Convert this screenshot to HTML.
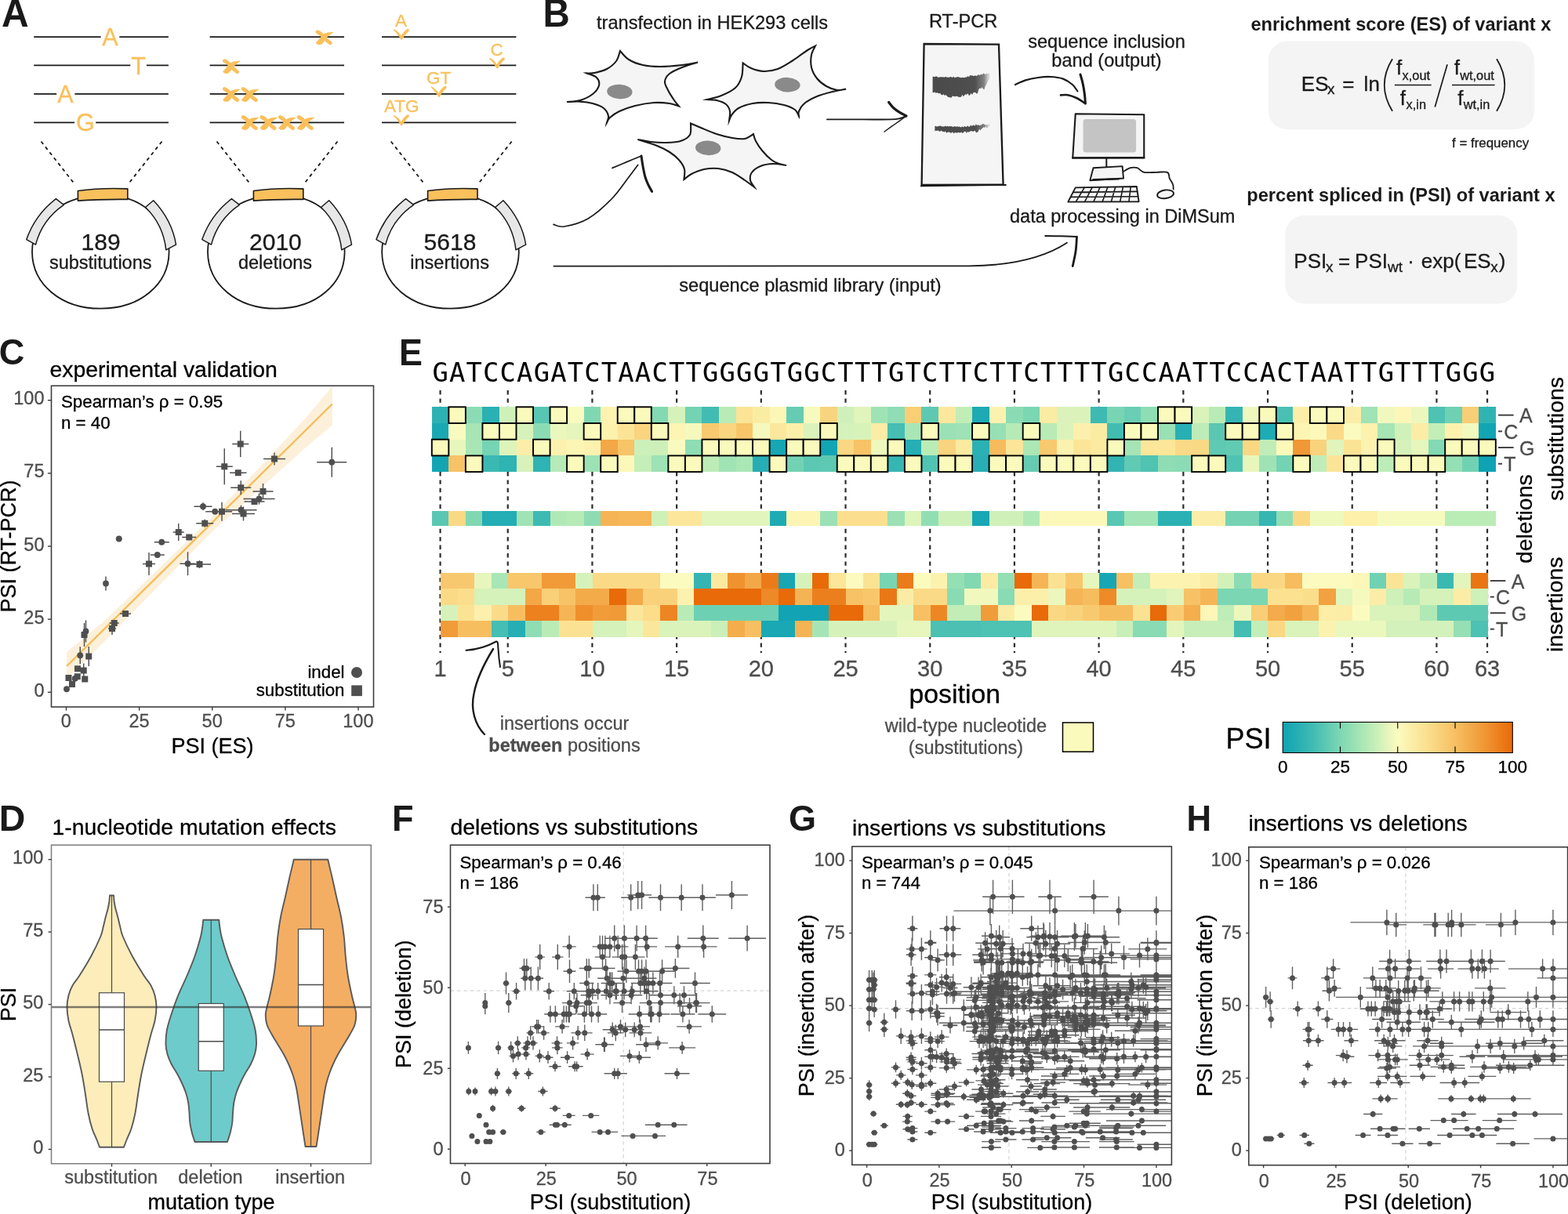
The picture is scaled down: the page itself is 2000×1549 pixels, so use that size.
<!DOCTYPE html>
<html lang="en"><head><meta charset="utf-8"><title>Figure</title>
<style>html,body{margin:0;padding:0;background:#fff}body{width:2000px;height:1549px;overflow:hidden}svg{display:block}text{font-family:"Liberation Sans", Arial, Helvetica, sans-serif}</style>
</head><body>
<svg width="2000" height="1549" viewBox="0 0 2000 1549">
<rect width="2000" height="1549" fill="#fff"/>
<g id="panelA">
<text transform="translate(2 34.1) scale(0.97 1)" x="0" y="0" font-size="49.5" font-weight="bold" fill="#1a1a1a">A</text>
<path d="M43.2,47.1H128.6M152.3,47.1H214.9M43.2,83.4H166.3M186.9,83.4H214.9M43.2,119.9H72.1M95.4,119.9H214.9M43.2,156.3H95M122.2,156.3H214.9" fill="none" stroke="#1a1a1a" stroke-width="1.75"/>
<text x="140.3" y="58.2" font-size="30.5" text-anchor="middle" fill="#f9c05c" stroke="#f9c05c" stroke-width="0.3">A</text>
<text x="176.5" y="94.6" font-size="30.5" text-anchor="middle" fill="#f9c05c" stroke="#f9c05c" stroke-width="0.3">T</text>
<text x="83.3" y="130.8" font-size="30.5" text-anchor="middle" fill="#f9c05c" stroke="#f9c05c" stroke-width="0.3">A</text>
<text x="108.8" y="167.2" font-size="30.5" text-anchor="middle" fill="#f9c05c" stroke="#f9c05c" stroke-width="0.3">G</text>
<path d="M267.6,47.1H439M267.6,83.4H439M267.6,119.9H439M267.6,156.3H439" fill="none" stroke="#1a1a1a" stroke-width="1.75"/>
<g transform="translate(413.2 47.9)"><path d="M-8.3,-7.1C-4.6,-5.6 -1.6,-2.6 0.6,0.4C2.8,3 5.2,5.4 8.1,7" fill="none" stroke="#f9c05c" stroke-width="4.7" stroke-linecap="round"/><path d="M-10.5,6.6C-7,3.4 -4.4,-0.8 -1.4,-3.6C2,-6.4 7.4,-7.4 12.4,-6.6C8.6,-4.6 5,-1.6 2.4,1.8C0.2,4.8 -1.6,8.4 -4.4,9.1C-6.8,9.6 -9.6,8.6 -10.5,6.6Z" fill="#f9c05c"/></g>
<g transform="translate(294.6 84.7)"><path d="M-8.3,-7.1C-4.6,-5.6 -1.6,-2.6 0.6,0.4C2.8,3 5.2,5.4 8.1,7" fill="none" stroke="#f9c05c" stroke-width="4.7" stroke-linecap="round"/><path d="M-10.5,6.6C-7,3.4 -4.4,-0.8 -1.4,-3.6C2,-6.4 7.4,-7.4 12.4,-6.6C8.6,-4.6 5,-1.6 2.4,1.8C0.2,4.8 -1.6,8.4 -4.4,9.1C-6.8,9.6 -9.6,8.6 -10.5,6.6Z" fill="#f9c05c"/></g>
<g transform="translate(294.6 120.6)"><path d="M-8.3,-7.1C-4.6,-5.6 -1.6,-2.6 0.6,0.4C2.8,3 5.2,5.4 8.1,7" fill="none" stroke="#f9c05c" stroke-width="4.7" stroke-linecap="round"/><path d="M-10.5,6.6C-7,3.4 -4.4,-0.8 -1.4,-3.6C2,-6.4 7.4,-7.4 12.4,-6.6C8.6,-4.6 5,-1.6 2.4,1.8C0.2,4.8 -1.6,8.4 -4.4,9.1C-6.8,9.6 -9.6,8.6 -10.5,6.6Z" fill="#f9c05c"/></g>
<g transform="translate(318.3 120.6)"><path d="M-8.3,-7.1C-4.6,-5.6 -1.6,-2.6 0.6,0.4C2.8,3 5.2,5.4 8.1,7" fill="none" stroke="#f9c05c" stroke-width="4.7" stroke-linecap="round"/><path d="M-10.5,6.6C-7,3.4 -4.4,-0.8 -1.4,-3.6C2,-6.4 7.4,-7.4 12.4,-6.6C8.6,-4.6 5,-1.6 2.4,1.8C0.2,4.8 -1.6,8.4 -4.4,9.1C-6.8,9.6 -9.6,8.6 -10.5,6.6Z" fill="#f9c05c"/></g>
<g transform="translate(318.3 156.6)"><path d="M-8.3,-7.1C-4.6,-5.6 -1.6,-2.6 0.6,0.4C2.8,3 5.2,5.4 8.1,7" fill="none" stroke="#f9c05c" stroke-width="4.7" stroke-linecap="round"/><path d="M-10.5,6.6C-7,3.4 -4.4,-0.8 -1.4,-3.6C2,-6.4 7.4,-7.4 12.4,-6.6C8.6,-4.6 5,-1.6 2.4,1.8C0.2,4.8 -1.6,8.4 -4.4,9.1C-6.8,9.6 -9.6,8.6 -10.5,6.6Z" fill="#f9c05c"/></g>
<g transform="translate(342 156.6)"><path d="M-8.3,-7.1C-4.6,-5.6 -1.6,-2.6 0.6,0.4C2.8,3 5.2,5.4 8.1,7" fill="none" stroke="#f9c05c" stroke-width="4.7" stroke-linecap="round"/><path d="M-10.5,6.6C-7,3.4 -4.4,-0.8 -1.4,-3.6C2,-6.4 7.4,-7.4 12.4,-6.6C8.6,-4.6 5,-1.6 2.4,1.8C0.2,4.8 -1.6,8.4 -4.4,9.1C-6.8,9.6 -9.6,8.6 -10.5,6.6Z" fill="#f9c05c"/></g>
<g transform="translate(365.6 156.6)"><path d="M-8.3,-7.1C-4.6,-5.6 -1.6,-2.6 0.6,0.4C2.8,3 5.2,5.4 8.1,7" fill="none" stroke="#f9c05c" stroke-width="4.7" stroke-linecap="round"/><path d="M-10.5,6.6C-7,3.4 -4.4,-0.8 -1.4,-3.6C2,-6.4 7.4,-7.4 12.4,-6.6C8.6,-4.6 5,-1.6 2.4,1.8C0.2,4.8 -1.6,8.4 -4.4,9.1C-6.8,9.6 -9.6,8.6 -10.5,6.6Z" fill="#f9c05c"/></g>
<g transform="translate(389.3 156.6)"><path d="M-8.3,-7.1C-4.6,-5.6 -1.6,-2.6 0.6,0.4C2.8,3 5.2,5.4 8.1,7" fill="none" stroke="#f9c05c" stroke-width="4.7" stroke-linecap="round"/><path d="M-10.5,6.6C-7,3.4 -4.4,-0.8 -1.4,-3.6C2,-6.4 7.4,-7.4 12.4,-6.6C8.6,-4.6 5,-1.6 2.4,1.8C0.2,4.8 -1.6,8.4 -4.4,9.1C-6.8,9.6 -9.6,8.6 -10.5,6.6Z" fill="#f9c05c"/></g>
<path d="M487,47.1H658.4M487,83.4H658.4M487,119.9H658.4M487,156.3H658.4" fill="none" stroke="#1a1a1a" stroke-width="1.75"/>
<text x="511.6" y="33.8" font-size="22.5" text-anchor="middle" fill="#f9c05c" stroke="#f9c05c" stroke-width="0.3">A</text>
<text x="633.6" y="70.9" font-size="22.5" text-anchor="middle" fill="#f9c05c" stroke="#f9c05c" stroke-width="0.3">C</text>
<text x="559.6" y="106.9" font-size="22.5" text-anchor="middle" fill="#f9c05c" stroke="#f9c05c" stroke-width="0.3">GT</text>
<text x="512.2" y="143.3" font-size="22.5" text-anchor="middle" fill="#f9c05c" stroke="#f9c05c" stroke-width="0.3">ATG</text>
<path transform="translate(512.2 50.2)" d="M-9.8,-13.2C-6.4,-11.4 -2.8,-8.4 -0.4,-4.6C1.6,-8.6 5,-12.2 8.2,-13.8C9.4,-13.2 9.8,-12 9.4,-10.8C5.8,-7.6 3,-3.4 0.6,0.4C0.2,0.8 -0.6,0.8 -1,0.2C-3,-3.8 -6.4,-8.2 -10.2,-11.8Z" fill="#f9c05c"/>
<path transform="translate(634.3 86.8)" d="M-9.8,-13.2C-6.4,-11.4 -2.8,-8.4 -0.4,-4.6C1.6,-8.6 5,-12.2 8.2,-13.8C9.4,-13.2 9.8,-12 9.4,-10.8C5.8,-7.6 3,-3.4 0.6,0.4C0.2,0.8 -0.6,0.8 -1,0.2C-3,-3.8 -6.4,-8.2 -10.2,-11.8Z" fill="#f9c05c"/>
<path transform="translate(559.9 123.4)" d="M-9.8,-13.2C-6.4,-11.4 -2.8,-8.4 -0.4,-4.6C1.6,-8.6 5,-12.2 8.2,-13.8C9.4,-13.2 9.8,-12 9.4,-10.8C5.8,-7.6 3,-3.4 0.6,0.4C0.2,0.8 -0.6,0.8 -1,0.2C-3,-3.8 -6.4,-8.2 -10.2,-11.8Z" fill="#f9c05c"/>
<path transform="translate(512.2 159.9)" d="M-9.8,-13.2C-6.4,-11.4 -2.8,-8.4 -0.4,-4.6C1.6,-8.6 5,-12.2 8.2,-13.8C9.4,-13.2 9.8,-12 9.4,-10.8C5.8,-7.6 3,-3.4 0.6,0.4C0.2,0.8 -0.6,0.8 -1,0.2C-3,-3.8 -6.4,-8.2 -10.2,-11.8Z" fill="#f9c05c"/>
<g transform="translate(0 0)">
<path d="M41,322C40.5,283 76,251 128,248.8C181,247 216,282 215.6,322C215,362 180,393.5 129,393.7C77,394 41.5,362 41,322Z" fill="none" stroke="#1a1a1a" stroke-width="1.8"/>
<path d="M71.4,253.7L81.4,261.4C63,274 51,291 45.5,312.1L33.8,305.6C41,285 54,267 71.4,253.7Z" fill="#e6e7e6" stroke="#1a1a1a" stroke-width="1.5" stroke-linejoin="round"/>
<path d="M195.7,255.8C210,271 221,291 224.5,312.1L211.8,318.8C209.5,298 200,278.5 185.5,264.5Z" fill="#e6e7e6" stroke="#1a1a1a" stroke-width="1.5" stroke-linejoin="round"/>
<path d="M99.4,243.5C120,240.6 142,240 162.8,240.9L162.8,254.4C142,254.2 120,254.6 99.4,256.1Z" fill="#f9c05c" stroke="#1a1a1a" stroke-width="1.6" stroke-linejoin="round"/>
<text x="128.6" y="318.6" font-size="30" text-anchor="middle" fill="#1a1a1a" stroke="#1a1a1a" stroke-width="0.3">189</text>
<text x="128.2" y="343.3" font-size="23.5" text-anchor="middle" fill="#1a1a1a" stroke="#1a1a1a" stroke-width="0.3">substitutions</text>
<path d="M52.5,180.5L95.4,235.1M206.5,180.5L163.6,234.8" fill="none" stroke="#1a1a1a" stroke-width="1.8" stroke-dasharray="4.4 4.4"/>
</g>
<g transform="translate(224 0)">
<path d="M41,322C40.5,283 76,251 128,248.8C181,247 216,282 215.6,322C215,362 180,393.5 129,393.7C77,394 41.5,362 41,322Z" fill="none" stroke="#1a1a1a" stroke-width="1.8"/>
<path d="M71.4,253.7L81.4,261.4C63,274 51,291 45.5,312.1L33.8,305.6C41,285 54,267 71.4,253.7Z" fill="#e6e7e6" stroke="#1a1a1a" stroke-width="1.5" stroke-linejoin="round"/>
<path d="M195.7,255.8C210,271 221,291 224.5,312.1L211.8,318.8C209.5,298 200,278.5 185.5,264.5Z" fill="#e6e7e6" stroke="#1a1a1a" stroke-width="1.5" stroke-linejoin="round"/>
<path d="M99.4,243.5C120,240.6 142,240 162.8,240.9L162.8,254.4C142,254.2 120,254.6 99.4,256.1Z" fill="#f9c05c" stroke="#1a1a1a" stroke-width="1.6" stroke-linejoin="round"/>
<text x="127.4" y="318.6" font-size="30" text-anchor="middle" fill="#1a1a1a" stroke="#1a1a1a" stroke-width="0.3">2010</text>
<text x="127" y="343.3" font-size="23.5" text-anchor="middle" fill="#1a1a1a" stroke="#1a1a1a" stroke-width="0.3">deletions</text>
<path d="M52.5,180.5L95.4,235.1M206.5,180.5L163.6,234.8" fill="none" stroke="#1a1a1a" stroke-width="1.8" stroke-dasharray="4.4 4.4"/>
</g>
<g transform="translate(446.2 0)">
<path d="M41,322C40.5,283 76,251 128,248.8C181,247 216,282 215.6,322C215,362 180,393.5 129,393.7C77,394 41.5,362 41,322Z" fill="none" stroke="#1a1a1a" stroke-width="1.8"/>
<path d="M71.4,253.7L81.4,261.4C63,274 51,291 45.5,312.1L33.8,305.6C41,285 54,267 71.4,253.7Z" fill="#e6e7e6" stroke="#1a1a1a" stroke-width="1.5" stroke-linejoin="round"/>
<path d="M195.7,255.8C210,271 221,291 224.5,312.1L211.8,318.8C209.5,298 200,278.5 185.5,264.5Z" fill="#e6e7e6" stroke="#1a1a1a" stroke-width="1.5" stroke-linejoin="round"/>
<path d="M99.4,243.5C120,240.6 142,240 162.8,240.9L162.8,254.4C142,254.2 120,254.6 99.4,256.1Z" fill="#f9c05c" stroke="#1a1a1a" stroke-width="1.6" stroke-linejoin="round"/>
<text x="127.8" y="318.6" font-size="30" text-anchor="middle" fill="#1a1a1a" stroke="#1a1a1a" stroke-width="0.3">5618</text>
<text x="127.4" y="343.3" font-size="23.5" text-anchor="middle" fill="#1a1a1a" stroke="#1a1a1a" stroke-width="0.3">insertions</text>
<path d="M52.5,180.5L95.4,235.1M206.5,180.5L163.6,234.8" fill="none" stroke="#1a1a1a" stroke-width="1.8" stroke-dasharray="4.4 4.4"/>
</g>
</g>
<g id="panelB">
<text transform="translate(692.6 34.1) scale(0.96 1)" x="0" y="0" font-size="49.5" font-weight="bold" fill="#1a1a1a">B</text>
<text x="761" y="36.6" font-size="23.6" fill="#1a1a1a" stroke="#1a1a1a" stroke-width="0.3">transfection in HEK293 cells</text>
<text x="1185" y="35" font-size="23.6" fill="#1a1a1a" stroke="#1a1a1a" stroke-width="0.3">RT-PCR</text>
<text x="1411.5" y="60.6" font-size="23.6" text-anchor="middle" fill="#1a1a1a" stroke="#1a1a1a" stroke-width="0.3">sequence inclusion</text>
<text x="1411.5" y="84.6" font-size="23.6" text-anchor="middle" fill="#1a1a1a" stroke="#1a1a1a" stroke-width="0.3">band (output)</text>
<text x="1288" y="283.6" font-size="23.5" fill="#1a1a1a" stroke="#1a1a1a" stroke-width="0.3">data processing in DiMSum</text>
<text x="1033.5" y="372.3" font-size="23.6" text-anchor="middle" fill="#1a1a1a" stroke="#1a1a1a" stroke-width="0.3">sequence plasmid library (input)</text>
<path d="M723,130C725.83,129.67 734.5,129.67 740,128C745.5,126.33 752,123.17 756,120C760,116.83 763.17,112.5 764,109C764.83,105.5 763.67,101.6 761,99C758.33,96.4 750.17,94.33 748,93.4C749.67,93.33 753.67,93.9 758,93C762.33,92.1 769.33,90.5 774,88C778.67,85.5 783.17,81.83 786,78C788.83,74.17 790.17,67.17 791,65C792.83,66.83 797.17,73 802,76C806.83,79 813.33,81.5 820,83C826.67,84.5 833.67,85 842,85C850.33,85 862,83.9 870,83C878,82.1 886.67,80.17 890,79.6C886.67,80.67 876,83.6 870,86C864,88.4 857.67,91 854,94C850.33,97 848.33,100.5 848,104C847.67,107.5 850,111 852,115C854,119 857.67,124.57 860,128C862.33,131.43 865,134.33 866,135.6C864,135 859.33,132.77 854,132C848.67,131.23 841.33,130.5 834,131C826.67,131.5 817.33,133.17 810,135C802.67,136.83 795.33,139.5 790,142C784.67,144.5 780.67,147.57 778,150C775.33,152.43 774.67,155.5 774,156.6C774.33,155.17 776.67,151.1 776,148C775.33,144.9 773.33,140.67 770,138C766.67,135.33 761,133.4 756,132C751,130.6 745.5,129.93 740,129.6C734.5,129.27 725.83,129.93 723,130Z" fill="#f5f5f5" stroke="#1a1a1a" stroke-width="2.1" stroke-linejoin="miter" stroke-miterlimit="8"/>
<ellipse cx="790.4" cy="117" rx="16.2" ry="9.3" fill="#8a8a8a" transform="rotate(3 790.4 117)"/>
<path d="M901.6,127C904.67,126.17 913.93,124.5 920,122C926.07,119.5 933.67,116 938,112C942.33,108 944.4,103.27 946,98C947.6,92.73 947.33,83.33 947.6,80.4C949.33,81.5 953.6,85.23 958,87C962.4,88.77 968.33,90.83 974,91C979.67,91.17 986,90.17 992,88C998,85.83 1003.67,82 1010,78C1016.33,74 1025,67.23 1030,64C1035,60.77 1038.33,59.5 1040,58.6C1039.17,60.5 1035.83,65.43 1035,70C1034.17,74.57 1033.83,81 1035,86C1036.17,91 1038.83,96 1042,100C1045.17,104 1049.67,107.5 1054,110C1058.33,112.5 1063.83,114.4 1068,115C1072.17,115.6 1077.17,113.83 1079,113.6C1076.17,114.17 1068.17,115.43 1062,117C1055.83,118.57 1048,120.5 1042,123C1036,125.5 1029.83,128.83 1026,132C1022.17,135.17 1020.17,139.27 1019,142C1017.83,144.73 1019,147.33 1019,148.4C1018.17,147 1017.17,142.4 1014,140C1010.83,137.6 1005.67,135.5 1000,134C994.33,132.5 986.67,131.33 980,131C973.33,130.67 966.33,130.83 960,132C953.67,133.17 946.5,135.5 942,138C937.5,140.5 935,144.33 933,147C931,149.67 930.5,152.83 930,154C930.17,152 931.67,145.5 931,142C930.33,138.5 928.83,135.33 926,133C923.17,130.67 918.07,129 914,128C909.93,127 903.67,127.17 901.6,127Z" fill="#f5f5f5" stroke="#1a1a1a" stroke-width="2.1" stroke-linejoin="miter" stroke-miterlimit="8"/>
<ellipse cx="1004.4" cy="108.2" rx="16.2" ry="9.3" fill="#8a8a8a" transform="rotate(3 1004.4 108.2)"/>
<path d="M813.4,178C816.17,178.5 823.9,180.33 830,181C836.1,181.67 843.67,182.17 850,182C856.33,181.83 863,181.67 868,180C873,178.33 877.83,175.77 880,172C882.17,168.23 880.83,159.83 881,157.4C883.17,158.33 888.5,160.73 894,163C899.5,165.27 907.33,168.83 914,171C920.67,173.17 928,175 934,176C940,177 945.5,177.83 950,177C954.5,176.17 959.17,172 961,171C961.5,172.5 962.17,176.5 964,180C965.83,183.5 968.67,188 972,192C975.33,196 980.33,201.17 984,204C987.67,206.83 990.83,207.83 994,209C997.17,210.17 1001.5,210.67 1003,211C1000.17,210.67 991.5,208.83 986,209C980.5,209.17 974.5,210.17 970,212C965.5,213.83 961.17,217 959,220C956.83,223 956.43,226.83 957,230C957.57,233.17 961.5,237.5 962.4,239C960.33,237.5 954.73,233.17 950,230C945.27,226.83 939.67,222.5 934,220C928.33,217.5 922,215.67 916,215C910,214.33 903.67,214.83 898,216C892.33,217.17 886.27,219.83 882,222C877.73,224.17 874,227.83 872.4,229C872.5,226.83 874.07,220.17 873,216C871.93,211.83 869.17,207.67 866,204C862.83,200.33 858.67,197 854,194C849.33,191 844.77,188.67 838,186C831.23,183.33 817.5,179.33 813.4,178Z" fill="#f5f5f5" stroke="#1a1a1a" stroke-width="2.1" stroke-linejoin="miter" stroke-miterlimit="8"/>
<ellipse cx="903.2" cy="188.8" rx="16.2" ry="9.3" fill="#8a8a8a" transform="rotate(3 903.2 188.8)"/>
<path d="M706,286.4C708.33,286.83 712.67,290.23 720,289C727.33,287.77 740,284.83 750,279C760,273.17 771.33,262.83 780,254C788.67,245.17 796.4,233.27 802,226C807.6,218.73 811.67,213 813.6,210.4" fill="none" stroke="#1a1a1a" stroke-width="1.7" stroke-linecap="round" stroke-linejoin="round"/>
<path d="M781,214.4C784.17,213.07 793.83,208.97 800,206.4C806.17,203.83 815,200.23 818,199" fill="none" stroke="#1a1a1a" stroke-width="1.7" stroke-linecap="round" stroke-linejoin="round"/>
<path d="M818,199C818.33,201.17 819.17,207.5 820,212C820.83,216.5 821.83,222 823,226C824.17,230 825.57,232.93 827,236C828.43,239.07 830.83,243 831.6,244.4" fill="none" stroke="#1a1a1a" stroke-width="3" stroke-linecap="round" stroke-linejoin="round"/>
<path d="M1055,152.4C1062.5,152.4 1086.5,152.4 1100,152.4C1113.5,152.4 1128,152.63 1136,152.4C1144,152.17 1144.67,151.73 1148,151C1151.33,150.27 1154.67,148.5 1156,148" fill="none" stroke="#1a1a1a" stroke-width="1.9" stroke-linecap="round" stroke-linejoin="round"/>
<path d="M1133.6,130.4C1134.67,131.67 1137.6,135.8 1140,138C1142.4,140.2 1145.33,141.93 1148,143.6C1150.67,145.27 1154.67,147.27 1156,148" fill="none" stroke="#1a1a1a" stroke-width="3.2" stroke-linecap="round" stroke-linejoin="round"/>
<path d="M1156,148C1153.67,149.67 1146.67,154.67 1142,158C1137.33,161.33 1130.33,166.33 1128,168" fill="none" stroke="#1a1a1a" stroke-width="1.5" stroke-linecap="round" stroke-linejoin="round"/>
<path d="M1178.6,56L1274,56.6L1279.6,235.6L1175.6,236Z" fill="#f5f5f5" stroke="#1a1a1a" stroke-width="2.3" stroke-linejoin="miter"/>
<path d="M1174,237.4L1283.6,236" fill="none" stroke="#1a1a1a" stroke-width="1.8"/>
<defs><linearGradient id="bandfade" x1="0" x2="1" y1="0" y2="0"><stop offset="0" stop-color="#4a4a4a"/><stop offset="0.74" stop-color="#4f4f4f"/><stop offset="0.9" stop-color="#6e6e6e" stop-opacity="0.85"/><stop offset="1" stop-color="#999" stop-opacity="0.2"/></linearGradient></defs>
<path d="M1189.6,97.66 L1191,97.83 L1192.4,98.18 L1193.81,97.33 L1195.21,97.68 L1196.61,98.77 L1198.01,98.56 L1199.41,98.29 L1200.82,98.3 L1202.22,98.15 L1203.62,98.41 L1205.02,98.59 L1206.42,97.84 L1207.82,98.84 L1209.23,98.61 L1210.63,98.64 L1212.03,98.07 L1213.43,98.18 L1214.83,99.04 L1216.24,97.62 L1217.64,99.27 L1219.04,98.62 L1220.44,98.39 L1221.84,98.07 L1223.25,98.57 L1224.65,98.79 L1226.05,99.18 L1227.45,98.75 L1228.85,99.1 L1230.26,99.08 L1231.66,98.47 L1233.06,98.56 L1234.46,97.02 L1235.86,98.16 L1237.27,96.03 L1238.67,96.58 L1240.07,96.04 L1241.47,97.31 L1242.87,96.45 L1244.28,96.57 L1245.68,96.9 L1247.08,95.83 L1248.48,95.26 L1249.88,95.95 L1251.28,94.59 L1252.69,95.46 L1254.09,93.47 L1255.49,93.88 L1256.89,95.23 L1258.29,93.61 L1259.7,93.89 L1261.1,93.45 L1262.5,94.57 L1262.5,100.03 L1261.1,101.71 L1259.7,104.39 L1258.29,107.46 L1256.89,109.83 L1255.49,113.96 L1254.09,113.73 L1252.69,111.16 L1251.28,113.04 L1249.88,112.46 L1248.48,113.79 L1247.08,118.72 L1245.68,119.72 L1244.28,118.08 L1242.87,117.7 L1241.47,118.16 L1240.07,121.03 L1238.67,118.74 L1237.27,121.29 L1235.86,122.12 L1234.46,118.95 L1233.06,121.02 L1231.66,120.01 L1230.26,121.54 L1228.85,123.17 L1227.45,120.76 L1226.05,123.8 L1224.65,123.86 L1223.25,124.03 L1221.84,123.25 L1220.44,122.84 L1219.04,122.77 L1217.64,123.31 L1216.24,122.75 L1214.83,122.44 L1213.43,124.76 L1212.03,124.21 L1210.63,124.29 L1209.23,123.86 L1207.82,122.42 L1206.42,120.89 L1205.02,121.89 L1203.62,120.14 L1202.22,121.34 L1200.82,121.17 L1199.41,119.04 L1198.01,119.37 L1196.61,118.97 L1195.21,118.12 L1193.81,119.12 L1192.4,117.3 L1191,118.26 L1189.6,118.09Z" fill="url(#bandfade)"/>
<path d="M1192.4,160.91 L1193.75,160.65 L1195.1,161.66 L1196.44,161.09 L1197.79,160.92 L1199.14,160.35 L1200.49,161.28 L1201.84,161.3 L1203.18,161.42 L1204.53,161.5 L1205.88,160.41 L1207.23,161.53 L1208.58,160.84 L1209.93,161.46 L1211.27,161.09 L1212.62,161.13 L1213.97,161.03 L1215.32,161.95 L1216.67,161.6 L1218.01,161.12 L1219.36,162.12 L1220.71,160.91 L1222.06,161.97 L1223.41,161.2 L1224.75,162.3 L1226.1,162.37 L1227.45,161.24 L1228.8,162.44 L1230.15,160.89 L1231.49,161.48 L1232.84,162 L1234.19,160.37 L1235.54,161.68 L1236.89,161.49 L1238.23,159.62 L1239.58,161.06 L1240.93,159.72 L1242.28,159.69 L1243.63,160.8 L1244.97,158.2 L1246.32,160.37 L1247.67,159.03 L1249.02,160.28 L1250.37,159.72 L1251.72,159.46 L1253.06,158.36 L1254.41,158.02 L1255.76,158.85 L1257.11,159.25 L1258.46,159.27 L1259.8,159.11 L1261.15,158.89 L1262.5,156.09 L1262.5,161.14 L1261.15,160.74 L1259.8,163.12 L1258.46,163.33 L1257.11,161.44 L1255.76,163.05 L1254.41,162.19 L1253.06,163.64 L1251.72,164.79 L1250.37,166.62 L1249.02,164.62 L1247.67,168.18 L1246.32,168.85 L1244.97,169.14 L1243.63,166.4 L1242.28,167.61 L1240.93,167.69 L1239.58,167.18 L1238.23,167.35 L1236.89,167.68 L1235.54,168.9 L1234.19,167.76 L1232.84,169.92 L1231.49,167.85 L1230.15,167.82 L1228.8,169.14 L1227.45,169.98 L1226.1,168.57 L1224.75,169.59 L1223.41,169.37 L1222.06,168.74 L1220.71,169.8 L1219.36,169.21 L1218.01,169.12 L1216.67,170.53 L1215.32,168.4 L1213.97,169.25 L1212.62,169.69 L1211.27,168.75 L1209.93,168.58 L1208.58,168.73 L1207.23,169.8 L1205.88,167.33 L1204.53,168.77 L1203.18,167.64 L1201.84,167.71 L1200.49,166.61 L1199.14,167.69 L1197.79,167.46 L1196.44,166.14 L1195.1,167.12 L1193.75,166.62 L1192.4,167.43Z" fill="url(#bandfade)"/>
<path d="M1295,108C1297.17,107.07 1303.17,103.9 1308,102.4C1312.83,100.9 1318.67,99.73 1324,99C1329.33,98.27 1334.67,97.73 1340,98C1345.33,98.27 1351.33,98.93 1356,100.6C1360.67,102.27 1364.93,105.37 1368,108C1371.07,110.63 1373.33,115 1374.4,116.4" fill="none" stroke="#1a1a1a" stroke-width="2.2" stroke-linecap="round" stroke-linejoin="round"/>
<path d="M1378,95C1378.5,96.83 1380.1,101.83 1381,106C1381.9,110.17 1382.83,115.67 1383.4,120C1383.97,124.33 1384.23,130 1384.4,132" fill="none" stroke="#1a1a1a" stroke-width="3" stroke-linecap="round" stroke-linejoin="round"/>
<path d="M1353,121.4C1354.5,121.37 1358.67,120.6 1362,121.2C1365.33,121.8 1369.27,123.2 1373,125C1376.73,126.8 1382.5,130.83 1384.4,132" fill="none" stroke="#1a1a1a" stroke-width="2.6" stroke-linecap="round" stroke-linejoin="round"/>
<path d="M1371.75,145.26 L1459.26,146.31 L1459.26,201.26 L1368.25,201.26Z" fill="#f5f5f5" stroke="#1a1a1a" stroke-width="2.1" stroke-linejoin="round" stroke-linecap="round"/>
<path d="M1367.2,201.61L1460.31,201.26" fill="none" stroke="#1a1a1a" stroke-width="2.4"/>
<rect x="1381.55" y="151.91" width="67.55" height="42.7" fill="#c4c4c4" rx="3.5" ry="3.5"/>
<path d="M1411.31,202.31 L1411.31,217.01" fill="none" stroke="#1a1a1a" stroke-width="2" stroke-linejoin="round" stroke-linecap="round"/>
<path d="M1394.5,214.21 L1431.61,212.11 L1433.01,227.51 L1390.3,230.31Z" fill="#f5f5f5" stroke="#1a1a1a" stroke-width="1.9" stroke-linejoin="round" stroke-linecap="round"/>
<path d="M1394.5,229.26 L1426.71,228.21" fill="none" stroke="#1a1a1a" stroke-width="2.4" stroke-linejoin="round" stroke-linecap="round"/>
<path d="M1371.75,239.41 L1449.81,238.01 L1452.61,257.26 L1362.3,257.61Z" fill="#f5f5f5" stroke="#1a1a1a" stroke-width="1.9" stroke-linejoin="round" stroke-linecap="round"/>
<path d="M1368.63,245.42L1450.73,244.36M1365.52,251.42L1451.66,250.72M1383.61,238.71L1372.19,257.61M1393.37,238.71L1383.48,257.61M1403.12,238.71L1394.77,257.61M1412.88,238.71L1406.06,257.61M1422.64,238.71L1417.34,257.61M1432.39,238.71L1428.63,257.61M1442.15,238.71L1439.92,257.61" fill="none" stroke="#1a1a1a" stroke-width="1.6"/>
<path d="M1433.01,218.76C1434.47,218 1438.84,214.97 1441.76,214.21C1444.67,213.45 1447.59,213.28 1450.51,214.21C1453.42,215.14 1455.17,218.88 1459.26,219.81C1463.34,220.74 1470.05,219.81 1475.01,219.81C1479.97,219.81 1486.21,218.53 1489.01,219.81C1491.81,221.09 1490.64,224.94 1491.81,227.51C1492.98,230.08 1495.19,232.88 1496.01,235.21C1496.83,237.55 1496.59,240.46 1496.71,241.51" fill="none" stroke="#1a1a1a" stroke-width="1.8" stroke-linecap="round" stroke-linejoin="round"/>
<ellipse cx="1486.56" cy="247.81" rx="10.5" ry="5.3" fill="#f5f5f5" stroke="#1a1a1a" stroke-width="1.9" transform="rotate(-8 1486.56 247.81)"/>
<path d="M706.4,339.6L1236,339.3C1290,339 1330,330 1361,309.8" fill="none" stroke="#1a1a1a" stroke-width="1.8" stroke-linecap="round"/>
<path d="M1333.25,301.02C1336.46,301.07 1345.79,301.19 1352.5,301.37C1359.21,301.54 1370,301.95 1373.5,302.07" fill="none" stroke="#1a1a1a" stroke-width="2" stroke-linecap="round" stroke-linejoin="round"/>
<path d="M1373.5,302.07C1373.27,305.1 1372.98,314.02 1372.1,320.27C1371.23,326.51 1368.9,336.31 1368.25,339.52" fill="none" stroke="#1a1a1a" stroke-width="2.8" stroke-linecap="round" stroke-linejoin="round"/>
<text x="1595.5" y="38.5" font-size="23.6" font-weight="bold" fill="#1a1a1a">enrichment score (ES) of variant x</text>
<rect x="1617.8" y="52.5" width="339.2" height="112.7" fill="#f4f4f4" rx="24" ry="24"/>
<text x="1590.3" y="257.3" font-size="23.6" font-weight="bold" fill="#1a1a1a">percent spliced in (PSI) of variant x</text>
<rect x="1639.5" y="274.8" width="295.8" height="112.7" fill="#f4f4f4" rx="24" ry="24"/>
<text x="1852" y="188.1" font-size="16.9" fill="#1a1a1a" stroke="#1a1a1a" stroke-width="0.3">f = frequency</text>
<text x="1659.82" y="115.51" font-size="26" fill="#1a1a1a" stroke="#1a1a1a" stroke-width="0.3">ES</text>
<text x="1693.07" y="119.71" font-size="19" fill="#1a1a1a" stroke="#1a1a1a" stroke-width="0.3">x</text>
<text x="1712.32" y="115.51" font-size="26" fill="#1a1a1a" stroke="#1a1a1a" stroke-width="0.3">=</text>
<text x="1739.62" y="115.51" font-size="26" fill="#1a1a1a" stroke="#1a1a1a" stroke-width="0.3">ln</text>
<text x="1780.92" y="95.2" font-size="26" fill="#1a1a1a" stroke="#1a1a1a" stroke-width="0.3">f</text>
<text x="1788.62" y="101.51" font-size="16.4" fill="#1a1a1a" stroke="#1a1a1a" stroke-width="0.3">x,out</text>
<text x="1785.82" y="134.06" font-size="26" fill="#1a1a1a" stroke="#1a1a1a" stroke-width="0.3">f</text>
<text x="1793.52" y="139.31" font-size="16.4" fill="#1a1a1a" stroke="#1a1a1a" stroke-width="0.3">x,in</text>
<text x="1854.78" y="95.2" font-size="26" fill="#1a1a1a" stroke="#1a1a1a" stroke-width="0.3">f</text>
<text x="1862.13" y="101.51" font-size="16.4" fill="#1a1a1a" stroke="#1a1a1a" stroke-width="0.3">wt,out</text>
<text x="1859.33" y="134.06" font-size="26" fill="#1a1a1a" stroke="#1a1a1a" stroke-width="0.3">f</text>
<text x="1866.68" y="139.31" font-size="16.4" fill="#1a1a1a" stroke="#1a1a1a" stroke-width="0.3">wt,in</text>
<path d="M1778.82,108.51H1825.73M1851.98,108.51H1906.58" fill="none" stroke="#1a1a1a" stroke-width="1.6"/>
<path d="M1830.28,136.51L1846.03,82.25" fill="none" stroke="#1a1a1a" stroke-width="1.7"/>
<path d="M1776.02,75.25Q1755.52,108.51 1776.02,141.76" fill="none" stroke="#1a1a1a" stroke-width="1.8"/>
<path d="M1909.03,75.25Q1929.53,108.51 1909.03,141.76" fill="none" stroke="#1a1a1a" stroke-width="1.8"/>
<text x="1650.37" y="342.32" font-size="26" fill="#1a1a1a" stroke="#1a1a1a" stroke-width="0.3">PSI</text>
<text x="1690.97" y="346.52" font-size="19" fill="#1a1a1a" stroke="#1a1a1a" stroke-width="0.3">x</text>
<text x="1707.07" y="342.32" font-size="26" fill="#1a1a1a" stroke="#1a1a1a" stroke-width="0.3">=</text>
<text x="1728.07" y="342.32" font-size="26" fill="#1a1a1a" stroke="#1a1a1a" stroke-width="0.3">PSI</text>
<text x="1770.07" y="346.52" font-size="19" fill="#1a1a1a" stroke="#1a1a1a" stroke-width="0.3">wt</text>
<text x="1799.47" y="342.32" font-size="26" text-anchor="middle" fill="#1a1a1a" stroke="#1a1a1a" stroke-width="0.3">·</text>
<text x="1812.78" y="342.32" font-size="26" fill="#1a1a1a" stroke="#1a1a1a" stroke-width="0.3">exp(</text>
<text x="1867.03" y="342.32" font-size="26" fill="#1a1a1a" stroke="#1a1a1a" stroke-width="0.3">ES</text>
<text x="1901.33" y="346.52" font-size="19" fill="#1a1a1a" stroke="#1a1a1a" stroke-width="0.3">x</text>
<text x="1911.83" y="342.32" font-size="26" fill="#1a1a1a" stroke="#1a1a1a" stroke-width="0.3">)</text>
</g>
<g id="panelC">
<text transform="translate(-1.2 465) scale(0.97 1)" x="0" y="0" font-size="46.5" font-weight="bold" fill="#1a1a1a">C</text>
<path d="M85,832 L130,795 L200,728 L270,660 L340,587 L390,533 L423.75,493 L423.75,542.5 L390,571 L340,616 L270,679 L200,750 L130,822 L85,866Z" fill="#fdf0da"/>
<line x1="85" y1="850" x2="423.75" y2="515.5" stroke="#f5bc58" stroke-width="2.3"/>
<path d="M296.25,566.5H317.25M306.75,549.75V583.25M275.75,595.25H296.75M286.25,572.25V618.25M293.05,603.25H314.45M303.75,600.25V606.25M336,585.5H364M350,577.5V593.5M404.25,589.75H442.25M423.25,570.75V608.75M294.25,622.25H320.25M307.25,613.25V631.25M322.5,627H348.5M335.5,617V637M310.5,636.5H350.5M330.5,629.5V643.5M311.5,640H337.5M324.5,637V643M247.5,646.25H270.5M259,641.25V651.25M262.25,652.75H286.25M274.25,649.75V655.75M270,652.75H296M283,640.75V664.75M287.5,650.75H327.5M307.5,644.75V656.75M296,655.5H325M310.5,646.5V664.5M250.25,667.75H272.25M261.25,662.75V672.75M220.75,679H234.75M227.75,668V690M232.25,685.5H250.25M241.25,682.5V688.5M196.75,691.75H215.75M206.25,688.75V694.75M147.75,687.5H155.75M151.75,685.5V689.5M191.75,708H209.75M200.75,705V711M182,719.5H198M190,705V734M229.5,719.25H249.5M239.5,704.25V734.25M240,720H269M254.5,715V725M132,744.5H138M135,735.5V753.5M153,783H167M160,780V786M139.75,795H151.75M145.75,791V799M138,802H148M143,794V810M106.5,805.5H112.5M109.5,791.5V819.5M104.5,810H110.5M107.5,795V825M99.25,836.25H105.25M102.25,825.25V847.25M110.25,837.5H116.25M113.25,825V850M96,853.25H102M99,850.25V856.25M103.75,855.5H109.75M106.75,846.5V864.5M84.5,865H90.5M87.5,861V869M95.75,863.25H101.75M98.75,860.25V866.25M92.75,865.75H98.75M95.75,862.75V868.75M105.25,866.5H111.25M108.25,863.5V869.5M89,873H95M92,870V876M83,879.25H87M85,876.25V882.25" fill="none" stroke="#4f4f4f" stroke-width="1.45"/>
<rect x="302.75" y="562.5" width="8" height="8" fill="#4f4f4f"/>
<rect x="282.25" y="591.25" width="8" height="8" fill="#4f4f4f"/>
<rect x="299.75" y="599.25" width="8" height="8" fill="#4f4f4f"/>
<rect x="346" y="581.5" width="8" height="8" fill="#4f4f4f"/>
<circle cx="423.25" cy="589.75" r="3.9" fill="#4f4f4f"/>
<rect x="303.25" y="618.25" width="8" height="8" fill="#4f4f4f"/>
<rect x="331.5" y="623" width="8" height="8" fill="#4f4f4f"/>
<circle cx="330.5" cy="636.5" r="3.9" fill="#4f4f4f"/>
<rect x="320.5" y="636" width="8" height="8" fill="#4f4f4f"/>
<circle cx="259" cy="646.25" r="3.9" fill="#4f4f4f"/>
<circle cx="274.25" cy="652.75" r="3.9" fill="#4f4f4f"/>
<rect x="279" y="648.75" width="8" height="8" fill="#4f4f4f"/>
<circle cx="307.5" cy="650.75" r="3.9" fill="#4f4f4f"/>
<rect x="306.5" y="651.5" width="8" height="8" fill="#4f4f4f"/>
<rect x="257.25" y="663.75" width="8" height="8" fill="#4f4f4f"/>
<rect x="223.75" y="675" width="8" height="8" fill="#4f4f4f"/>
<rect x="237.25" y="681.5" width="8" height="8" fill="#4f4f4f"/>
<circle cx="206.25" cy="691.75" r="3.9" fill="#4f4f4f"/>
<circle cx="151.75" cy="687.5" r="3.9" fill="#4f4f4f"/>
<circle cx="200.75" cy="708" r="3.9" fill="#4f4f4f"/>
<rect x="186" y="715.5" width="8" height="8" fill="#4f4f4f"/>
<circle cx="239.5" cy="719.25" r="3.9" fill="#4f4f4f"/>
<rect x="250.5" y="716" width="8" height="8" fill="#4f4f4f"/>
<circle cx="135" cy="744.5" r="3.9" fill="#4f4f4f"/>
<rect x="156" y="779" width="8" height="8" fill="#4f4f4f"/>
<rect x="141.75" y="791" width="8" height="8" fill="#4f4f4f"/>
<rect x="139" y="798" width="8" height="8" fill="#4f4f4f"/>
<circle cx="109.5" cy="805.5" r="3.9" fill="#4f4f4f"/>
<rect x="103.5" y="806" width="8" height="8" fill="#4f4f4f"/>
<circle cx="102.25" cy="836.25" r="3.9" fill="#4f4f4f"/>
<rect x="109.25" y="833.5" width="8" height="8" fill="#4f4f4f"/>
<rect x="95" y="849.25" width="8" height="8" fill="#4f4f4f"/>
<rect x="102.75" y="851.5" width="8" height="8" fill="#4f4f4f"/>
<rect x="83.5" y="861" width="8" height="8" fill="#4f4f4f"/>
<rect x="94.75" y="859.25" width="8" height="8" fill="#4f4f4f"/>
<circle cx="95.75" cy="865.75" r="3.9" fill="#4f4f4f"/>
<rect x="104.25" y="862.5" width="8" height="8" fill="#4f4f4f"/>
<rect x="88" y="869" width="8" height="8" fill="#4f4f4f"/>
<circle cx="85" cy="879.25" r="3.9" fill="#4f4f4f"/>
<rect x="65.5" y="492.25" width="411" height="409.75" fill="none" stroke="#3c3c3c" stroke-width="1.6"/>
<line x1="84.5" y1="902" x2="84.5" y2="906.6" stroke="#3c3c3c" stroke-width="1.4"/>
<text x="84.4" y="928.3" font-size="23.5" text-anchor="middle" fill="#4d4d4d" stroke="#4d4d4d" stroke-width="0.3">0</text>
<line x1="177.62" y1="902" x2="177.62" y2="906.6" stroke="#3c3c3c" stroke-width="1.4"/>
<text x="177.53" y="928.3" font-size="23.5" text-anchor="middle" fill="#4d4d4d" stroke="#4d4d4d" stroke-width="0.3">25</text>
<line x1="270.75" y1="902" x2="270.75" y2="906.6" stroke="#3c3c3c" stroke-width="1.4"/>
<text x="270.65" y="928.3" font-size="23.5" text-anchor="middle" fill="#4d4d4d" stroke="#4d4d4d" stroke-width="0.3">50</text>
<line x1="363.88" y1="902" x2="363.88" y2="906.6" stroke="#3c3c3c" stroke-width="1.4"/>
<text x="363.77" y="928.3" font-size="23.5" text-anchor="middle" fill="#4d4d4d" stroke="#4d4d4d" stroke-width="0.3">75</text>
<line x1="457" y1="902" x2="457" y2="906.6" stroke="#3c3c3c" stroke-width="1.4"/>
<text x="456.9" y="928.3" font-size="23.5" text-anchor="middle" fill="#4d4d4d" stroke="#4d4d4d" stroke-width="0.3">100</text>
<line x1="60.9" y1="883.25" x2="65.5" y2="883.25" stroke="#3c3c3c" stroke-width="1.4"/>
<text x="56.5" y="888.75" font-size="23.5" text-anchor="end" fill="#4d4d4d" stroke="#4d4d4d" stroke-width="0.3">0</text>
<line x1="60.9" y1="790.12" x2="65.5" y2="790.12" stroke="#3c3c3c" stroke-width="1.4"/>
<text x="56.5" y="795.62" font-size="23.5" text-anchor="end" fill="#4d4d4d" stroke="#4d4d4d" stroke-width="0.3">25</text>
<line x1="60.9" y1="697" x2="65.5" y2="697" stroke="#3c3c3c" stroke-width="1.4"/>
<text x="56.5" y="702.5" font-size="23.5" text-anchor="end" fill="#4d4d4d" stroke="#4d4d4d" stroke-width="0.3">50</text>
<line x1="60.9" y1="603.88" x2="65.5" y2="603.88" stroke="#3c3c3c" stroke-width="1.4"/>
<text x="56.5" y="609.38" font-size="23.5" text-anchor="end" fill="#4d4d4d" stroke="#4d4d4d" stroke-width="0.3">75</text>
<line x1="60.9" y1="510.75" x2="65.5" y2="510.75" stroke="#3c3c3c" stroke-width="1.4"/>
<text x="56.5" y="516.25" font-size="23.5" text-anchor="end" fill="#4d4d4d" stroke="#4d4d4d" stroke-width="0.3">100</text>
<text x="63.5" y="481.1" font-size="28.4" stroke="#000" stroke-width="0.3">experimental validation</text>
<text x="271" y="960.5" font-size="27" text-anchor="middle" stroke="#000" stroke-width="0.3">PSI (ES)</text>
<text x="19.5" y="697" font-size="27" text-anchor="middle" transform="rotate(-90 19.5 697)" stroke="#000" stroke-width="0.3">PSI (RT-PCR)</text>
<text x="78" y="520" font-size="22.3" stroke="#000" stroke-width="0.3">Spearman’s ρ = 0.95</text>
<text x="78" y="546.5" font-size="22.3" stroke="#000" stroke-width="0.3">n = 40</text>
<text x="439.5" y="864.5" font-size="22.3" text-anchor="end" stroke="#000" stroke-width="0.3">indel</text>
<text x="439.5" y="887.7" font-size="22.3" text-anchor="end" stroke="#000" stroke-width="0.3">substitution</text>
<circle cx="455" cy="858" r="7" fill="#4f4f4f"/>
<rect x="448.2" y="874.4" width="13.7" height="13.7" fill="#4f4f4f"/>
</g>
<g id="panelD">
<text transform="translate(-1.2 1060) scale(1 1)" x="0" y="0" font-size="46.5" font-weight="bold" fill="#1a1a1a">D</text>
<path d="M145,1142.5C145.12,1143.96 145.33,1148.33 145.75,1151.25C146.17,1154.17 146.75,1156.88 147.5,1160C148.25,1163.12 149.29,1166.25 150.25,1170C151.21,1173.75 152.17,1178.33 153.25,1182.5C154.33,1186.67 154.17,1188.75 156.75,1195C159.33,1201.25 164.25,1211.67 168.75,1220C173.25,1228.33 179.79,1238.75 183.75,1245C187.71,1251.25 190.21,1253.33 192.5,1257.5C194.79,1261.67 196.33,1265.42 197.5,1270C198.67,1274.58 199.5,1279.58 199.5,1285C199.5,1290.42 198.67,1296.67 197.5,1302.5C196.33,1308.33 194.38,1312.92 192.5,1320C190.62,1327.08 188.25,1336.67 186.25,1345C184.25,1353.33 182.17,1361.67 180.5,1370C178.83,1378.33 177.58,1386.67 176.25,1395C174.92,1403.33 173.96,1412.5 172.5,1420C171.04,1427.5 169.38,1434.17 167.5,1440C165.62,1445.83 162.83,1451.04 161.25,1455C159.67,1458.96 158.54,1462.29 158,1463.75L127,1463.75C126.46,1462.29 125.33,1458.96 123.75,1455C122.17,1451.04 119.38,1445.83 117.5,1440C115.62,1434.17 113.96,1427.5 112.5,1420C111.04,1412.5 110.08,1403.33 108.75,1395C107.42,1386.67 106.17,1378.33 104.5,1370C102.83,1361.67 100.75,1353.33 98.75,1345C96.75,1336.67 94.38,1327.08 92.5,1320C90.62,1312.92 88.67,1308.33 87.5,1302.5C86.33,1296.67 85.5,1290.42 85.5,1285C85.5,1279.58 86.33,1274.58 87.5,1270C88.67,1265.42 90.21,1261.67 92.5,1257.5C94.79,1253.33 97.29,1251.25 101.25,1245C105.21,1238.75 111.75,1228.33 116.25,1220C120.75,1211.67 125.67,1201.25 128.25,1195C130.83,1188.75 130.67,1186.67 131.75,1182.5C132.83,1178.33 133.79,1173.75 134.75,1170C135.71,1166.25 136.75,1163.12 137.5,1160C138.25,1156.88 138.83,1154.17 139.25,1151.25C139.67,1148.33 139.88,1143.96 140,1142.5Z" fill="#fdedba" stroke="#5a5a5a" stroke-width="1.9" stroke-linejoin="round"/>
<path d="M279.25,1173.75C279.42,1175.21 279.71,1178.96 280.25,1182.5C280.79,1186.04 280.88,1188.75 282.5,1195C284.12,1201.25 287.08,1211.67 290,1220C292.92,1228.33 296.46,1236.67 300,1245C303.54,1253.33 307.88,1261.67 311.25,1270C314.62,1278.33 317.83,1287.5 320.25,1295C322.67,1302.5 324.62,1308.75 325.75,1315C326.88,1321.25 327.12,1327.5 327,1332.5C326.88,1337.5 326.17,1340.83 325,1345C323.83,1349.17 322.08,1353.33 320,1357.5C317.92,1361.67 314.79,1365.83 312.5,1370C310.21,1374.17 308.12,1378.33 306.25,1382.5C304.38,1386.67 302.58,1390.83 301.25,1395C299.92,1399.17 298.96,1403.33 298.25,1407.5C297.54,1411.67 297.33,1415.83 297,1420C296.67,1424.17 296.79,1428.33 296.25,1432.5C295.71,1436.67 294.79,1440.92 293.75,1445C292.71,1449.08 290.62,1455 290,1457L248.5,1457C247.88,1455 245.79,1449.08 244.75,1445C243.71,1440.92 242.79,1436.67 242.25,1432.5C241.71,1428.33 241.83,1424.17 241.5,1420C241.17,1415.83 240.96,1411.67 240.25,1407.5C239.54,1403.33 238.58,1399.17 237.25,1395C235.92,1390.83 234.12,1386.67 232.25,1382.5C230.38,1378.33 228.29,1374.17 226,1370C223.71,1365.83 220.58,1361.67 218.5,1357.5C216.42,1353.33 214.67,1349.17 213.5,1345C212.33,1340.83 211.62,1337.5 211.5,1332.5C211.38,1327.5 211.62,1321.25 212.75,1315C213.88,1308.75 215.83,1302.5 218.25,1295C220.67,1287.5 223.88,1278.33 227.25,1270C230.62,1261.67 234.96,1253.33 238.5,1245C242.04,1236.67 245.58,1228.33 248.5,1220C251.42,1211.67 254.38,1201.25 256,1195C257.62,1188.75 257.71,1186.04 258.25,1182.5C258.79,1178.96 259.08,1175.21 259.25,1173.75Z" fill="#6dcbcb" stroke="#5a5a5a" stroke-width="1.9" stroke-linejoin="round"/>
<path d="M418.25,1096.75C418.67,1098.54 419.83,1103.62 420.75,1107.5C421.67,1111.38 422.33,1113.75 423.75,1120C425.17,1126.25 427.38,1136.67 429.25,1145C431.12,1153.33 433.42,1161.67 435,1170C436.58,1178.33 437.79,1186.67 438.75,1195C439.71,1203.33 439.92,1211.67 440.75,1220C441.58,1228.33 442.42,1236.67 443.75,1245C445.08,1253.33 447.29,1263.33 448.75,1270C450.21,1276.67 451.58,1280.83 452.5,1285C453.42,1289.17 454.25,1291.25 454.25,1295C454.25,1298.75 453.83,1303.33 452.5,1307.5C451.17,1311.67 448.54,1315.83 446.25,1320C443.96,1324.17 441.25,1328.33 438.75,1332.5C436.25,1336.67 433.54,1340.83 431.25,1345C428.96,1349.17 426.88,1353.33 425,1357.5C423.12,1361.67 421.46,1365.83 420,1370C418.54,1374.17 417.29,1378.33 416.25,1382.5C415.21,1386.67 414.79,1388.75 413.75,1395C412.71,1401.25 411.25,1411.67 410,1420C408.75,1428.33 407.33,1437.83 406.25,1445C405.17,1452.17 403.96,1460 403.5,1463L389.5,1463C389.04,1460 387.83,1452.17 386.75,1445C385.67,1437.83 384.25,1428.33 383,1420C381.75,1411.67 380.29,1401.25 379.25,1395C378.21,1388.75 377.79,1386.67 376.75,1382.5C375.71,1378.33 374.46,1374.17 373,1370C371.54,1365.83 369.88,1361.67 368,1357.5C366.12,1353.33 364.04,1349.17 361.75,1345C359.46,1340.83 356.75,1336.67 354.25,1332.5C351.75,1328.33 349.04,1324.17 346.75,1320C344.46,1315.83 341.83,1311.67 340.5,1307.5C339.17,1303.33 338.75,1298.75 338.75,1295C338.75,1291.25 339.58,1289.17 340.5,1285C341.42,1280.83 342.79,1276.67 344.25,1270C345.71,1263.33 347.92,1253.33 349.25,1245C350.58,1236.67 351.42,1228.33 352.25,1220C353.08,1211.67 353.29,1203.33 354.25,1195C355.21,1186.67 356.42,1178.33 358,1170C359.58,1161.67 361.88,1153.33 363.75,1145C365.62,1136.67 367.83,1126.25 369.25,1120C370.67,1113.75 371.33,1111.38 372.25,1107.5C373.17,1103.62 374.33,1098.54 374.75,1096.75Z" fill="#f4ae63" stroke="#5a5a5a" stroke-width="1.9" stroke-linejoin="round"/>
<line x1="142.5" y1="1142.5" x2="142.5" y2="1463.75" stroke="#4a4a4a" stroke-width="1.2"/>
<rect x="126.5" y="1266.75" width="32" height="113.5" fill="#fff" stroke="#4a4a4a" stroke-width="1.2"/>
<line x1="126.5" y1="1314" x2="158.5" y2="1314" stroke="#4a4a4a" stroke-width="1.5"/>
<line x1="269.25" y1="1173.75" x2="269.25" y2="1457" stroke="#4a4a4a" stroke-width="1.2"/>
<rect x="253.25" y="1280.5" width="32" height="85.75" fill="#fff" stroke="#4a4a4a" stroke-width="1.2"/>
<line x1="253.25" y1="1328.75" x2="285.25" y2="1328.75" stroke="#4a4a4a" stroke-width="1.5"/>
<line x1="396.5" y1="1096.75" x2="396.5" y2="1463" stroke="#4a4a4a" stroke-width="1.2"/>
<rect x="380.5" y="1185.5" width="32" height="123.5" fill="#fff" stroke="#4a4a4a" stroke-width="1.2"/>
<line x1="380.5" y1="1256.5" x2="412.5" y2="1256.5" stroke="#4a4a4a" stroke-width="1.5"/>
<line x1="65.5" y1="1285" x2="473.25" y2="1285" stroke="#2e2e2e" stroke-width="2.4" stroke-opacity="0.62"/>
<rect x="65.5" y="1078.25" width="407.75" height="406.5" fill="none" stroke="#7c7c7c" stroke-width="1.5"/>
<line x1="142.5" y1="1484.75" x2="142.5" y2="1488.65" stroke="#3c3c3c" stroke-width="1.4"/>
<text x="141.7" y="1510.05" font-size="23.5" text-anchor="middle" fill="#4d4d4d" stroke="#4d4d4d" stroke-width="0.3">substitution</text>
<line x1="269.25" y1="1484.75" x2="269.25" y2="1488.65" stroke="#3c3c3c" stroke-width="1.4"/>
<text x="268.45" y="1510.05" font-size="23.5" text-anchor="middle" fill="#4d4d4d" stroke="#4d4d4d" stroke-width="0.3">deletion</text>
<line x1="396.5" y1="1484.75" x2="396.5" y2="1488.65" stroke="#3c3c3c" stroke-width="1.4"/>
<text x="395.7" y="1510.05" font-size="23.5" text-anchor="middle" fill="#4d4d4d" stroke="#4d4d4d" stroke-width="0.3">insertion</text>
<line x1="61.6" y1="1466.5" x2="65.5" y2="1466.5" stroke="#3c3c3c" stroke-width="1.4"/>
<text x="55.3" y="1472.2" font-size="23.5" text-anchor="end" fill="#4d4d4d" stroke="#4d4d4d" stroke-width="0.3">0</text>
<line x1="61.6" y1="1374.05" x2="65.5" y2="1374.05" stroke="#3c3c3c" stroke-width="1.4"/>
<text x="55.3" y="1379.75" font-size="23.5" text-anchor="end" fill="#4d4d4d" stroke="#4d4d4d" stroke-width="0.3">25</text>
<line x1="61.6" y1="1281.6" x2="65.5" y2="1281.6" stroke="#3c3c3c" stroke-width="1.4"/>
<text x="55.3" y="1287.3" font-size="23.5" text-anchor="end" fill="#4d4d4d" stroke="#4d4d4d" stroke-width="0.3">50</text>
<line x1="61.6" y1="1189.15" x2="65.5" y2="1189.15" stroke="#3c3c3c" stroke-width="1.4"/>
<text x="55.3" y="1194.85" font-size="23.5" text-anchor="end" fill="#4d4d4d" stroke="#4d4d4d" stroke-width="0.3">75</text>
<line x1="61.6" y1="1096.7" x2="65.5" y2="1096.7" stroke="#3c3c3c" stroke-width="1.4"/>
<text x="55.3" y="1102.4" font-size="23.5" text-anchor="end" fill="#4d4d4d" stroke="#4d4d4d" stroke-width="0.3">100</text>
<text x="66.4" y="1064.8" font-size="28.4" stroke="#000" stroke-width="0.3">1-nucleotide mutation effects</text>
<text x="269.5" y="1543" font-size="27" text-anchor="middle" stroke="#000" stroke-width="0.3">mutation type</text>
<text x="19.5" y="1281.5" font-size="27" text-anchor="middle" transform="rotate(-90 19.5 1281.5)" stroke="#000" stroke-width="0.3">PSI</text>
</g>
<g id="panelE">
<text transform="translate(508.9 465.9) scale(0.92 1)" x="0" y="0" font-size="48.8" font-weight="bold" fill="#1a1a1a">E</text>
<text transform="scale(1 1)" x="561.57 583.11 604.65 626.19 647.73 669.27 690.81 712.35 733.89 755.43 776.97 798.51 820.05 841.59 863.13 884.67 906.21 927.75 949.29 970.83 992.37 1013.91 1035.45 1056.99 1078.53 1100.07 1121.61 1143.15 1164.69 1186.23 1207.77 1229.31 1250.85 1272.39 1293.93 1315.47 1337.01 1358.55 1380.09 1401.63 1423.17 1444.71 1466.25 1487.79 1509.33 1530.87 1552.41 1573.95 1595.49 1617.03 1638.57 1660.11 1681.65 1703.19 1724.73 1746.27 1767.81 1789.35 1810.89 1832.43 1853.97 1875.51 1897.05" y="486.6" font-size="33.8" text-anchor="middle" style='font-family:"DejaVu Sans Mono","Liberation Mono",monospace'>GATCCAGATCTAACTTGGGGTGGCTTTGTCTTCTTCTTTTGCCAATTCCACTAATTGTTTGGG</text>
<path d="M561.57,498V833M647.73,498V833M755.43,498V833M863.13,498V833M970.83,498V833M1078.53,498V833M1186.23,498V833M1293.93,498V833M1401.63,498V833M1509.33,498V833M1617.03,498V833M1724.73,498V833M1832.43,498V833M1897.05,498V833" fill="none" stroke="#2b2b2b" stroke-width="2.2" stroke-dasharray="5.4 5.0"/>
<g shape-rendering="crispEdges">
<rect x="550.8" y="519.3" width="21.84" height="21" fill="#2db2b3"/>
<rect x="572.34" y="519.3" width="21.84" height="21" fill="#fafabc"/>
<rect x="593.88" y="519.3" width="21.84" height="21" fill="#8bdcb4"/>
<rect x="615.42" y="519.3" width="21.84" height="21" fill="#2ab1b3"/>
<rect x="636.96" y="519.3" width="21.84" height="21" fill="#cff1b9"/>
<rect x="658.5" y="519.3" width="21.84" height="21" fill="#fafabc"/>
<rect x="680.04" y="519.3" width="21.84" height="21" fill="#57c6b3"/>
<rect x="701.58" y="519.3" width="21.84" height="21" fill="#fafabc"/>
<rect x="723.12" y="519.3" width="21.84" height="21" fill="#fafbbf"/>
<rect x="744.66" y="519.3" width="21.84" height="21" fill="#80d8b3"/>
<rect x="766.2" y="519.3" width="21.84" height="21" fill="#fcf3b1"/>
<rect x="787.74" y="519.3" width="21.84" height="21" fill="#fafabc"/>
<rect x="809.28" y="519.3" width="21.84" height="21" fill="#fafabc"/>
<rect x="830.82" y="519.3" width="21.84" height="21" fill="#82d9b3"/>
<rect x="852.36" y="519.3" width="21.84" height="21" fill="#d4f2ba"/>
<rect x="873.9" y="519.3" width="21.84" height="21" fill="#74d3b3"/>
<rect x="895.44" y="519.3" width="21.84" height="21" fill="#42bcb3"/>
<rect x="916.98" y="519.3" width="21.84" height="21" fill="#b9ebb6"/>
<rect x="938.52" y="519.3" width="21.84" height="21" fill="#fbe496"/>
<rect x="960.06" y="519.3" width="21.84" height="21" fill="#fbeca4"/>
<rect x="981.6" y="519.3" width="21.84" height="21" fill="#fcf7b7"/>
<rect x="1003.14" y="519.3" width="21.84" height="21" fill="#65ccb3"/>
<rect x="1024.68" y="519.3" width="21.84" height="21" fill="#f7fabe"/>
<rect x="1046.22" y="519.3" width="21.84" height="21" fill="#f9d47e"/>
<rect x="1067.76" y="519.3" width="21.84" height="21" fill="#cff1b9"/>
<rect x="1089.3" y="519.3" width="21.84" height="21" fill="#e0f4bb"/>
<rect x="1110.84" y="519.3" width="21.84" height="21" fill="#9fe3b5"/>
<rect x="1132.38" y="519.3" width="21.84" height="21" fill="#8eddb4"/>
<rect x="1153.92" y="519.3" width="21.84" height="21" fill="#f9ce75"/>
<rect x="1175.46" y="519.3" width="21.84" height="21" fill="#5ec9b3"/>
<rect x="1197" y="519.3" width="21.84" height="21" fill="#fbe89c"/>
<rect x="1218.54" y="519.3" width="21.84" height="21" fill="#c1edb7"/>
<rect x="1240.08" y="519.3" width="21.84" height="21" fill="#1daab4"/>
<rect x="1261.62" y="519.3" width="21.84" height="21" fill="#fcf2b0"/>
<rect x="1283.16" y="519.3" width="21.84" height="21" fill="#8bdcb4"/>
<rect x="1304.7" y="519.3" width="21.84" height="21" fill="#7ad6b3"/>
<rect x="1326.24" y="519.3" width="21.84" height="21" fill="#fbeca4"/>
<rect x="1347.78" y="519.3" width="21.84" height="21" fill="#dbf3bb"/>
<rect x="1369.32" y="519.3" width="21.84" height="21" fill="#dbf3bb"/>
<rect x="1390.86" y="519.3" width="21.84" height="21" fill="#3ebab3"/>
<rect x="1412.4" y="519.3" width="21.84" height="21" fill="#78d5b3"/>
<rect x="1433.94" y="519.3" width="21.84" height="21" fill="#69ceb3"/>
<rect x="1455.48" y="519.3" width="21.84" height="21" fill="#8eddb4"/>
<rect x="1477.02" y="519.3" width="21.84" height="21" fill="#fafabc"/>
<rect x="1498.56" y="519.3" width="21.84" height="21" fill="#fafabc"/>
<rect x="1520.1" y="519.3" width="21.84" height="21" fill="#d9f3ba"/>
<rect x="1541.64" y="519.3" width="21.84" height="21" fill="#b9ebb6"/>
<rect x="1563.18" y="519.3" width="21.84" height="21" fill="#34b5b3"/>
<rect x="1584.72" y="519.3" width="21.84" height="21" fill="#eef8bd"/>
<rect x="1606.26" y="519.3" width="21.84" height="21" fill="#fafabc"/>
<rect x="1627.8" y="519.3" width="21.84" height="21" fill="#49c0b3"/>
<rect x="1649.34" y="519.3" width="21.84" height="21" fill="#fceea8"/>
<rect x="1670.88" y="519.3" width="21.84" height="21" fill="#fafabc"/>
<rect x="1692.42" y="519.3" width="21.84" height="21" fill="#fafabc"/>
<rect x="1713.96" y="519.3" width="21.84" height="21" fill="#fceea8"/>
<rect x="1735.5" y="519.3" width="21.84" height="21" fill="#a0e3b5"/>
<rect x="1757.04" y="519.3" width="21.84" height="21" fill="#f1f8be"/>
<rect x="1778.58" y="519.3" width="21.84" height="21" fill="#fcf7b8"/>
<rect x="1800.12" y="519.3" width="21.84" height="21" fill="#ecf7bd"/>
<rect x="1821.66" y="519.3" width="21.84" height="21" fill="#4ec2b3"/>
<rect x="1843.2" y="519.3" width="21.84" height="21" fill="#6fd1b3"/>
<rect x="1864.74" y="519.3" width="21.84" height="21" fill="#f9ce76"/>
<rect x="1886.28" y="519.3" width="21.84" height="21" fill="#30b4b3"/>
<rect x="550.8" y="540" width="21.84" height="21" fill="#1aa9b4"/>
<rect x="572.34" y="540" width="21.84" height="21" fill="#f9fabf"/>
<rect x="593.88" y="540" width="21.84" height="21" fill="#a7e5b5"/>
<rect x="615.42" y="540" width="21.84" height="21" fill="#fafabc"/>
<rect x="636.96" y="540" width="21.84" height="21" fill="#fafabc"/>
<rect x="658.5" y="540" width="21.84" height="21" fill="#d6f2ba"/>
<rect x="680.04" y="540" width="21.84" height="21" fill="#8bdcb4"/>
<rect x="701.58" y="540" width="21.84" height="21" fill="#eaf7bd"/>
<rect x="723.12" y="540" width="21.84" height="21" fill="#e5f5bc"/>
<rect x="744.66" y="540" width="21.84" height="21" fill="#fafabc"/>
<rect x="766.2" y="540" width="21.84" height="21" fill="#fcf1ad"/>
<rect x="787.74" y="540" width="21.84" height="21" fill="#fbe496"/>
<rect x="809.28" y="540" width="21.84" height="21" fill="#fad47e"/>
<rect x="830.82" y="540" width="21.84" height="21" fill="#fafabc"/>
<rect x="852.36" y="540" width="21.84" height="21" fill="#fcf5b4"/>
<rect x="873.9" y="540" width="21.84" height="21" fill="#f5f9be"/>
<rect x="895.44" y="540" width="21.84" height="21" fill="#f8c96e"/>
<rect x="916.98" y="540" width="21.84" height="21" fill="#fad680"/>
<rect x="938.52" y="540" width="21.84" height="21" fill="#f8c569"/>
<rect x="960.06" y="540" width="21.84" height="21" fill="#f5f9be"/>
<rect x="981.6" y="540" width="21.84" height="21" fill="#fbe89d"/>
<rect x="1003.14" y="540" width="21.84" height="21" fill="#fcefa9"/>
<rect x="1024.68" y="540" width="21.84" height="21" fill="#dbf3bb"/>
<rect x="1046.22" y="540" width="21.84" height="21" fill="#fafabc"/>
<rect x="1067.76" y="540" width="21.84" height="21" fill="#d4f2ba"/>
<rect x="1089.3" y="540" width="21.84" height="21" fill="#d8f3ba"/>
<rect x="1110.84" y="540" width="21.84" height="21" fill="#fbeda6"/>
<rect x="1132.38" y="540" width="21.84" height="21" fill="#46beb3"/>
<rect x="1153.92" y="540" width="21.84" height="21" fill="#a9e6b5"/>
<rect x="1175.46" y="540" width="21.84" height="21" fill="#fafabc"/>
<rect x="1197" y="540" width="21.84" height="21" fill="#9be1b5"/>
<rect x="1218.54" y="540" width="21.84" height="21" fill="#9fe2b5"/>
<rect x="1240.08" y="540" width="21.84" height="21" fill="#fafabc"/>
<rect x="1261.62" y="540" width="21.84" height="21" fill="#97e0b4"/>
<rect x="1283.16" y="540" width="21.84" height="21" fill="#b6eab6"/>
<rect x="1304.7" y="540" width="21.84" height="21" fill="#fafabc"/>
<rect x="1326.24" y="540" width="21.84" height="21" fill="#b9ebb6"/>
<rect x="1347.78" y="540" width="21.84" height="21" fill="#dbf3bb"/>
<rect x="1369.32" y="540" width="21.84" height="21" fill="#fcf0ac"/>
<rect x="1390.86" y="540" width="21.84" height="21" fill="#fbeca4"/>
<rect x="1412.4" y="540" width="21.84" height="21" fill="#42bcb3"/>
<rect x="1433.94" y="540" width="21.84" height="21" fill="#fafabc"/>
<rect x="1455.48" y="540" width="21.84" height="21" fill="#fafabc"/>
<rect x="1477.02" y="540" width="21.84" height="21" fill="#99e0b4"/>
<rect x="1498.56" y="540" width="21.84" height="21" fill="#27afb3"/>
<rect x="1520.1" y="540" width="21.84" height="21" fill="#bdecb7"/>
<rect x="1541.64" y="540" width="21.84" height="21" fill="#5bc7b3"/>
<rect x="1563.18" y="540" width="21.84" height="21" fill="#fafabc"/>
<rect x="1584.72" y="540" width="21.84" height="21" fill="#fafabc"/>
<rect x="1606.26" y="540" width="21.84" height="21" fill="#1fabb4"/>
<rect x="1627.8" y="540" width="21.84" height="21" fill="#fafabc"/>
<rect x="1649.34" y="540" width="21.84" height="21" fill="#fcf4b3"/>
<rect x="1670.88" y="540" width="21.84" height="21" fill="#fcf8b9"/>
<rect x="1692.42" y="540" width="21.84" height="21" fill="#fada87"/>
<rect x="1713.96" y="540" width="21.84" height="21" fill="#fcfbbf"/>
<rect x="1735.5" y="540" width="21.84" height="21" fill="#fcf1ad"/>
<rect x="1757.04" y="540" width="21.84" height="21" fill="#a7e5b5"/>
<rect x="1778.58" y="540" width="21.84" height="21" fill="#d0f1b9"/>
<rect x="1800.12" y="540" width="21.84" height="21" fill="#fbeda7"/>
<rect x="1821.66" y="540" width="21.84" height="21" fill="#c3eeb7"/>
<rect x="1843.2" y="540" width="21.84" height="21" fill="#fcf2ae"/>
<rect x="1864.74" y="540" width="21.84" height="21" fill="#f2f9be"/>
<rect x="1886.28" y="540" width="21.84" height="21" fill="#13a5b4"/>
<rect x="550.8" y="560.7" width="21.84" height="21" fill="#fafabc"/>
<rect x="572.34" y="560.7" width="21.84" height="21" fill="#e8f6bc"/>
<rect x="593.88" y="560.7" width="21.84" height="21" fill="#aae6b5"/>
<rect x="615.42" y="560.7" width="21.84" height="21" fill="#75d4b3"/>
<rect x="636.96" y="560.7" width="21.84" height="21" fill="#ddf4bb"/>
<rect x="658.5" y="560.7" width="21.84" height="21" fill="#fceea8"/>
<rect x="680.04" y="560.7" width="21.84" height="21" fill="#fafabc"/>
<rect x="701.58" y="560.7" width="21.84" height="21" fill="#fcf1ae"/>
<rect x="723.12" y="560.7" width="21.84" height="21" fill="#fcf6b5"/>
<rect x="744.66" y="560.7" width="21.84" height="21" fill="#fcf2b0"/>
<rect x="766.2" y="560.7" width="21.84" height="21" fill="#f3a746"/>
<rect x="787.74" y="560.7" width="21.84" height="21" fill="#f7c467"/>
<rect x="809.28" y="560.7" width="21.84" height="21" fill="#ccf0b9"/>
<rect x="830.82" y="560.7" width="21.84" height="21" fill="#cdf0b9"/>
<rect x="852.36" y="560.7" width="21.84" height="21" fill="#f9fabf"/>
<rect x="873.9" y="560.7" width="21.84" height="21" fill="#8eddb4"/>
<rect x="895.44" y="560.7" width="21.84" height="21" fill="#fafabc"/>
<rect x="916.98" y="560.7" width="21.84" height="21" fill="#fafabc"/>
<rect x="938.52" y="560.7" width="21.84" height="21" fill="#fafabc"/>
<rect x="960.06" y="560.7" width="21.84" height="21" fill="#fafabc"/>
<rect x="981.6" y="560.7" width="21.84" height="21" fill="#17a7b4"/>
<rect x="1003.14" y="560.7" width="21.84" height="21" fill="#fafabc"/>
<rect x="1024.68" y="560.7" width="21.84" height="21" fill="#fafabc"/>
<rect x="1046.22" y="560.7" width="21.84" height="21" fill="#13a5b4"/>
<rect x="1067.76" y="560.7" width="21.84" height="21" fill="#fad782"/>
<rect x="1089.3" y="560.7" width="21.84" height="21" fill="#f7c366"/>
<rect x="1110.84" y="560.7" width="21.84" height="21" fill="#eef8bd"/>
<rect x="1132.38" y="560.7" width="21.84" height="21" fill="#fafabc"/>
<rect x="1153.92" y="560.7" width="21.84" height="21" fill="#26aeb4"/>
<rect x="1175.46" y="560.7" width="21.84" height="21" fill="#baecb6"/>
<rect x="1197" y="560.7" width="21.84" height="21" fill="#f9d37d"/>
<rect x="1218.54" y="560.7" width="21.84" height="21" fill="#fbeaa0"/>
<rect x="1240.08" y="560.7" width="21.84" height="21" fill="#2bb1b3"/>
<rect x="1261.62" y="560.7" width="21.84" height="21" fill="#f6bb5c"/>
<rect x="1283.16" y="560.7" width="21.84" height="21" fill="#fbe599"/>
<rect x="1304.7" y="560.7" width="21.84" height="21" fill="#ace7b5"/>
<rect x="1326.24" y="560.7" width="21.84" height="21" fill="#f8c96f"/>
<rect x="1347.78" y="560.7" width="21.84" height="21" fill="#fcf2b0"/>
<rect x="1369.32" y="560.7" width="21.84" height="21" fill="#fbe597"/>
<rect x="1390.86" y="560.7" width="21.84" height="21" fill="#fbeaa0"/>
<rect x="1412.4" y="560.7" width="21.84" height="21" fill="#fafabc"/>
<rect x="1433.94" y="560.7" width="21.84" height="21" fill="#a5e4b5"/>
<rect x="1455.48" y="560.7" width="21.84" height="21" fill="#fbe699"/>
<rect x="1477.02" y="560.7" width="21.84" height="21" fill="#fbe699"/>
<rect x="1498.56" y="560.7" width="21.84" height="21" fill="#fada87"/>
<rect x="1520.1" y="560.7" width="21.84" height="21" fill="#fad985"/>
<rect x="1541.64" y="560.7" width="21.84" height="21" fill="#5fc9b3"/>
<rect x="1563.18" y="560.7" width="21.84" height="21" fill="#62cbb3"/>
<rect x="1584.72" y="560.7" width="21.84" height="21" fill="#fad883"/>
<rect x="1606.26" y="560.7" width="21.84" height="21" fill="#c0edb7"/>
<rect x="1627.8" y="560.7" width="21.84" height="21" fill="#fcf9bb"/>
<rect x="1649.34" y="560.7" width="21.84" height="21" fill="#f09835"/>
<rect x="1670.88" y="560.7" width="21.84" height="21" fill="#f9d27c"/>
<rect x="1692.42" y="560.7" width="21.84" height="21" fill="#e0f4bb"/>
<rect x="1713.96" y="560.7" width="21.84" height="21" fill="#fbe394"/>
<rect x="1735.5" y="560.7" width="21.84" height="21" fill="#fcf3b0"/>
<rect x="1757.04" y="560.7" width="21.84" height="21" fill="#fafabc"/>
<rect x="1778.58" y="560.7" width="21.84" height="21" fill="#d6f2ba"/>
<rect x="1800.12" y="560.7" width="21.84" height="21" fill="#e6f6bc"/>
<rect x="1821.66" y="560.7" width="21.84" height="21" fill="#82d9b3"/>
<rect x="1843.2" y="560.7" width="21.84" height="21" fill="#fafabc"/>
<rect x="1864.74" y="560.7" width="21.84" height="21" fill="#fafabc"/>
<rect x="1886.28" y="560.7" width="21.84" height="21" fill="#fafabc"/>
<rect x="550.8" y="581.4" width="21.84" height="21" fill="#13a5b4"/>
<rect x="572.34" y="581.4" width="21.84" height="21" fill="#f7c366"/>
<rect x="593.88" y="581.4" width="21.84" height="21" fill="#fafabc"/>
<rect x="615.42" y="581.4" width="21.84" height="21" fill="#3ab9b3"/>
<rect x="636.96" y="581.4" width="21.84" height="21" fill="#2fb3b3"/>
<rect x="658.5" y="581.4" width="21.84" height="21" fill="#d8f2ba"/>
<rect x="680.04" y="581.4" width="21.84" height="21" fill="#2fb3b3"/>
<rect x="701.58" y="581.4" width="21.84" height="21" fill="#b6eab6"/>
<rect x="723.12" y="581.4" width="21.84" height="21" fill="#fafabc"/>
<rect x="744.66" y="581.4" width="21.84" height="21" fill="#9de2b5"/>
<rect x="766.2" y="581.4" width="21.84" height="21" fill="#fafabc"/>
<rect x="787.74" y="581.4" width="21.84" height="21" fill="#fcf8ba"/>
<rect x="809.28" y="581.4" width="21.84" height="21" fill="#c5eeb8"/>
<rect x="830.82" y="581.4" width="21.84" height="21" fill="#9ee2b5"/>
<rect x="852.36" y="581.4" width="21.84" height="21" fill="#fafabc"/>
<rect x="873.9" y="581.4" width="21.84" height="21" fill="#fafabc"/>
<rect x="895.44" y="581.4" width="21.84" height="21" fill="#bdecb7"/>
<rect x="916.98" y="581.4" width="21.84" height="21" fill="#a0e3b5"/>
<rect x="938.52" y="581.4" width="21.84" height="21" fill="#abe7b5"/>
<rect x="960.06" y="581.4" width="21.84" height="21" fill="#26aeb4"/>
<rect x="981.6" y="581.4" width="21.84" height="21" fill="#fafabc"/>
<rect x="1003.14" y="581.4" width="21.84" height="21" fill="#73d2b3"/>
<rect x="1024.68" y="581.4" width="21.84" height="21" fill="#5cc8b3"/>
<rect x="1046.22" y="581.4" width="21.84" height="21" fill="#5dc9b3"/>
<rect x="1067.76" y="581.4" width="21.84" height="21" fill="#fafabc"/>
<rect x="1089.3" y="581.4" width="21.84" height="21" fill="#fafabc"/>
<rect x="1110.84" y="581.4" width="21.84" height="21" fill="#fafabc"/>
<rect x="1132.38" y="581.4" width="21.84" height="21" fill="#35b6b3"/>
<rect x="1153.92" y="581.4" width="21.84" height="21" fill="#fafabc"/>
<rect x="1175.46" y="581.4" width="21.84" height="21" fill="#51c3b3"/>
<rect x="1197" y="581.4" width="21.84" height="21" fill="#fafabc"/>
<rect x="1218.54" y="581.4" width="21.84" height="21" fill="#fafabc"/>
<rect x="1240.08" y="581.4" width="21.84" height="21" fill="#27afb3"/>
<rect x="1261.62" y="581.4" width="21.84" height="21" fill="#fafabc"/>
<rect x="1283.16" y="581.4" width="21.84" height="21" fill="#fafabc"/>
<rect x="1304.7" y="581.4" width="21.84" height="21" fill="#65ccb3"/>
<rect x="1326.24" y="581.4" width="21.84" height="21" fill="#fafabc"/>
<rect x="1347.78" y="581.4" width="21.84" height="21" fill="#fafabc"/>
<rect x="1369.32" y="581.4" width="21.84" height="21" fill="#fafabc"/>
<rect x="1390.86" y="581.4" width="21.84" height="21" fill="#fafabc"/>
<rect x="1412.4" y="581.4" width="21.84" height="21" fill="#32b4b3"/>
<rect x="1433.94" y="581.4" width="21.84" height="21" fill="#60cab3"/>
<rect x="1455.48" y="581.4" width="21.84" height="21" fill="#50c3b3"/>
<rect x="1477.02" y="581.4" width="21.84" height="21" fill="#8eddb4"/>
<rect x="1498.56" y="581.4" width="21.84" height="21" fill="#8bdcb4"/>
<rect x="1520.1" y="581.4" width="21.84" height="21" fill="#fafabc"/>
<rect x="1541.64" y="581.4" width="21.84" height="21" fill="#fafabc"/>
<rect x="1563.18" y="581.4" width="21.84" height="21" fill="#4ec2b3"/>
<rect x="1584.72" y="581.4" width="21.84" height="21" fill="#e8f6bc"/>
<rect x="1606.26" y="581.4" width="21.84" height="21" fill="#9fe3b5"/>
<rect x="1627.8" y="581.4" width="21.84" height="21" fill="#73d3b3"/>
<rect x="1649.34" y="581.4" width="21.84" height="21" fill="#fafabc"/>
<rect x="1670.88" y="581.4" width="21.84" height="21" fill="#c0edb7"/>
<rect x="1692.42" y="581.4" width="21.84" height="21" fill="#fbe496"/>
<rect x="1713.96" y="581.4" width="21.84" height="21" fill="#fafabc"/>
<rect x="1735.5" y="581.4" width="21.84" height="21" fill="#fafabc"/>
<rect x="1757.04" y="581.4" width="21.84" height="21" fill="#bcecb7"/>
<rect x="1778.58" y="581.4" width="21.84" height="21" fill="#fafabc"/>
<rect x="1800.12" y="581.4" width="21.84" height="21" fill="#fafabc"/>
<rect x="1821.66" y="581.4" width="21.84" height="21" fill="#fafabc"/>
<rect x="1843.2" y="581.4" width="21.84" height="21" fill="#95dfb4"/>
<rect x="1864.74" y="581.4" width="21.84" height="21" fill="#71d2b3"/>
<rect x="1886.28" y="581.4" width="21.84" height="21" fill="#0fa3b4"/>
<rect x="550.8" y="651.6" width="21.84" height="19.4" fill="#59c7b3"/>
<rect x="572.34" y="651.6" width="21.84" height="19.4" fill="#fad985"/>
<rect x="593.88" y="651.6" width="21.84" height="19.4" fill="#80d8b3"/>
<rect x="615.42" y="651.6" width="21.84" height="19.4" fill="#23adb4"/>
<rect x="636.96" y="651.6" width="21.84" height="19.4" fill="#23adb4"/>
<rect x="658.5" y="651.6" width="21.84" height="19.4" fill="#a0e3b5"/>
<rect x="680.04" y="651.6" width="21.84" height="19.4" fill="#3ebab3"/>
<rect x="701.58" y="651.6" width="21.84" height="19.4" fill="#b1e9b6"/>
<rect x="723.12" y="651.6" width="21.84" height="19.4" fill="#b6eab6"/>
<rect x="744.66" y="651.6" width="21.84" height="19.4" fill="#8ddcb4"/>
<rect x="766.2" y="651.6" width="21.84" height="19.4" fill="#f5b455"/>
<rect x="787.74" y="651.6" width="21.84" height="19.4" fill="#f5b758"/>
<rect x="809.28" y="651.6" width="21.84" height="19.4" fill="#f5b758"/>
<rect x="830.82" y="651.6" width="21.84" height="19.4" fill="#cff1b9"/>
<rect x="852.36" y="651.6" width="21.84" height="19.4" fill="#fbe69b"/>
<rect x="873.9" y="651.6" width="21.84" height="19.4" fill="#fbe69b"/>
<rect x="895.44" y="651.6" width="21.84" height="19.4" fill="#e2f5bc"/>
<rect x="916.98" y="651.6" width="21.84" height="19.4" fill="#e2f5bc"/>
<rect x="938.52" y="651.6" width="21.84" height="19.4" fill="#e2f5bc"/>
<rect x="960.06" y="651.6" width="21.84" height="19.4" fill="#e2f5bc"/>
<rect x="981.6" y="651.6" width="21.84" height="19.4" fill="#1eabb4"/>
<rect x="1003.14" y="651.6" width="21.84" height="19.4" fill="#fcf5b4"/>
<rect x="1024.68" y="651.6" width="21.84" height="19.4" fill="#fcf5b4"/>
<rect x="1046.22" y="651.6" width="21.84" height="19.4" fill="#9be1b5"/>
<rect x="1067.76" y="651.6" width="21.84" height="19.4" fill="#fbdf8e"/>
<rect x="1089.3" y="651.6" width="21.84" height="19.4" fill="#fbdf8e"/>
<rect x="1110.84" y="651.6" width="21.84" height="19.4" fill="#fbdf8e"/>
<rect x="1132.38" y="651.6" width="21.84" height="19.4" fill="#9be1b5"/>
<rect x="1153.92" y="651.6" width="21.84" height="19.4" fill="#ddf4bb"/>
<rect x="1175.46" y="651.6" width="21.84" height="19.4" fill="#92deb4"/>
<rect x="1197" y="651.6" width="21.84" height="19.4" fill="#cff1b9"/>
<rect x="1218.54" y="651.6" width="21.84" height="19.4" fill="#cff1b9"/>
<rect x="1240.08" y="651.6" width="21.84" height="19.4" fill="#18a7b4"/>
<rect x="1261.62" y="651.6" width="21.84" height="19.4" fill="#cff1b9"/>
<rect x="1283.16" y="651.6" width="21.84" height="19.4" fill="#cff1b9"/>
<rect x="1304.7" y="651.6" width="21.84" height="19.4" fill="#b1e9b6"/>
<rect x="1326.24" y="651.6" width="21.84" height="19.4" fill="#fcf8ba"/>
<rect x="1347.78" y="651.6" width="21.84" height="19.4" fill="#fcf8ba"/>
<rect x="1369.32" y="651.6" width="21.84" height="19.4" fill="#fcf8ba"/>
<rect x="1390.86" y="651.6" width="21.84" height="19.4" fill="#fcf8ba"/>
<rect x="1412.4" y="651.6" width="21.84" height="19.4" fill="#59c7b3"/>
<rect x="1433.94" y="651.6" width="21.84" height="19.4" fill="#a2e4b5"/>
<rect x="1455.48" y="651.6" width="21.84" height="19.4" fill="#a2e4b5"/>
<rect x="1477.02" y="651.6" width="21.84" height="19.4" fill="#2bb1b3"/>
<rect x="1498.56" y="651.6" width="21.84" height="19.4" fill="#2bb1b3"/>
<rect x="1520.1" y="651.6" width="21.84" height="19.4" fill="#fceea8"/>
<rect x="1541.64" y="651.6" width="21.84" height="19.4" fill="#fceea8"/>
<rect x="1563.18" y="651.6" width="21.84" height="19.4" fill="#75d3b3"/>
<rect x="1584.72" y="651.6" width="21.84" height="19.4" fill="#75d3b3"/>
<rect x="1606.26" y="651.6" width="21.84" height="19.4" fill="#35b6b3"/>
<rect x="1627.8" y="651.6" width="21.84" height="19.4" fill="#8fddb4"/>
<rect x="1649.34" y="651.6" width="21.84" height="19.4" fill="#fad985"/>
<rect x="1670.88" y="651.6" width="21.84" height="19.4" fill="#eff8bd"/>
<rect x="1692.42" y="651.6" width="21.84" height="19.4" fill="#eff8bd"/>
<rect x="1713.96" y="651.6" width="21.84" height="19.4" fill="#fcf0ab"/>
<rect x="1735.5" y="651.6" width="21.84" height="19.4" fill="#fcf0ab"/>
<rect x="1757.04" y="651.6" width="21.84" height="19.4" fill="#f6fabe"/>
<rect x="1778.58" y="651.6" width="21.84" height="19.4" fill="#f6fabe"/>
<rect x="1800.12" y="651.6" width="21.84" height="19.4" fill="#f6fabe"/>
<rect x="1821.66" y="651.6" width="21.84" height="19.4" fill="#f6fabe"/>
<rect x="1843.2" y="651.6" width="21.84" height="19.4" fill="#baecb6"/>
<rect x="1864.74" y="651.6" width="21.84" height="19.4" fill="#baecb6"/>
<rect x="1886.28" y="651.6" width="21.84" height="19.4" fill="#bbecb6"/>
<rect x="562" y="730.8" width="21.84" height="20.85" fill="#f8c86e"/>
<rect x="583.54" y="730.8" width="21.84" height="20.85" fill="#f8c86e"/>
<rect x="605.08" y="730.8" width="21.84" height="20.85" fill="#e7f6bc"/>
<rect x="626.62" y="730.8" width="21.84" height="20.85" fill="#a9e6b5"/>
<rect x="648.16" y="730.8" width="21.84" height="20.85" fill="#f8c76c"/>
<rect x="669.7" y="730.8" width="21.84" height="20.85" fill="#f8c76c"/>
<rect x="691.24" y="730.8" width="21.84" height="20.85" fill="#f09b38"/>
<rect x="712.78" y="730.8" width="21.84" height="20.85" fill="#f09b38"/>
<rect x="734.32" y="730.8" width="21.84" height="20.85" fill="#d6f2ba"/>
<rect x="755.86" y="730.8" width="21.84" height="20.85" fill="#fada86"/>
<rect x="777.4" y="730.8" width="21.84" height="20.85" fill="#fada86"/>
<rect x="798.94" y="730.8" width="21.84" height="20.85" fill="#fada86"/>
<rect x="820.48" y="730.8" width="21.84" height="20.85" fill="#fada86"/>
<rect x="842.02" y="730.8" width="21.84" height="20.85" fill="#fcfbbf"/>
<rect x="863.56" y="730.8" width="21.84" height="20.85" fill="#fafbbf"/>
<rect x="885.1" y="730.8" width="21.84" height="20.85" fill="#34b5b3"/>
<rect x="906.64" y="730.8" width="21.84" height="20.85" fill="#fbe99f"/>
<rect x="928.18" y="730.8" width="21.84" height="20.85" fill="#ef9330"/>
<rect x="949.72" y="730.8" width="21.84" height="20.85" fill="#f3a847"/>
<rect x="971.26" y="730.8" width="21.84" height="20.85" fill="#eb7b18"/>
<rect x="992.8" y="730.8" width="21.84" height="20.85" fill="#16a6b4"/>
<rect x="1014.34" y="730.8" width="21.84" height="20.85" fill="#d5f2ba"/>
<rect x="1035.88" y="730.8" width="21.84" height="20.85" fill="#e86a08"/>
<rect x="1057.42" y="730.8" width="21.84" height="20.85" fill="#fbe699"/>
<rect x="1078.96" y="730.8" width="21.84" height="20.85" fill="#fcfabe"/>
<rect x="1100.5" y="730.8" width="21.84" height="20.85" fill="#fbe394"/>
<rect x="1122.04" y="730.8" width="21.84" height="20.85" fill="#78d5b3"/>
<rect x="1143.58" y="730.8" width="21.84" height="20.85" fill="#eb7c1a"/>
<rect x="1165.12" y="730.8" width="21.84" height="20.85" fill="#fcfbbe"/>
<rect x="1186.66" y="730.8" width="21.84" height="20.85" fill="#fcf2b0"/>
<rect x="1208.2" y="730.8" width="21.84" height="20.85" fill="#94dfb4"/>
<rect x="1229.74" y="730.8" width="21.84" height="20.85" fill="#81d8b3"/>
<rect x="1251.28" y="730.8" width="21.84" height="20.85" fill="#fbeba3"/>
<rect x="1272.82" y="730.8" width="21.84" height="20.85" fill="#94dfb4"/>
<rect x="1294.36" y="730.8" width="21.84" height="20.85" fill="#e86a08"/>
<rect x="1315.9" y="730.8" width="21.84" height="20.85" fill="#f5b556"/>
<rect x="1337.44" y="730.8" width="21.84" height="20.85" fill="#fbe292"/>
<rect x="1358.98" y="730.8" width="21.84" height="20.85" fill="#f8c76c"/>
<rect x="1380.52" y="730.8" width="21.84" height="20.85" fill="#e6f6bc"/>
<rect x="1402.06" y="730.8" width="21.84" height="20.85" fill="#17a7b4"/>
<rect x="1423.6" y="730.8" width="21.84" height="20.85" fill="#f7c062"/>
<rect x="1445.14" y="730.8" width="21.84" height="20.85" fill="#c3eeb7"/>
<rect x="1466.68" y="730.8" width="21.84" height="20.85" fill="#fcf3b0"/>
<rect x="1488.22" y="730.8" width="21.84" height="20.85" fill="#fcf3b0"/>
<rect x="1509.76" y="730.8" width="21.84" height="20.85" fill="#fcf3b0"/>
<rect x="1531.3" y="730.8" width="21.84" height="20.85" fill="#fbeca5"/>
<rect x="1552.84" y="730.8" width="21.84" height="20.85" fill="#d2f1b9"/>
<rect x="1574.38" y="730.8" width="21.84" height="20.85" fill="#8bdcb4"/>
<rect x="1595.92" y="730.8" width="21.84" height="20.85" fill="#fad883"/>
<rect x="1617.46" y="730.8" width="21.84" height="20.85" fill="#fad883"/>
<rect x="1639" y="730.8" width="21.84" height="20.85" fill="#f6bc5e"/>
<rect x="1660.54" y="730.8" width="21.84" height="20.85" fill="#fcfabe"/>
<rect x="1682.08" y="730.8" width="21.84" height="20.85" fill="#fcfabe"/>
<rect x="1703.62" y="730.8" width="21.84" height="20.85" fill="#fcfabe"/>
<rect x="1725.16" y="730.8" width="21.84" height="20.85" fill="#fcf7b8"/>
<rect x="1746.7" y="730.8" width="21.84" height="20.85" fill="#71d2b3"/>
<rect x="1768.24" y="730.8" width="21.84" height="20.85" fill="#fbe496"/>
<rect x="1789.78" y="730.8" width="21.84" height="20.85" fill="#d9f3ba"/>
<rect x="1811.32" y="730.8" width="21.84" height="20.85" fill="#beecb7"/>
<rect x="1832.86" y="730.8" width="21.84" height="20.85" fill="#3ab9b3"/>
<rect x="1854.4" y="730.8" width="21.84" height="20.85" fill="#e2f5bc"/>
<rect x="1875.94" y="730.8" width="21.84" height="20.85" fill="#ea7513"/>
<rect x="562" y="751.35" width="21.84" height="20.85" fill="#fada87"/>
<rect x="583.54" y="751.35" width="21.84" height="20.85" fill="#fbde8c"/>
<rect x="605.08" y="751.35" width="21.84" height="20.85" fill="#d5f2ba"/>
<rect x="626.62" y="751.35" width="21.84" height="20.85" fill="#d5f2ba"/>
<rect x="648.16" y="751.35" width="21.84" height="20.85" fill="#d5f2ba"/>
<rect x="669.7" y="751.35" width="21.84" height="20.85" fill="#f3a746"/>
<rect x="691.24" y="751.35" width="21.84" height="20.85" fill="#f9cf77"/>
<rect x="712.78" y="751.35" width="21.84" height="20.85" fill="#f7c366"/>
<rect x="734.32" y="751.35" width="21.84" height="20.85" fill="#f3ab4a"/>
<rect x="755.86" y="751.35" width="21.84" height="20.85" fill="#f3ab4a"/>
<rect x="777.4" y="751.35" width="21.84" height="20.85" fill="#e86a08"/>
<rect x="798.94" y="751.35" width="21.84" height="20.85" fill="#f3aa49"/>
<rect x="820.48" y="751.35" width="21.84" height="20.85" fill="#f9d17a"/>
<rect x="842.02" y="751.35" width="21.84" height="20.85" fill="#f9d17a"/>
<rect x="863.56" y="751.35" width="21.84" height="20.85" fill="#fcf1ae"/>
<rect x="885.1" y="751.35" width="21.84" height="20.85" fill="#e86a08"/>
<rect x="906.64" y="751.35" width="21.84" height="20.85" fill="#e86a08"/>
<rect x="928.18" y="751.35" width="21.84" height="20.85" fill="#e86a08"/>
<rect x="949.72" y="751.35" width="21.84" height="20.85" fill="#e86a08"/>
<rect x="971.26" y="751.35" width="21.84" height="20.85" fill="#ed8926"/>
<rect x="992.8" y="751.35" width="21.84" height="20.85" fill="#e86a08"/>
<rect x="1014.34" y="751.35" width="21.84" height="20.85" fill="#f5b454"/>
<rect x="1035.88" y="751.35" width="21.84" height="20.85" fill="#ec7f1d"/>
<rect x="1057.42" y="751.35" width="21.84" height="20.85" fill="#ec7f1d"/>
<rect x="1078.96" y="751.35" width="21.84" height="20.85" fill="#f7c265"/>
<rect x="1100.5" y="751.35" width="21.84" height="20.85" fill="#f8c76c"/>
<rect x="1122.04" y="751.35" width="21.84" height="20.85" fill="#ea7715"/>
<rect x="1143.58" y="751.35" width="21.84" height="20.85" fill="#fbeca5"/>
<rect x="1165.12" y="751.35" width="21.84" height="20.85" fill="#fada86"/>
<rect x="1186.66" y="751.35" width="21.84" height="20.85" fill="#fada86"/>
<rect x="1208.2" y="751.35" width="21.84" height="20.85" fill="#89dbb4"/>
<rect x="1229.74" y="751.35" width="21.84" height="20.85" fill="#f1f8be"/>
<rect x="1251.28" y="751.35" width="21.84" height="20.85" fill="#f1f8be"/>
<rect x="1272.82" y="751.35" width="21.84" height="20.85" fill="#89dbb4"/>
<rect x="1294.36" y="751.35" width="21.84" height="20.85" fill="#fcefaa"/>
<rect x="1315.9" y="751.35" width="21.84" height="20.85" fill="#fcefaa"/>
<rect x="1337.44" y="751.35" width="21.84" height="20.85" fill="#ecf7bd"/>
<rect x="1358.98" y="751.35" width="21.84" height="20.85" fill="#f5b556"/>
<rect x="1380.52" y="751.35" width="21.84" height="20.85" fill="#f6bd5e"/>
<rect x="1402.06" y="751.35" width="21.84" height="20.85" fill="#ee8a27"/>
<rect x="1423.6" y="751.35" width="21.84" height="20.85" fill="#d5f2ba"/>
<rect x="1445.14" y="751.35" width="21.84" height="20.85" fill="#d5f2ba"/>
<rect x="1466.68" y="751.35" width="21.84" height="20.85" fill="#d5f2ba"/>
<rect x="1488.22" y="751.35" width="21.84" height="20.85" fill="#e0f4bb"/>
<rect x="1509.76" y="751.35" width="21.84" height="20.85" fill="#f7c265"/>
<rect x="1531.3" y="751.35" width="21.84" height="20.85" fill="#f5b556"/>
<rect x="1552.84" y="751.35" width="21.84" height="20.85" fill="#7ad6b3"/>
<rect x="1574.38" y="751.35" width="21.84" height="20.85" fill="#7ad6b3"/>
<rect x="1595.92" y="751.35" width="21.84" height="20.85" fill="#7ad6b3"/>
<rect x="1617.46" y="751.35" width="21.84" height="20.85" fill="#fbe190"/>
<rect x="1639" y="751.35" width="21.84" height="20.85" fill="#fbe190"/>
<rect x="1660.54" y="751.35" width="21.84" height="20.85" fill="#fbde8c"/>
<rect x="1682.08" y="751.35" width="21.84" height="20.85" fill="#f2a240"/>
<rect x="1703.62" y="751.35" width="21.84" height="20.85" fill="#e2f5bc"/>
<rect x="1725.16" y="751.35" width="21.84" height="20.85" fill="#f5f9be"/>
<rect x="1746.7" y="751.35" width="21.84" height="20.85" fill="#fbeda7"/>
<rect x="1768.24" y="751.35" width="21.84" height="20.85" fill="#cef0b9"/>
<rect x="1789.78" y="751.35" width="21.84" height="20.85" fill="#b7ebb6"/>
<rect x="1811.32" y="751.35" width="21.84" height="20.85" fill="#d5f2ba"/>
<rect x="1832.86" y="751.35" width="21.84" height="20.85" fill="#d5f2ba"/>
<rect x="1854.4" y="751.35" width="21.84" height="20.85" fill="#fbeda5"/>
<rect x="1875.94" y="751.35" width="21.84" height="20.85" fill="#cef0b9"/>
<rect x="562" y="771.9" width="21.84" height="20.85" fill="#d6f2ba"/>
<rect x="583.54" y="771.9" width="21.84" height="20.85" fill="#fbe395"/>
<rect x="605.08" y="771.9" width="21.84" height="20.85" fill="#fcf0ac"/>
<rect x="626.62" y="771.9" width="21.84" height="20.85" fill="#fadb89"/>
<rect x="648.16" y="771.9" width="21.84" height="20.85" fill="#f7be60"/>
<rect x="669.7" y="771.9" width="21.84" height="20.85" fill="#ec811e"/>
<rect x="691.24" y="771.9" width="21.84" height="20.85" fill="#ec811e"/>
<rect x="712.78" y="771.9" width="21.84" height="20.85" fill="#f5b556"/>
<rect x="734.32" y="771.9" width="21.84" height="20.85" fill="#ee8f2c"/>
<rect x="755.86" y="771.9" width="21.84" height="20.85" fill="#f19c39"/>
<rect x="777.4" y="771.9" width="21.84" height="20.85" fill="#f09a37"/>
<rect x="798.94" y="771.9" width="21.84" height="20.85" fill="#fbe79c"/>
<rect x="820.48" y="771.9" width="21.84" height="20.85" fill="#fbdd8a"/>
<rect x="842.02" y="771.9" width="21.84" height="20.85" fill="#ed8522"/>
<rect x="863.56" y="771.9" width="21.84" height="20.85" fill="#b9ebb6"/>
<rect x="885.1" y="771.9" width="21.84" height="20.85" fill="#6ed0b3"/>
<rect x="906.64" y="771.9" width="21.84" height="20.85" fill="#6ed0b3"/>
<rect x="928.18" y="771.9" width="21.84" height="20.85" fill="#6ed0b3"/>
<rect x="949.72" y="771.9" width="21.84" height="20.85" fill="#6ed0b3"/>
<rect x="971.26" y="771.9" width="21.84" height="20.85" fill="#6ed0b3"/>
<rect x="992.8" y="771.9" width="21.84" height="20.85" fill="#12a4b4"/>
<rect x="1014.34" y="771.9" width="21.84" height="20.85" fill="#12a4b4"/>
<rect x="1035.88" y="771.9" width="21.84" height="20.85" fill="#12a4b4"/>
<rect x="1057.42" y="771.9" width="21.84" height="20.85" fill="#e86a08"/>
<rect x="1078.96" y="771.9" width="21.84" height="20.85" fill="#e86a08"/>
<rect x="1100.5" y="771.9" width="21.84" height="20.85" fill="#f6bc5d"/>
<rect x="1122.04" y="771.9" width="21.84" height="20.85" fill="#e4f5bc"/>
<rect x="1143.58" y="771.9" width="21.84" height="20.85" fill="#e4f5bc"/>
<rect x="1165.12" y="771.9" width="21.84" height="20.85" fill="#f7c163"/>
<rect x="1186.66" y="771.9" width="21.84" height="20.85" fill="#ed8724"/>
<rect x="1208.2" y="771.9" width="21.84" height="20.85" fill="#c2edb7"/>
<rect x="1229.74" y="771.9" width="21.84" height="20.85" fill="#c2edb7"/>
<rect x="1251.28" y="771.9" width="21.84" height="20.85" fill="#f19c3a"/>
<rect x="1272.82" y="771.9" width="21.84" height="20.85" fill="#fbeca5"/>
<rect x="1294.36" y="771.9" width="21.84" height="20.85" fill="#fcfbbf"/>
<rect x="1315.9" y="771.9" width="21.84" height="20.85" fill="#e86a08"/>
<rect x="1337.44" y="771.9" width="21.84" height="20.85" fill="#fad883"/>
<rect x="1358.98" y="771.9" width="21.84" height="20.85" fill="#f9d37c"/>
<rect x="1380.52" y="771.9" width="21.84" height="20.85" fill="#f8ca70"/>
<rect x="1402.06" y="771.9" width="21.84" height="20.85" fill="#f6bd5e"/>
<rect x="1423.6" y="771.9" width="21.84" height="20.85" fill="#f6bd5e"/>
<rect x="1445.14" y="771.9" width="21.84" height="20.85" fill="#fbe293"/>
<rect x="1466.68" y="771.9" width="21.84" height="20.85" fill="#e86a08"/>
<rect x="1488.22" y="771.9" width="21.84" height="20.85" fill="#f9cc73"/>
<rect x="1509.76" y="771.9" width="21.84" height="20.85" fill="#f4ae4e"/>
<rect x="1531.3" y="771.9" width="21.84" height="20.85" fill="#fcf6b7"/>
<rect x="1552.84" y="771.9" width="21.84" height="20.85" fill="#bfedb7"/>
<rect x="1574.38" y="771.9" width="21.84" height="20.85" fill="#edf7bd"/>
<rect x="1595.92" y="771.9" width="21.84" height="20.85" fill="#f9ce76"/>
<rect x="1617.46" y="771.9" width="21.84" height="20.85" fill="#f3ab4b"/>
<rect x="1639" y="771.9" width="21.84" height="20.85" fill="#f2a13f"/>
<rect x="1660.54" y="771.9" width="21.84" height="20.85" fill="#f5b556"/>
<rect x="1682.08" y="771.9" width="21.84" height="20.85" fill="#fceea7"/>
<rect x="1703.62" y="771.9" width="21.84" height="20.85" fill="#fbeda6"/>
<rect x="1725.16" y="771.9" width="21.84" height="20.85" fill="#fcfbbf"/>
<rect x="1746.7" y="771.9" width="21.84" height="20.85" fill="#d9f3ba"/>
<rect x="1768.24" y="771.9" width="21.84" height="20.85" fill="#d9f3ba"/>
<rect x="1789.78" y="771.9" width="21.84" height="20.85" fill="#d9f3ba"/>
<rect x="1811.32" y="771.9" width="21.84" height="20.85" fill="#b1e9b6"/>
<rect x="1832.86" y="771.9" width="21.84" height="20.85" fill="#5ec9b3"/>
<rect x="1854.4" y="771.9" width="21.84" height="20.85" fill="#5ec9b3"/>
<rect x="1875.94" y="771.9" width="21.84" height="20.85" fill="#5ec9b3"/>
<rect x="562" y="792.45" width="21.84" height="20.85" fill="#f19c39"/>
<rect x="583.54" y="792.45" width="21.84" height="20.85" fill="#f7be60"/>
<rect x="605.08" y="792.45" width="21.84" height="20.85" fill="#f7be60"/>
<rect x="626.62" y="792.45" width="21.84" height="20.85" fill="#45beb3"/>
<rect x="648.16" y="792.45" width="21.84" height="20.85" fill="#25aeb4"/>
<rect x="669.7" y="792.45" width="21.84" height="20.85" fill="#8fddb4"/>
<rect x="691.24" y="792.45" width="21.84" height="20.85" fill="#baebb6"/>
<rect x="712.78" y="792.45" width="21.84" height="20.85" fill="#fbe293"/>
<rect x="734.32" y="792.45" width="21.84" height="20.85" fill="#fbe293"/>
<rect x="755.86" y="792.45" width="21.84" height="20.85" fill="#d4f2ba"/>
<rect x="777.4" y="792.45" width="21.84" height="20.85" fill="#d4f2ba"/>
<rect x="798.94" y="792.45" width="21.84" height="20.85" fill="#e5f6bc"/>
<rect x="820.48" y="792.45" width="21.84" height="20.85" fill="#fbe79b"/>
<rect x="842.02" y="792.45" width="21.84" height="20.85" fill="#daf3ba"/>
<rect x="863.56" y="792.45" width="21.84" height="20.85" fill="#daf3ba"/>
<rect x="885.1" y="792.45" width="21.84" height="20.85" fill="#daf3ba"/>
<rect x="906.64" y="792.45" width="21.84" height="20.85" fill="#caefb8"/>
<rect x="928.18" y="792.45" width="21.84" height="20.85" fill="#f4ad4c"/>
<rect x="949.72" y="792.45" width="21.84" height="20.85" fill="#f7bf61"/>
<rect x="971.26" y="792.45" width="21.84" height="20.85" fill="#19a8b4"/>
<rect x="992.8" y="792.45" width="21.84" height="20.85" fill="#19a8b4"/>
<rect x="1014.34" y="792.45" width="21.84" height="20.85" fill="#f5b454"/>
<rect x="1035.88" y="792.45" width="21.84" height="20.85" fill="#a5e5b5"/>
<rect x="1057.42" y="792.45" width="21.84" height="20.85" fill="#d6f2ba"/>
<rect x="1078.96" y="792.45" width="21.84" height="20.85" fill="#d6f2ba"/>
<rect x="1100.5" y="792.45" width="21.84" height="20.85" fill="#d6f2ba"/>
<rect x="1122.04" y="792.45" width="21.84" height="20.85" fill="#d6f2ba"/>
<rect x="1143.58" y="792.45" width="21.84" height="20.85" fill="#e7f6bc"/>
<rect x="1165.12" y="792.45" width="21.84" height="20.85" fill="#e7f6bc"/>
<rect x="1186.66" y="792.45" width="21.84" height="20.85" fill="#4bc0b3"/>
<rect x="1208.2" y="792.45" width="21.84" height="20.85" fill="#4bc0b3"/>
<rect x="1229.74" y="792.45" width="21.84" height="20.85" fill="#4bc0b3"/>
<rect x="1251.28" y="792.45" width="21.84" height="20.85" fill="#4ec2b3"/>
<rect x="1272.82" y="792.45" width="21.84" height="20.85" fill="#4ec2b3"/>
<rect x="1294.36" y="792.45" width="21.84" height="20.85" fill="#4ec2b3"/>
<rect x="1315.9" y="792.45" width="21.84" height="20.85" fill="#dff4bb"/>
<rect x="1337.44" y="792.45" width="21.84" height="20.85" fill="#dff4bb"/>
<rect x="1358.98" y="792.45" width="21.84" height="20.85" fill="#dff4bb"/>
<rect x="1380.52" y="792.45" width="21.84" height="20.85" fill="#dff4bb"/>
<rect x="1402.06" y="792.45" width="21.84" height="20.85" fill="#dff4bb"/>
<rect x="1423.6" y="792.45" width="21.84" height="20.85" fill="#c8efb8"/>
<rect x="1445.14" y="792.45" width="21.84" height="20.85" fill="#89dbb4"/>
<rect x="1466.68" y="792.45" width="21.84" height="20.85" fill="#89dbb4"/>
<rect x="1488.22" y="792.45" width="21.84" height="20.85" fill="#e4f5bc"/>
<rect x="1509.76" y="792.45" width="21.84" height="20.85" fill="#c7eeb8"/>
<rect x="1531.3" y="792.45" width="21.84" height="20.85" fill="#c7eeb8"/>
<rect x="1552.84" y="792.45" width="21.84" height="20.85" fill="#c7eeb8"/>
<rect x="1574.38" y="792.45" width="21.84" height="20.85" fill="#45bdb3"/>
<rect x="1595.92" y="792.45" width="21.84" height="20.85" fill="#c4eeb8"/>
<rect x="1617.46" y="792.45" width="21.84" height="20.85" fill="#fad883"/>
<rect x="1639" y="792.45" width="21.84" height="20.85" fill="#d9f3ba"/>
<rect x="1660.54" y="792.45" width="21.84" height="20.85" fill="#d9f3ba"/>
<rect x="1682.08" y="792.45" width="21.84" height="20.85" fill="#fcf2b0"/>
<rect x="1703.62" y="792.45" width="21.84" height="20.85" fill="#eaf7bd"/>
<rect x="1725.16" y="792.45" width="21.84" height="20.85" fill="#eaf7bd"/>
<rect x="1746.7" y="792.45" width="21.84" height="20.85" fill="#eaf7bd"/>
<rect x="1768.24" y="792.45" width="21.84" height="20.85" fill="#d3f1ba"/>
<rect x="1789.78" y="792.45" width="21.84" height="20.85" fill="#d3f1ba"/>
<rect x="1811.32" y="792.45" width="21.84" height="20.85" fill="#d3f1ba"/>
<rect x="1832.86" y="792.45" width="21.84" height="20.85" fill="#d3f1ba"/>
<rect x="1854.4" y="792.45" width="21.84" height="20.85" fill="#96dfb4"/>
<rect x="1875.94" y="792.45" width="21.84" height="20.85" fill="#4dc1b3"/>
</g>
<rect x="550.8" y="560.7" width="21.54" height="20.7" fill="#fafabc" stroke="#000" stroke-width="1.9"/>
<rect x="572.34" y="519.3" width="21.54" height="20.7" fill="#fafabc" stroke="#000" stroke-width="1.9"/>
<rect x="593.88" y="581.4" width="21.54" height="20.7" fill="#fafabc" stroke="#000" stroke-width="1.9"/>
<rect x="615.42" y="540" width="21.54" height="20.7" fill="#fafabc" stroke="#000" stroke-width="1.9"/>
<rect x="636.96" y="540" width="21.54" height="20.7" fill="#fafabc" stroke="#000" stroke-width="1.9"/>
<rect x="658.5" y="519.3" width="21.54" height="20.7" fill="#fafabc" stroke="#000" stroke-width="1.9"/>
<rect x="680.04" y="560.7" width="21.54" height="20.7" fill="#fafabc" stroke="#000" stroke-width="1.9"/>
<rect x="701.58" y="519.3" width="21.54" height="20.7" fill="#fafabc" stroke="#000" stroke-width="1.9"/>
<rect x="723.12" y="581.4" width="21.54" height="20.7" fill="#fafabc" stroke="#000" stroke-width="1.9"/>
<rect x="744.66" y="540" width="21.54" height="20.7" fill="#fafabc" stroke="#000" stroke-width="1.9"/>
<rect x="766.2" y="581.4" width="21.54" height="20.7" fill="#fafabc" stroke="#000" stroke-width="1.9"/>
<rect x="787.74" y="519.3" width="21.54" height="20.7" fill="#fafabc" stroke="#000" stroke-width="1.9"/>
<rect x="809.28" y="519.3" width="21.54" height="20.7" fill="#fafabc" stroke="#000" stroke-width="1.9"/>
<rect x="830.82" y="540" width="21.54" height="20.7" fill="#fafabc" stroke="#000" stroke-width="1.9"/>
<rect x="852.36" y="581.4" width="21.54" height="20.7" fill="#fafabc" stroke="#000" stroke-width="1.9"/>
<rect x="873.9" y="581.4" width="21.54" height="20.7" fill="#fafabc" stroke="#000" stroke-width="1.9"/>
<rect x="895.44" y="560.7" width="21.54" height="20.7" fill="#fafabc" stroke="#000" stroke-width="1.9"/>
<rect x="916.98" y="560.7" width="21.54" height="20.7" fill="#fafabc" stroke="#000" stroke-width="1.9"/>
<rect x="938.52" y="560.7" width="21.54" height="20.7" fill="#fafabc" stroke="#000" stroke-width="1.9"/>
<rect x="960.06" y="560.7" width="21.54" height="20.7" fill="#fafabc" stroke="#000" stroke-width="1.9"/>
<rect x="981.6" y="581.4" width="21.54" height="20.7" fill="#fafabc" stroke="#000" stroke-width="1.9"/>
<rect x="1003.14" y="560.7" width="21.54" height="20.7" fill="#fafabc" stroke="#000" stroke-width="1.9"/>
<rect x="1024.68" y="560.7" width="21.54" height="20.7" fill="#fafabc" stroke="#000" stroke-width="1.9"/>
<rect x="1046.22" y="540" width="21.54" height="20.7" fill="#fafabc" stroke="#000" stroke-width="1.9"/>
<rect x="1067.76" y="581.4" width="21.54" height="20.7" fill="#fafabc" stroke="#000" stroke-width="1.9"/>
<rect x="1089.3" y="581.4" width="21.54" height="20.7" fill="#fafabc" stroke="#000" stroke-width="1.9"/>
<rect x="1110.84" y="581.4" width="21.54" height="20.7" fill="#fafabc" stroke="#000" stroke-width="1.9"/>
<rect x="1132.38" y="560.7" width="21.54" height="20.7" fill="#fafabc" stroke="#000" stroke-width="1.9"/>
<rect x="1153.92" y="581.4" width="21.54" height="20.7" fill="#fafabc" stroke="#000" stroke-width="1.9"/>
<rect x="1175.46" y="540" width="21.54" height="20.7" fill="#fafabc" stroke="#000" stroke-width="1.9"/>
<rect x="1197" y="581.4" width="21.54" height="20.7" fill="#fafabc" stroke="#000" stroke-width="1.9"/>
<rect x="1218.54" y="581.4" width="21.54" height="20.7" fill="#fafabc" stroke="#000" stroke-width="1.9"/>
<rect x="1240.08" y="540" width="21.54" height="20.7" fill="#fafabc" stroke="#000" stroke-width="1.9"/>
<rect x="1261.62" y="581.4" width="21.54" height="20.7" fill="#fafabc" stroke="#000" stroke-width="1.9"/>
<rect x="1283.16" y="581.4" width="21.54" height="20.7" fill="#fafabc" stroke="#000" stroke-width="1.9"/>
<rect x="1304.7" y="540" width="21.54" height="20.7" fill="#fafabc" stroke="#000" stroke-width="1.9"/>
<rect x="1326.24" y="581.4" width="21.54" height="20.7" fill="#fafabc" stroke="#000" stroke-width="1.9"/>
<rect x="1347.78" y="581.4" width="21.54" height="20.7" fill="#fafabc" stroke="#000" stroke-width="1.9"/>
<rect x="1369.32" y="581.4" width="21.54" height="20.7" fill="#fafabc" stroke="#000" stroke-width="1.9"/>
<rect x="1390.86" y="581.4" width="21.54" height="20.7" fill="#fafabc" stroke="#000" stroke-width="1.9"/>
<rect x="1412.4" y="560.7" width="21.54" height="20.7" fill="#fafabc" stroke="#000" stroke-width="1.9"/>
<rect x="1433.94" y="540" width="21.54" height="20.7" fill="#fafabc" stroke="#000" stroke-width="1.9"/>
<rect x="1455.48" y="540" width="21.54" height="20.7" fill="#fafabc" stroke="#000" stroke-width="1.9"/>
<rect x="1477.02" y="519.3" width="21.54" height="20.7" fill="#fafabc" stroke="#000" stroke-width="1.9"/>
<rect x="1498.56" y="519.3" width="21.54" height="20.7" fill="#fafabc" stroke="#000" stroke-width="1.9"/>
<rect x="1520.1" y="581.4" width="21.54" height="20.7" fill="#fafabc" stroke="#000" stroke-width="1.9"/>
<rect x="1541.64" y="581.4" width="21.54" height="20.7" fill="#fafabc" stroke="#000" stroke-width="1.9"/>
<rect x="1563.18" y="540" width="21.54" height="20.7" fill="#fafabc" stroke="#000" stroke-width="1.9"/>
<rect x="1584.72" y="540" width="21.54" height="20.7" fill="#fafabc" stroke="#000" stroke-width="1.9"/>
<rect x="1606.26" y="519.3" width="21.54" height="20.7" fill="#fafabc" stroke="#000" stroke-width="1.9"/>
<rect x="1627.8" y="540" width="21.54" height="20.7" fill="#fafabc" stroke="#000" stroke-width="1.9"/>
<rect x="1649.34" y="581.4" width="21.54" height="20.7" fill="#fafabc" stroke="#000" stroke-width="1.9"/>
<rect x="1670.88" y="519.3" width="21.54" height="20.7" fill="#fafabc" stroke="#000" stroke-width="1.9"/>
<rect x="1692.42" y="519.3" width="21.54" height="20.7" fill="#fafabc" stroke="#000" stroke-width="1.9"/>
<rect x="1713.96" y="581.4" width="21.54" height="20.7" fill="#fafabc" stroke="#000" stroke-width="1.9"/>
<rect x="1735.5" y="581.4" width="21.54" height="20.7" fill="#fafabc" stroke="#000" stroke-width="1.9"/>
<rect x="1757.04" y="560.7" width="21.54" height="20.7" fill="#fafabc" stroke="#000" stroke-width="1.9"/>
<rect x="1778.58" y="581.4" width="21.54" height="20.7" fill="#fafabc" stroke="#000" stroke-width="1.9"/>
<rect x="1800.12" y="581.4" width="21.54" height="20.7" fill="#fafabc" stroke="#000" stroke-width="1.9"/>
<rect x="1821.66" y="581.4" width="21.54" height="20.7" fill="#fafabc" stroke="#000" stroke-width="1.9"/>
<rect x="1843.2" y="560.7" width="21.54" height="20.7" fill="#fafabc" stroke="#000" stroke-width="1.9"/>
<rect x="1864.74" y="560.7" width="21.54" height="20.7" fill="#fafabc" stroke="#000" stroke-width="1.9"/>
<rect x="1886.28" y="560.7" width="21.54" height="20.7" fill="#fafabc" stroke="#000" stroke-width="1.9"/>
<line x1="1911" y1="529.65" x2="1930.6" y2="529.65" stroke="#3a3a3a" stroke-width="1.9"/>
<text x="1938" y="539.35" font-size="25" fill="#4d4d4d" stroke="#4d4d4d" stroke-width="0.3">A</text>
<line x1="1911" y1="550.35" x2="1916" y2="550.35" stroke="#3a3a3a" stroke-width="1.9"/>
<text x="1918.3" y="560.05" font-size="25" fill="#4d4d4d" stroke="#4d4d4d" stroke-width="0.3">C</text>
<line x1="1911" y1="571.05" x2="1930.6" y2="571.05" stroke="#3a3a3a" stroke-width="1.9"/>
<text x="1938" y="580.75" font-size="25" fill="#4d4d4d" stroke="#4d4d4d" stroke-width="0.3">G</text>
<line x1="1911" y1="591.75" x2="1916" y2="591.75" stroke="#3a3a3a" stroke-width="1.9"/>
<text x="1918.3" y="601.45" font-size="25" fill="#4d4d4d" stroke="#4d4d4d" stroke-width="0.3">T</text>
<line x1="1900.8" y1="741.07" x2="1920.4" y2="741.07" stroke="#3a3a3a" stroke-width="1.9"/>
<text x="1927.8" y="750.77" font-size="25" fill="#4d4d4d" stroke="#4d4d4d" stroke-width="0.3">A</text>
<line x1="1900.8" y1="761.62" x2="1905.8" y2="761.62" stroke="#3a3a3a" stroke-width="1.9"/>
<text x="1908.1" y="771.33" font-size="25" fill="#4d4d4d" stroke="#4d4d4d" stroke-width="0.3">C</text>
<line x1="1900.8" y1="782.17" x2="1920.4" y2="782.17" stroke="#3a3a3a" stroke-width="1.9"/>
<text x="1927.8" y="791.88" font-size="25" fill="#4d4d4d" stroke="#4d4d4d" stroke-width="0.3">G</text>
<line x1="1900.8" y1="802.72" x2="1905.8" y2="802.72" stroke="#3a3a3a" stroke-width="1.9"/>
<text x="1908.1" y="812.42" font-size="25" fill="#4d4d4d" stroke="#4d4d4d" stroke-width="0.3">T</text>
<text x="1993.5" y="560" font-size="28.4" text-anchor="middle" transform="rotate(-90 1993.5 560)" stroke="#000" stroke-width="0.3">substitutions</text>
<text x="1954.3" y="662.2" font-size="28.4" text-anchor="middle" transform="rotate(-90 1954.3 662.2)" stroke="#000" stroke-width="0.3">deletions</text>
<text x="1993.5" y="771.3" font-size="28.4" text-anchor="middle" transform="rotate(-90 1993.5 771.3)" stroke="#000" stroke-width="0.3">insertions</text>
<text x="561.57" y="862.5" font-size="29" text-anchor="middle" fill="#4d4d4d" stroke="#4d4d4d" stroke-width="0.3">1</text>
<text x="647.73" y="862.5" font-size="29" text-anchor="middle" fill="#4d4d4d" stroke="#4d4d4d" stroke-width="0.3">5</text>
<text x="755.43" y="862.5" font-size="29" text-anchor="middle" fill="#4d4d4d" stroke="#4d4d4d" stroke-width="0.3">10</text>
<text x="863.13" y="862.5" font-size="29" text-anchor="middle" fill="#4d4d4d" stroke="#4d4d4d" stroke-width="0.3">15</text>
<text x="970.83" y="862.5" font-size="29" text-anchor="middle" fill="#4d4d4d" stroke="#4d4d4d" stroke-width="0.3">20</text>
<text x="1078.53" y="862.5" font-size="29" text-anchor="middle" fill="#4d4d4d" stroke="#4d4d4d" stroke-width="0.3">25</text>
<text x="1186.23" y="862.5" font-size="29" text-anchor="middle" fill="#4d4d4d" stroke="#4d4d4d" stroke-width="0.3">30</text>
<text x="1293.93" y="862.5" font-size="29" text-anchor="middle" fill="#4d4d4d" stroke="#4d4d4d" stroke-width="0.3">35</text>
<text x="1401.63" y="862.5" font-size="29" text-anchor="middle" fill="#4d4d4d" stroke="#4d4d4d" stroke-width="0.3">40</text>
<text x="1509.33" y="862.5" font-size="29" text-anchor="middle" fill="#4d4d4d" stroke="#4d4d4d" stroke-width="0.3">45</text>
<text x="1617.03" y="862.5" font-size="29" text-anchor="middle" fill="#4d4d4d" stroke="#4d4d4d" stroke-width="0.3">50</text>
<text x="1724.73" y="862.5" font-size="29" text-anchor="middle" fill="#4d4d4d" stroke="#4d4d4d" stroke-width="0.3">55</text>
<text x="1832.43" y="862.5" font-size="29" text-anchor="middle" fill="#4d4d4d" stroke="#4d4d4d" stroke-width="0.3">60</text>
<text x="1897.05" y="862.5" font-size="29" text-anchor="middle" fill="#4d4d4d" stroke="#4d4d4d" stroke-width="0.3">63</text>
<text x="1217.8" y="897" font-size="33.9" text-anchor="middle" stroke="#000" stroke-width="0.3">position</text>
<text x="720" y="930.75" font-size="23.5" text-anchor="middle" fill="#4d4d4d" stroke="#4d4d4d" stroke-width="0.3">insertions occur</text>
<text x="720" y="959.25" font-size="23.5" text-anchor="middle" fill="#4d4d4d" stroke="#4d4d4d" stroke-width="0.3"><tspan font-weight="bold">between</tspan> positions</text>
<path d="M618,937C606,925 600,905 604.5,885C608,866 618,846 629,828" fill="none" stroke="#1a1a1a" stroke-width="2.4" stroke-linecap="round"/>
<path d="M594.5,829.7C607,829 622,824.5 633,818.5C635.5,818 635,823 635.5,828C636,836 637,845 638,851" fill="none" stroke="#1a1a1a" stroke-width="2" stroke-linecap="round" stroke-linejoin="round"/>
<text x="1232" y="934.2" font-size="23.5" text-anchor="middle" fill="#4d4d4d" stroke="#4d4d4d" stroke-width="0.3">wild-type nucleotide</text>
<text x="1232" y="962.2" font-size="23.5" text-anchor="middle" fill="#4d4d4d" stroke="#4d4d4d" stroke-width="0.3">(substitutions)</text>
<rect x="1355.5" y="922" width="39" height="37.2" fill="#fafabc" stroke="#000" stroke-width="1.5"/>
<text x="1563.5" y="955.2" font-size="36" stroke="#000" stroke-width="0.3">PSI</text>
<defs><linearGradient id="psig" x1="0" x2="1" y1="0" y2="0"><stop offset="0%" stop-color="#0fa3b4"/><stop offset="12.5%" stop-color="#3dbab3"/><stop offset="25%" stop-color="#7dd7b3"/><stop offset="37.5%" stop-color="#b8ebb6"/><stop offset="50%" stop-color="#fcfbbf"/><stop offset="62.5%" stop-color="#fbe08f"/><stop offset="75%" stop-color="#f7c062"/><stop offset="87.5%" stop-color="#f09835"/><stop offset="100%" stop-color="#e86a08"/></linearGradient></defs>
<rect x="1636.2" y="921.4" width="293.1" height="39.1" fill="url(#psig)" stroke="#000" stroke-width="1.1"/>
<text x="1636.2" y="986.2" font-size="22.5" text-anchor="middle" stroke="#000" stroke-width="0.3">0</text>
<path d="M1709.47,921.4v8M1709.47,960.5v-8" fill="none" stroke="#000" stroke-width="1.1"/>
<text x="1709.47" y="986.2" font-size="22.5" text-anchor="middle" stroke="#000" stroke-width="0.3">25</text>
<path d="M1782.75,921.4v8M1782.75,960.5v-8" fill="none" stroke="#000" stroke-width="1.1"/>
<text x="1782.75" y="986.2" font-size="22.5" text-anchor="middle" stroke="#000" stroke-width="0.3">50</text>
<path d="M1856.03,921.4v8M1856.03,960.5v-8" fill="none" stroke="#000" stroke-width="1.1"/>
<text x="1856.03" y="986.2" font-size="22.5" text-anchor="middle" stroke="#000" stroke-width="0.3">75</text>
<text x="1929.3" y="986.2" font-size="22.5" text-anchor="middle" stroke="#000" stroke-width="0.3">100</text>
</g>
<g id="panelF">
<text transform="translate(499.9 1059.9) scale(0.97 1)" x="0" y="0" font-size="46.5" font-weight="bold" fill="#1a1a1a">F</text>
<path d="M795.2,1078.25V1484.5M574.5,1264.16H982" fill="none" stroke="#d4d4d4" stroke-width="1.2" stroke-dasharray="4.6 3.8"/>
<clipPath id="clipF"><rect x="574.5" y="1078.25" width="407.5" height="406.25"/></clipPath>
<g clip-path="url(#clipF)">
<path d="M623.56,1392.5H629.64M626.6,1387.42V1397.58M603.97,1392.5H608.03M606,1387.42V1397.58M596.3,1392.5H599.3M597.8,1387.42V1397.58M783.13,1197.2H809.67M796.4,1180.43V1213.97M772.24,1197.2H795.16M783.7,1180.43V1213.97M876.86,1197.2H916.74M896.8,1180.43V1213.97M700.34,1360.8H715.66M708,1354.29V1367.31M725.06,1360.8H741.14M733.1,1354.29V1367.31M727.47,1360.8H743.73M735.6,1354.29V1367.31M620.58,1444.4H626.82M623.7,1441.99V1446.81M684.09,1444.4H695.71M689.9,1441.99V1446.81M637.6,1444.4H646M641.8,1441.99V1446.81M754.61,1444.4H775.79M765.2,1441.99V1446.81M762.85,1444.4H788.15M775.5,1441.99V1446.81M625.47,1444.4H631.73M628.6,1441.99V1446.81M760.26,1332.8H780.74M770.5,1323.55V1342.05M811.07,1332.8H836.93M824,1323.55V1342.05M759.42,1332.8H783.18M771.3,1323.55V1342.05M660,1414.3H670.4M665.2,1409.85V1418.75M701.21,1414.3H714.79M708,1409.85V1418.75M625.21,1414.3H631.99M628.6,1409.85V1418.75M774.9,1317.9H795.7M785.3,1307.58V1328.22M802.7,1317.9H831.3M817,1307.58V1328.22M735.99,1317.9H755.61M745.8,1307.58V1328.22M784.93,1313.8H810.47M797.7,1304.47V1323.13M768.71,1313.8H793.69M781.2,1304.47V1323.13M796.96,1313.8H821.44M809.2,1304.47V1323.13M692.5,1349.2H705.5M699,1341.37V1357.03M800.76,1349.2H830.04M815.4,1341.37V1357.03M714.93,1349.2H732.27M723.6,1341.37V1357.03M800.3,1142H827.1M813.7,1123.91V1160.09M806.17,1142H831.03M818.6,1123.91V1160.09M912.92,1142H953.88M933.4,1123.91V1160.09M827.31,1145.3H857.69M842.5,1128.34V1162.26M879.15,1145.3H912.85M896,1128.34V1162.26M792.25,1145.3H817.15M804.7,1128.34V1162.26M853.03,1145.3H885.37M869.2,1128.34V1162.26M752.67,1145.3H771.93M762.3,1128.34V1162.26M746.44,1145.3H767.36M756.9,1128.34V1162.26M694.17,1294H709.63M701.9,1283.3V1304.7M751.91,1294H774.29M763.1,1283.3V1304.7M718.67,1294H733.93M726.3,1283.3V1304.7M758.8,1221.1H778.2M768.5,1205.02V1237.18M798.33,1221.1H822.47M810.4,1205.02V1237.18M785.82,1221.1H807.78M796.8,1205.02V1237.18M682.53,1221.1H694.87M688.7,1205.02V1237.18M780.58,1221.1H806.62M793.6,1205.02V1237.18M704.1,1221.1H718.5M711.3,1205.02V1237.18M644.89,1279.6H652.71M648.8,1267.03V1292.17M872.06,1279.6H903.34M887.7,1267.03V1292.17M741.29,1279.6H761.91M751.6,1267.03V1292.17M737.75,1279.6H758.85M748.3,1267.03V1292.17M850.25,1279.6H884.15M867.2,1267.03V1292.17M716.85,1279.6H736.15M726.5,1267.03V1292.17M826.76,1279.6H858.24M842.5,1267.03V1292.17M871.42,1279.6H905.58M888.5,1267.03V1292.17M726.02,1279.6H745.98M736,1267.03V1292.17M815.72,1279.6H840.48M828.1,1267.03V1292.17M782.3,1279.6H804.9M793.6,1267.03V1292.17M616.07,1279.6H621.53M618.8,1267.03V1292.17M792.4,1449.4H821.8M807.1,1447.18V1451.62M821.86,1449.4H849.14M835.5,1447.18V1451.62M600.18,1449.4H603.62M601.9,1447.18V1451.62M670.71,1248.3H683.69M677.2,1233.46V1263.14M806.31,1248.3H837.49M821.9,1233.46V1263.14M679.68,1248.3H693.12M686.4,1233.46V1263.14M781.97,1248.3H807.63M794.8,1233.46V1263.14M762.11,1248.3H786.29M774.2,1233.46V1263.14M664.26,1248.3H675.34M669.8,1233.46V1263.14M853.11,1336.9H887.09M870.1,1329.03V1344.77M595.92,1336.9H598.88M597.4,1329.03V1344.77M665.19,1336.9H676.01M670.6,1329.03V1344.77M755.48,1207.9H774.92M765.2,1193.87V1221.93M758.2,1207.9H778.8M768.5,1193.87V1221.93M848.02,1207.9H881.38M864.7,1193.87V1221.93M767.99,1207.9H787.81M777.9,1193.87V1221.93M759.61,1207.9H783.99M771.8,1193.87V1221.93M880.73,1207.9H914.47M897.6,1193.87V1221.93M717.5,1207.9H734.7M726.1,1193.87V1221.93M812.31,1207.9H838.09M825.2,1193.87V1221.93M774.9,1207.9H801.5M788.2,1193.87V1221.93M704.05,1336.9H717.75M710.9,1328.65V1345.15M647.36,1336.9H656.04M651.7,1328.65V1345.15M631.8,1336.9H639.4M635.6,1328.65V1345.15M863.98,1283.7H895.02M879.5,1273.1V1294.3M724.86,1283.7H744.54M734.7,1273.1V1294.3M616.29,1283.7H621.31M618.8,1273.1V1294.3M665.82,1345.1H676.18M671,1337.77V1352.43M740.54,1345.1H757.66M749.1,1337.77V1352.43M656.6,1345.1H665.6M661.1,1337.77V1352.43M815.6,1294H843.8M829.7,1283.54V1304.46M713.76,1294H731.04M722.4,1283.54V1304.46M855.45,1294H886.35M870.9,1283.54V1304.46M744.56,1294H764.44M754.5,1283.54V1304.46M717.68,1294H732.92M725.3,1283.54V1304.46M818.51,1294H843.69M831.1,1283.54V1304.46M606.72,1456.4H611.08M608.9,1454.6V1458.2M622.09,1456.4H627.71M624.9,1454.6V1458.2M617.19,1456.4H622.81M620,1454.6V1458.2M801.62,1294H829.58M815.6,1283.31V1304.69M709.93,1294H728.27M719.1,1283.31V1304.69M890.42,1294H926.18M908.3,1283.31V1304.69M700.83,1294H715.97M708.4,1283.31V1304.69M736.52,1294H754.28M745.4,1283.31V1304.69M827.65,1294H854.35M841,1283.31V1304.69M686.58,1317.9H700.62M693.6,1308.96V1326.84M728.38,1317.9H746.02M737.2,1308.96V1326.84M671.52,1317.9H681.88M676.7,1308.96V1326.84M813.86,1254.5H840.34M827.1,1240.43V1268.57M739.16,1254.5H757.44M748.3,1240.43V1268.57M867.25,1254.5H905.75M886.5,1240.43V1268.57M767.72,1254.5H793.88M780.8,1240.43V1268.57M766.94,1254.5H788.66M777.8,1240.43V1268.57M807.31,1254.5H836.09M821.7,1240.43V1268.57M766.63,1254.5H790.77M778.7,1240.43V1268.57M804.85,1254.5H828.75M816.8,1240.43V1268.57M826.02,1254.5H857.38M841.7,1240.43V1268.57M641.55,1254.5H649.45M645.5,1240.43V1268.57M808.16,1254.5H836.44M822.3,1240.43V1268.57M819.91,1254.5H845.89M832.9,1240.43V1268.57M686.16,1392.5H698.64M692.4,1386.62V1398.38M644.75,1392.5H652.85M648.8,1386.62V1398.38M628.48,1392.5H635.32M631.9,1386.62V1398.38M674.3,1330.9H685.7M680,1322.33V1339.47M722.86,1330.9H738.34M730.6,1322.33V1339.47M667.4,1330.9H678.6M673,1322.33V1339.47M703.65,1330.9H717.35M710.5,1322.33V1339.47M826.39,1330.9H852.01M839.2,1322.33V1339.47M655.68,1330.9H664.92M660.3,1322.33V1339.47M711.86,1435.3H728.74M720.3,1432.58V1438.02M822.77,1435.3H855.63M839.2,1432.58V1438.02M702.44,1435.3H718.56M710.5,1432.58V1438.02M617.35,1435.3H622.65M620,1432.58V1438.02M843.02,1435.3H876.58M859.8,1432.58V1438.02M700.84,1435.3H715.96M708.4,1432.58V1438.02M760.72,1235.5H784.48M772.6,1223.36V1247.64M741.4,1235.5H761M751.2,1223.36V1247.64M843.37,1235.5H879.43M861.4,1223.36V1247.64M738.79,1235.5H757.81M748.3,1223.36V1247.64M662.56,1235.5H674.44M668.5,1223.36V1247.64M666.87,1235.5H676.73M671.8,1223.36V1247.64M630.67,1369.8H638.13M634.4,1362.67V1376.93M668.43,1369.8H680.17M674.3,1362.67V1376.93M653.27,1369.8H663.13M658.2,1362.67V1376.93M776.61,1369.8H799.79M788.2,1362.67V1376.93M847.48,1369.8H879.52M863.5,1362.67V1376.93M770.67,1369.8H796.73M783.7,1362.67V1376.93M609.08,1423.4H613.52M611.3,1420.13V1426.67M743.03,1423.4H764.37M753.7,1420.13V1426.67M717.72,1423.4H733.68M725.7,1420.13V1426.67M649.43,1347.4H659.57M654.5,1339.22V1355.58M790.86,1347.4H815.14M803,1339.22V1355.58M682.61,1347.4H693.99M688.3,1339.22V1355.58M808.38,1197.2H838.82M823.6,1180.85V1213.55M798.56,1197.2H825.64M812.1,1180.85V1213.55M929.11,1197.2H977.09M953.1,1180.85V1213.55M790.94,1269.7H819.26M805.1,1258.27V1281.13M857.86,1269.7H887.14M872.5,1258.27V1281.13M740.62,1269.7H761.38M751,1258.27V1281.13M845.3,1269.7H874.3M859.8,1258.27V1281.13M766.37,1269.7H789.43M777.9,1258.27V1281.13M828.78,1269.7H856.22M842.5,1258.27V1281.13M811.98,1239.2H836.02M824,1224.39V1254.01M787.53,1239.2H810.27M798.9,1224.39V1254.01M828.56,1239.2H860.64M844.6,1224.39V1254.01M718.58,1239.2H734.42M726.5,1224.39V1254.01M803.45,1239.2H833.75M818.6,1224.39V1254.01M799.63,1239.2H829.37M814.5,1224.39V1254.01M783.81,1264.8H808.39M796.1,1254.08V1275.52M722.69,1264.8H741.91M732.3,1254.08V1275.52M741.76,1264.8H759.84M750.8,1254.08V1275.52M791.66,1264.8H820.94M806.3,1254.08V1275.52M753.01,1264.8H772.39M762.7,1254.08V1275.52M761.46,1264.8H784.94M773.2,1254.08V1275.52M774.76,1264.8H795.64M785.2,1254.08V1275.52M809.92,1264.8H839.68M824.8,1254.08V1275.52M773.13,1264.8H799.47M786.3,1254.08V1275.52M653.63,1264.8H663.57M658.6,1254.08V1275.52M744.35,1264.8H767.05M755.7,1254.08V1275.52M693.35,1264.8H707.05M700.2,1254.08V1275.52M677.92,1309.9H691.28M684.6,1301V1318.8M804.2,1309.9H829M816.6,1301V1318.8M708.23,1309.9H725.97M717.1,1301V1318.8M863.23,1309.9H894.97M879.1,1301V1318.8M777.89,1309.9H805.11M791.5,1301V1318.8M679.98,1309.9H693.22M686.6,1301V1318.8" fill="none" stroke="#4a4a4a" stroke-width="1.4" stroke-opacity="0.88"/>
<path d="M623.1,1392.5a3.5,3.5 0 1,0 7,0a3.5,3.5 0 1,0 -7,0M602.5,1392.5a3.5,3.5 0 1,0 7,0a3.5,3.5 0 1,0 -7,0M594.3,1392.5a3.5,3.5 0 1,0 7,0a3.5,3.5 0 1,0 -7,0M792.9,1197.2a3.5,3.5 0 1,0 7,0a3.5,3.5 0 1,0 -7,0M780.2,1197.2a3.5,3.5 0 1,0 7,0a3.5,3.5 0 1,0 -7,0M893.3,1197.2a3.5,3.5 0 1,0 7,0a3.5,3.5 0 1,0 -7,0M704.5,1360.8a3.5,3.5 0 1,0 7,0a3.5,3.5 0 1,0 -7,0M729.6,1360.8a3.5,3.5 0 1,0 7,0a3.5,3.5 0 1,0 -7,0M732.1,1360.8a3.5,3.5 0 1,0 7,0a3.5,3.5 0 1,0 -7,0M620.2,1444.4a3.5,3.5 0 1,0 7,0a3.5,3.5 0 1,0 -7,0M686.4,1444.4a3.5,3.5 0 1,0 7,0a3.5,3.5 0 1,0 -7,0M638.3,1444.4a3.5,3.5 0 1,0 7,0a3.5,3.5 0 1,0 -7,0M761.7,1444.4a3.5,3.5 0 1,0 7,0a3.5,3.5 0 1,0 -7,0M772,1444.4a3.5,3.5 0 1,0 7,0a3.5,3.5 0 1,0 -7,0M625.1,1444.4a3.5,3.5 0 1,0 7,0a3.5,3.5 0 1,0 -7,0M767,1332.8a3.5,3.5 0 1,0 7,0a3.5,3.5 0 1,0 -7,0M820.5,1332.8a3.5,3.5 0 1,0 7,0a3.5,3.5 0 1,0 -7,0M767.8,1332.8a3.5,3.5 0 1,0 7,0a3.5,3.5 0 1,0 -7,0M661.7,1414.3a3.5,3.5 0 1,0 7,0a3.5,3.5 0 1,0 -7,0M704.5,1414.3a3.5,3.5 0 1,0 7,0a3.5,3.5 0 1,0 -7,0M625.1,1414.3a3.5,3.5 0 1,0 7,0a3.5,3.5 0 1,0 -7,0M781.8,1317.9a3.5,3.5 0 1,0 7,0a3.5,3.5 0 1,0 -7,0M813.5,1317.9a3.5,3.5 0 1,0 7,0a3.5,3.5 0 1,0 -7,0M742.3,1317.9a3.5,3.5 0 1,0 7,0a3.5,3.5 0 1,0 -7,0M794.2,1313.8a3.5,3.5 0 1,0 7,0a3.5,3.5 0 1,0 -7,0M777.7,1313.8a3.5,3.5 0 1,0 7,0a3.5,3.5 0 1,0 -7,0M805.7,1313.8a3.5,3.5 0 1,0 7,0a3.5,3.5 0 1,0 -7,0M695.5,1349.2a3.5,3.5 0 1,0 7,0a3.5,3.5 0 1,0 -7,0M811.9,1349.2a3.5,3.5 0 1,0 7,0a3.5,3.5 0 1,0 -7,0M720.1,1349.2a3.5,3.5 0 1,0 7,0a3.5,3.5 0 1,0 -7,0M810.2,1142a3.5,3.5 0 1,0 7,0a3.5,3.5 0 1,0 -7,0M815.1,1142a3.5,3.5 0 1,0 7,0a3.5,3.5 0 1,0 -7,0M929.9,1142a3.5,3.5 0 1,0 7,0a3.5,3.5 0 1,0 -7,0M839,1145.3a3.5,3.5 0 1,0 7,0a3.5,3.5 0 1,0 -7,0M892.5,1145.3a3.5,3.5 0 1,0 7,0a3.5,3.5 0 1,0 -7,0M801.2,1145.3a3.5,3.5 0 1,0 7,0a3.5,3.5 0 1,0 -7,0M865.7,1145.3a3.5,3.5 0 1,0 7,0a3.5,3.5 0 1,0 -7,0M758.8,1145.3a3.5,3.5 0 1,0 7,0a3.5,3.5 0 1,0 -7,0M753.4,1145.3a3.5,3.5 0 1,0 7,0a3.5,3.5 0 1,0 -7,0M698.4,1294a3.5,3.5 0 1,0 7,0a3.5,3.5 0 1,0 -7,0M759.6,1294a3.5,3.5 0 1,0 7,0a3.5,3.5 0 1,0 -7,0M722.8,1294a3.5,3.5 0 1,0 7,0a3.5,3.5 0 1,0 -7,0M765,1221.1a3.5,3.5 0 1,0 7,0a3.5,3.5 0 1,0 -7,0M806.9,1221.1a3.5,3.5 0 1,0 7,0a3.5,3.5 0 1,0 -7,0M793.3,1221.1a3.5,3.5 0 1,0 7,0a3.5,3.5 0 1,0 -7,0M685.2,1221.1a3.5,3.5 0 1,0 7,0a3.5,3.5 0 1,0 -7,0M790.1,1221.1a3.5,3.5 0 1,0 7,0a3.5,3.5 0 1,0 -7,0M707.8,1221.1a3.5,3.5 0 1,0 7,0a3.5,3.5 0 1,0 -7,0M645.3,1279.6a3.5,3.5 0 1,0 7,0a3.5,3.5 0 1,0 -7,0M884.2,1279.6a3.5,3.5 0 1,0 7,0a3.5,3.5 0 1,0 -7,0M748.1,1279.6a3.5,3.5 0 1,0 7,0a3.5,3.5 0 1,0 -7,0M744.8,1279.6a3.5,3.5 0 1,0 7,0a3.5,3.5 0 1,0 -7,0M863.7,1279.6a3.5,3.5 0 1,0 7,0a3.5,3.5 0 1,0 -7,0M723,1279.6a3.5,3.5 0 1,0 7,0a3.5,3.5 0 1,0 -7,0M839,1279.6a3.5,3.5 0 1,0 7,0a3.5,3.5 0 1,0 -7,0M885,1279.6a3.5,3.5 0 1,0 7,0a3.5,3.5 0 1,0 -7,0M732.5,1279.6a3.5,3.5 0 1,0 7,0a3.5,3.5 0 1,0 -7,0M824.6,1279.6a3.5,3.5 0 1,0 7,0a3.5,3.5 0 1,0 -7,0M790.1,1279.6a3.5,3.5 0 1,0 7,0a3.5,3.5 0 1,0 -7,0M615.3,1279.6a3.5,3.5 0 1,0 7,0a3.5,3.5 0 1,0 -7,0M803.6,1449.4a3.5,3.5 0 1,0 7,0a3.5,3.5 0 1,0 -7,0M832,1449.4a3.5,3.5 0 1,0 7,0a3.5,3.5 0 1,0 -7,0M598.4,1449.4a3.5,3.5 0 1,0 7,0a3.5,3.5 0 1,0 -7,0M673.7,1248.3a3.5,3.5 0 1,0 7,0a3.5,3.5 0 1,0 -7,0M818.4,1248.3a3.5,3.5 0 1,0 7,0a3.5,3.5 0 1,0 -7,0M682.9,1248.3a3.5,3.5 0 1,0 7,0a3.5,3.5 0 1,0 -7,0M791.3,1248.3a3.5,3.5 0 1,0 7,0a3.5,3.5 0 1,0 -7,0M770.7,1248.3a3.5,3.5 0 1,0 7,0a3.5,3.5 0 1,0 -7,0M666.3,1248.3a3.5,3.5 0 1,0 7,0a3.5,3.5 0 1,0 -7,0M866.6,1336.9a3.5,3.5 0 1,0 7,0a3.5,3.5 0 1,0 -7,0M593.9,1336.9a3.5,3.5 0 1,0 7,0a3.5,3.5 0 1,0 -7,0M667.1,1336.9a3.5,3.5 0 1,0 7,0a3.5,3.5 0 1,0 -7,0M761.7,1207.9a3.5,3.5 0 1,0 7,0a3.5,3.5 0 1,0 -7,0M765,1207.9a3.5,3.5 0 1,0 7,0a3.5,3.5 0 1,0 -7,0M861.2,1207.9a3.5,3.5 0 1,0 7,0a3.5,3.5 0 1,0 -7,0M774.4,1207.9a3.5,3.5 0 1,0 7,0a3.5,3.5 0 1,0 -7,0M768.3,1207.9a3.5,3.5 0 1,0 7,0a3.5,3.5 0 1,0 -7,0M894.1,1207.9a3.5,3.5 0 1,0 7,0a3.5,3.5 0 1,0 -7,0M722.6,1207.9a3.5,3.5 0 1,0 7,0a3.5,3.5 0 1,0 -7,0M821.7,1207.9a3.5,3.5 0 1,0 7,0a3.5,3.5 0 1,0 -7,0M784.7,1207.9a3.5,3.5 0 1,0 7,0a3.5,3.5 0 1,0 -7,0M707.4,1336.9a3.5,3.5 0 1,0 7,0a3.5,3.5 0 1,0 -7,0M648.2,1336.9a3.5,3.5 0 1,0 7,0a3.5,3.5 0 1,0 -7,0M632.1,1336.9a3.5,3.5 0 1,0 7,0a3.5,3.5 0 1,0 -7,0M876,1283.7a3.5,3.5 0 1,0 7,0a3.5,3.5 0 1,0 -7,0M731.2,1283.7a3.5,3.5 0 1,0 7,0a3.5,3.5 0 1,0 -7,0M615.3,1283.7a3.5,3.5 0 1,0 7,0a3.5,3.5 0 1,0 -7,0M667.5,1345.1a3.5,3.5 0 1,0 7,0a3.5,3.5 0 1,0 -7,0M745.6,1345.1a3.5,3.5 0 1,0 7,0a3.5,3.5 0 1,0 -7,0M657.6,1345.1a3.5,3.5 0 1,0 7,0a3.5,3.5 0 1,0 -7,0M826.2,1294a3.5,3.5 0 1,0 7,0a3.5,3.5 0 1,0 -7,0M718.9,1294a3.5,3.5 0 1,0 7,0a3.5,3.5 0 1,0 -7,0M867.4,1294a3.5,3.5 0 1,0 7,0a3.5,3.5 0 1,0 -7,0M751,1294a3.5,3.5 0 1,0 7,0a3.5,3.5 0 1,0 -7,0M721.8,1294a3.5,3.5 0 1,0 7,0a3.5,3.5 0 1,0 -7,0M827.6,1294a3.5,3.5 0 1,0 7,0a3.5,3.5 0 1,0 -7,0M605.4,1456.4a3.5,3.5 0 1,0 7,0a3.5,3.5 0 1,0 -7,0M621.4,1456.4a3.5,3.5 0 1,0 7,0a3.5,3.5 0 1,0 -7,0M616.5,1456.4a3.5,3.5 0 1,0 7,0a3.5,3.5 0 1,0 -7,0M812.1,1294a3.5,3.5 0 1,0 7,0a3.5,3.5 0 1,0 -7,0M715.6,1294a3.5,3.5 0 1,0 7,0a3.5,3.5 0 1,0 -7,0M904.8,1294a3.5,3.5 0 1,0 7,0a3.5,3.5 0 1,0 -7,0M704.9,1294a3.5,3.5 0 1,0 7,0a3.5,3.5 0 1,0 -7,0M741.9,1294a3.5,3.5 0 1,0 7,0a3.5,3.5 0 1,0 -7,0M837.5,1294a3.5,3.5 0 1,0 7,0a3.5,3.5 0 1,0 -7,0M690.1,1317.9a3.5,3.5 0 1,0 7,0a3.5,3.5 0 1,0 -7,0M733.7,1317.9a3.5,3.5 0 1,0 7,0a3.5,3.5 0 1,0 -7,0M673.2,1317.9a3.5,3.5 0 1,0 7,0a3.5,3.5 0 1,0 -7,0M823.6,1254.5a3.5,3.5 0 1,0 7,0a3.5,3.5 0 1,0 -7,0M744.8,1254.5a3.5,3.5 0 1,0 7,0a3.5,3.5 0 1,0 -7,0M883,1254.5a3.5,3.5 0 1,0 7,0a3.5,3.5 0 1,0 -7,0M777.3,1254.5a3.5,3.5 0 1,0 7,0a3.5,3.5 0 1,0 -7,0M774.3,1254.5a3.5,3.5 0 1,0 7,0a3.5,3.5 0 1,0 -7,0M818.2,1254.5a3.5,3.5 0 1,0 7,0a3.5,3.5 0 1,0 -7,0M775.2,1254.5a3.5,3.5 0 1,0 7,0a3.5,3.5 0 1,0 -7,0M813.3,1254.5a3.5,3.5 0 1,0 7,0a3.5,3.5 0 1,0 -7,0M838.2,1254.5a3.5,3.5 0 1,0 7,0a3.5,3.5 0 1,0 -7,0M642,1254.5a3.5,3.5 0 1,0 7,0a3.5,3.5 0 1,0 -7,0M818.8,1254.5a3.5,3.5 0 1,0 7,0a3.5,3.5 0 1,0 -7,0M829.4,1254.5a3.5,3.5 0 1,0 7,0a3.5,3.5 0 1,0 -7,0M688.9,1392.5a3.5,3.5 0 1,0 7,0a3.5,3.5 0 1,0 -7,0M645.3,1392.5a3.5,3.5 0 1,0 7,0a3.5,3.5 0 1,0 -7,0M628.4,1392.5a3.5,3.5 0 1,0 7,0a3.5,3.5 0 1,0 -7,0M676.5,1330.9a3.5,3.5 0 1,0 7,0a3.5,3.5 0 1,0 -7,0M727.1,1330.9a3.5,3.5 0 1,0 7,0a3.5,3.5 0 1,0 -7,0M669.5,1330.9a3.5,3.5 0 1,0 7,0a3.5,3.5 0 1,0 -7,0M707,1330.9a3.5,3.5 0 1,0 7,0a3.5,3.5 0 1,0 -7,0M835.7,1330.9a3.5,3.5 0 1,0 7,0a3.5,3.5 0 1,0 -7,0M656.8,1330.9a3.5,3.5 0 1,0 7,0a3.5,3.5 0 1,0 -7,0M716.8,1435.3a3.5,3.5 0 1,0 7,0a3.5,3.5 0 1,0 -7,0M835.7,1435.3a3.5,3.5 0 1,0 7,0a3.5,3.5 0 1,0 -7,0M707,1435.3a3.5,3.5 0 1,0 7,0a3.5,3.5 0 1,0 -7,0M616.5,1435.3a3.5,3.5 0 1,0 7,0a3.5,3.5 0 1,0 -7,0M856.3,1435.3a3.5,3.5 0 1,0 7,0a3.5,3.5 0 1,0 -7,0M704.9,1435.3a3.5,3.5 0 1,0 7,0a3.5,3.5 0 1,0 -7,0M769.1,1235.5a3.5,3.5 0 1,0 7,0a3.5,3.5 0 1,0 -7,0M747.7,1235.5a3.5,3.5 0 1,0 7,0a3.5,3.5 0 1,0 -7,0M857.9,1235.5a3.5,3.5 0 1,0 7,0a3.5,3.5 0 1,0 -7,0M744.8,1235.5a3.5,3.5 0 1,0 7,0a3.5,3.5 0 1,0 -7,0M665,1235.5a3.5,3.5 0 1,0 7,0a3.5,3.5 0 1,0 -7,0M668.3,1235.5a3.5,3.5 0 1,0 7,0a3.5,3.5 0 1,0 -7,0M630.9,1369.8a3.5,3.5 0 1,0 7,0a3.5,3.5 0 1,0 -7,0M670.8,1369.8a3.5,3.5 0 1,0 7,0a3.5,3.5 0 1,0 -7,0M654.7,1369.8a3.5,3.5 0 1,0 7,0a3.5,3.5 0 1,0 -7,0M784.7,1369.8a3.5,3.5 0 1,0 7,0a3.5,3.5 0 1,0 -7,0M860,1369.8a3.5,3.5 0 1,0 7,0a3.5,3.5 0 1,0 -7,0M780.2,1369.8a3.5,3.5 0 1,0 7,0a3.5,3.5 0 1,0 -7,0M607.8,1423.4a3.5,3.5 0 1,0 7,0a3.5,3.5 0 1,0 -7,0M750.2,1423.4a3.5,3.5 0 1,0 7,0a3.5,3.5 0 1,0 -7,0M722.2,1423.4a3.5,3.5 0 1,0 7,0a3.5,3.5 0 1,0 -7,0M651,1347.4a3.5,3.5 0 1,0 7,0a3.5,3.5 0 1,0 -7,0M799.5,1347.4a3.5,3.5 0 1,0 7,0a3.5,3.5 0 1,0 -7,0M684.8,1347.4a3.5,3.5 0 1,0 7,0a3.5,3.5 0 1,0 -7,0M820.1,1197.2a3.5,3.5 0 1,0 7,0a3.5,3.5 0 1,0 -7,0M808.6,1197.2a3.5,3.5 0 1,0 7,0a3.5,3.5 0 1,0 -7,0M949.6,1197.2a3.5,3.5 0 1,0 7,0a3.5,3.5 0 1,0 -7,0M801.6,1269.7a3.5,3.5 0 1,0 7,0a3.5,3.5 0 1,0 -7,0M869,1269.7a3.5,3.5 0 1,0 7,0a3.5,3.5 0 1,0 -7,0M747.5,1269.7a3.5,3.5 0 1,0 7,0a3.5,3.5 0 1,0 -7,0M856.3,1269.7a3.5,3.5 0 1,0 7,0a3.5,3.5 0 1,0 -7,0M774.4,1269.7a3.5,3.5 0 1,0 7,0a3.5,3.5 0 1,0 -7,0M839,1269.7a3.5,3.5 0 1,0 7,0a3.5,3.5 0 1,0 -7,0M820.5,1239.2a3.5,3.5 0 1,0 7,0a3.5,3.5 0 1,0 -7,0M795.4,1239.2a3.5,3.5 0 1,0 7,0a3.5,3.5 0 1,0 -7,0M841.1,1239.2a3.5,3.5 0 1,0 7,0a3.5,3.5 0 1,0 -7,0M723,1239.2a3.5,3.5 0 1,0 7,0a3.5,3.5 0 1,0 -7,0M815.1,1239.2a3.5,3.5 0 1,0 7,0a3.5,3.5 0 1,0 -7,0M811,1239.2a3.5,3.5 0 1,0 7,0a3.5,3.5 0 1,0 -7,0M792.6,1264.8a3.5,3.5 0 1,0 7,0a3.5,3.5 0 1,0 -7,0M728.8,1264.8a3.5,3.5 0 1,0 7,0a3.5,3.5 0 1,0 -7,0M747.3,1264.8a3.5,3.5 0 1,0 7,0a3.5,3.5 0 1,0 -7,0M802.8,1264.8a3.5,3.5 0 1,0 7,0a3.5,3.5 0 1,0 -7,0M759.2,1264.8a3.5,3.5 0 1,0 7,0a3.5,3.5 0 1,0 -7,0M769.7,1264.8a3.5,3.5 0 1,0 7,0a3.5,3.5 0 1,0 -7,0M781.7,1264.8a3.5,3.5 0 1,0 7,0a3.5,3.5 0 1,0 -7,0M821.3,1264.8a3.5,3.5 0 1,0 7,0a3.5,3.5 0 1,0 -7,0M782.8,1264.8a3.5,3.5 0 1,0 7,0a3.5,3.5 0 1,0 -7,0M655.1,1264.8a3.5,3.5 0 1,0 7,0a3.5,3.5 0 1,0 -7,0M752.2,1264.8a3.5,3.5 0 1,0 7,0a3.5,3.5 0 1,0 -7,0M696.7,1264.8a3.5,3.5 0 1,0 7,0a3.5,3.5 0 1,0 -7,0M681.1,1309.9a3.5,3.5 0 1,0 7,0a3.5,3.5 0 1,0 -7,0M813.1,1309.9a3.5,3.5 0 1,0 7,0a3.5,3.5 0 1,0 -7,0M713.6,1309.9a3.5,3.5 0 1,0 7,0a3.5,3.5 0 1,0 -7,0M875.6,1309.9a3.5,3.5 0 1,0 7,0a3.5,3.5 0 1,0 -7,0M788,1309.9a3.5,3.5 0 1,0 7,0a3.5,3.5 0 1,0 -7,0M683.1,1309.9a3.5,3.5 0 1,0 7,0a3.5,3.5 0 1,0 -7,0" fill="#4f4f4f"/>
</g>
<rect x="574.5" y="1078.25" width="407.5" height="406.25" fill="none" stroke="#3c3c3c" stroke-width="1.6"/>
<line x1="593.25" y1="1484.5" x2="593.25" y2="1488.1" stroke="#3c3c3c" stroke-width="1.4"/>
<text x="593.95" y="1511.7" font-size="23.5" text-anchor="middle" fill="#4d4d4d" stroke="#4d4d4d" stroke-width="0.3">0</text>
<line x1="696.08" y1="1484.5" x2="696.08" y2="1488.1" stroke="#3c3c3c" stroke-width="1.4"/>
<text x="696.78" y="1511.7" font-size="23.5" text-anchor="middle" fill="#4d4d4d" stroke="#4d4d4d" stroke-width="0.3">25</text>
<line x1="798.9" y1="1484.5" x2="798.9" y2="1488.1" stroke="#3c3c3c" stroke-width="1.4"/>
<text x="799.6" y="1511.7" font-size="23.5" text-anchor="middle" fill="#4d4d4d" stroke="#4d4d4d" stroke-width="0.3">50</text>
<line x1="901.73" y1="1484.5" x2="901.73" y2="1488.1" stroke="#3c3c3c" stroke-width="1.4"/>
<text x="902.43" y="1511.7" font-size="23.5" text-anchor="middle" fill="#4d4d4d" stroke="#4d4d4d" stroke-width="0.3">75</text>
<line x1="570.9" y1="1466.25" x2="574.5" y2="1466.25" stroke="#3c3c3c" stroke-width="1.4"/>
<text x="565.5" y="1473.55" font-size="23.5" text-anchor="end" fill="#4d4d4d" stroke="#4d4d4d" stroke-width="0.3">0</text>
<line x1="570.9" y1="1363.25" x2="574.5" y2="1363.25" stroke="#3c3c3c" stroke-width="1.4"/>
<text x="565.5" y="1370.55" font-size="23.5" text-anchor="end" fill="#4d4d4d" stroke="#4d4d4d" stroke-width="0.3">25</text>
<line x1="570.9" y1="1260.25" x2="574.5" y2="1260.25" stroke="#3c3c3c" stroke-width="1.4"/>
<text x="565.5" y="1267.55" font-size="23.5" text-anchor="end" fill="#4d4d4d" stroke="#4d4d4d" stroke-width="0.3">50</text>
<line x1="570.9" y1="1157.25" x2="574.5" y2="1157.25" stroke="#3c3c3c" stroke-width="1.4"/>
<text x="565.5" y="1164.55" font-size="23.5" text-anchor="end" fill="#4d4d4d" stroke="#4d4d4d" stroke-width="0.3">75</text>
<text x="574.5" y="1065.2" font-size="28.4" stroke="#000" stroke-width="0.3">deletions vs substitutions</text>
<text x="778.5" y="1542.5" font-size="27" text-anchor="middle" stroke="#000" stroke-width="0.3">PSI (substitution)</text>
<text x="524.5" y="1281.3" font-size="27" text-anchor="middle" transform="rotate(-90 524.5 1281.3)" stroke="#000" stroke-width="0.3">PSI (deletion)</text>
<text x="586.5" y="1107.5" font-size="22.3" stroke="#000" stroke-width="0.3">Spearman’s ρ = 0.46</text>
<text x="586.5" y="1133.8" font-size="22.3" stroke="#000" stroke-width="0.3">n = 186</text>
</g>
<g id="panelG">
<text transform="translate(1006 1060.2) scale(0.97 1)" x="0" y="0" font-size="46.5" font-weight="bold" fill="#1a1a1a">G</text>
<path d="M1286.93,1080.1V1486.3M1086.8,1286.62H1494.4" fill="none" stroke="#d4d4d4" stroke-width="1.2" stroke-dasharray="4.6 3.8"/>
<clipPath id="clipG"><rect x="1086.8" y="1080.1" width="407.6" height="406.2"/></clipPath>
<g clip-path="url(#clipG)">
<path d="M1350.7,1438.1H1390.1M1370.4,1435.37V1440.83M1328.28,1438.1H1361.52M1344.9,1435.37V1440.83M1252.2,1438.1H1276.6M1264.4,1435.37V1440.83M1401.89,1438.1H1446.71M1424.3,1435.37V1440.83M1350.7,1456.6H1390.1M1370.4,1454.77V1458.43M1328.28,1456.6H1361.52M1344.9,1454.77V1458.43M1252.2,1456.6H1276.6M1264.4,1454.77V1458.43M1401.89,1456.6H1446.71M1424.3,1454.77V1458.43M1350.7,1464H1390.1M1370.4,1462.65V1465.35M1328.28,1464H1361.52M1344.9,1462.65V1465.35M1252.2,1464H1276.6M1264.4,1462.65V1465.35M1401.89,1464H1446.71M1424.3,1462.65V1465.35M1350.7,1285.3H1390.1M1370.4,1273.36V1297.24M1322.28,1285.3H1355.72M1339,1273.36V1297.24M1313.12,1285.3H1348.68M1330.9,1273.36V1297.24M1366.48,1285.3H1402.32M1384.4,1273.36V1297.24M1350.7,1296.8H1390.1M1370.4,1286.49V1307.11M1322.28,1296.8H1355.72M1339,1286.49V1307.11M1313.12,1296.8H1348.68M1330.9,1286.49V1307.11M1366.48,1296.8H1402.32M1384.4,1286.49V1307.11M1350.7,1195H1390.1M1370.4,1177.07V1212.93M1322.28,1195H1355.72M1339,1177.07V1212.93M1313.12,1195H1348.68M1330.9,1177.07V1212.93M1366.48,1195H1402.32M1384.4,1177.07V1212.93M1263.86,1364.9H1288.54M1276.2,1358.01V1371.79M1250.89,1364.9H1277.11M1264,1358.01V1371.79M1292.42,1364.9H1324.98M1308.7,1358.01V1371.79M1366.48,1364.9H1402.32M1384.4,1358.01V1371.79M1263.86,1342.3H1288.54M1276.2,1335.06V1349.54M1250.89,1342.3H1277.11M1264,1335.06V1349.54M1292.42,1342.3H1324.98M1308.7,1335.06V1349.54M1366.48,1342.3H1402.32M1384.4,1335.06V1349.54M1263.86,1340.1H1288.54M1276.2,1332.79V1347.41M1250.89,1340.1H1277.11M1264,1332.79V1347.41M1292.42,1340.1H1324.98M1308.7,1332.79V1347.41M1366.48,1340.1H1402.32M1384.4,1332.79V1347.41M1222.67,1440.7H1242.53M1232.6,1437.89V1443.51M1250.89,1440.7H1277.11M1264,1437.89V1443.51M1327.25,1440.7H1358.95M1343.1,1437.89V1443.51M1151.49,1440.7H1163.91M1157.7,1437.89V1443.51M1222.67,1381.1H1242.53M1232.6,1375.87V1386.33M1250.89,1381.1H1277.11M1264,1375.87V1386.33M1327.25,1381.1H1358.95M1343.1,1375.87V1386.33M1151.49,1381.1H1163.91M1157.7,1375.87V1386.33M1222.67,1424.4H1242.53M1232.6,1420.62V1428.18M1250.89,1424.4H1277.11M1264,1420.62V1428.18M1327.25,1424.4H1358.95M1343.1,1420.62V1428.18M1151.49,1424.4H1163.91M1157.7,1420.62V1428.18M1355.55,1313.4H1388.25M1371.9,1303.87V1322.93M1250.89,1313.4H1277.11M1264,1303.87V1322.93M1365.5,1313.4H1403.3M1384.4,1303.87V1322.93M1122.77,1313.4H1132.83M1127.8,1303.87V1322.93M1355.55,1304.2H1388.25M1371.9,1292.82V1315.58M1250.89,1304.2H1277.11M1264,1292.82V1315.58M1365.5,1304.2H1403.3M1384.4,1292.82V1315.58M1122.77,1304.2H1132.83M1127.8,1292.82V1315.58M1355.55,1436.3H1388.25M1371.9,1433.48V1439.12M1250.89,1436.3H1277.11M1264,1433.48V1439.12M1365.5,1436.3H1403.3M1384.4,1433.48V1439.12M1122.77,1436.3H1132.83M1127.8,1433.48V1439.12M1355.55,1308.6H1388.25M1371.9,1299.39V1317.81M1391.23,1308.6H1432.17M1411.7,1299.39V1317.81M1417.03,1308.6H1486.97M1452,1299.39V1317.81M1202.59,1308.6H1221.41M1212,1299.39V1317.81M1355.55,1260.5H1388.25M1371.9,1248.87V1272.13M1391.23,1260.5H1432.17M1411.7,1248.87V1272.13M1417.03,1260.5H1486.97M1452,1248.87V1272.13M1202.59,1260.5H1221.41M1212,1248.87V1272.13M1355.55,1307.9H1388.25M1371.9,1297.21V1318.59M1391.23,1307.9H1432.17M1411.7,1297.21V1318.59M1417.03,1307.9H1486.97M1452,1297.21V1318.59M1202.59,1307.9H1221.41M1212,1297.21V1318.59M1403.81,1403.3H1447.79M1425.8,1398.62V1407.98M1345.06,1403.3H1376.54M1360.8,1398.62V1407.98M1417.03,1403.3H1486.97M1452,1398.62V1407.98M1233.16,1403.3H1257.24M1245.2,1398.62V1407.98M1403.81,1364.9H1447.79M1425.8,1358.79V1371.01M1345.06,1364.9H1376.54M1360.8,1358.79V1371.01M1417.03,1364.9H1486.97M1452,1358.79V1371.01M1233.16,1364.9H1257.24M1245.2,1358.79V1371.01M1403.81,1436.3H1447.79M1425.8,1433.25V1439.35M1345.06,1436.3H1376.54M1360.8,1433.25V1439.35M1417.03,1436.3H1486.97M1452,1433.25V1439.35M1233.16,1436.3H1257.24M1245.2,1433.25V1439.35M1403.81,1295.3H1447.79M1425.8,1285.94V1304.66M1358.4,1295.3H1398.6M1378.5,1285.94V1304.66M1373.97,1295.3H1416.23M1395.1,1285.94V1304.66M1317.92,1295.3H1347.48M1332.7,1285.94V1304.66M1403.81,1266.8H1447.79M1425.8,1253.94V1279.66M1358.4,1266.8H1398.6M1378.5,1253.94V1279.66M1373.97,1266.8H1416.23M1395.1,1253.94V1279.66M1317.92,1266.8H1347.48M1332.7,1253.94V1279.66M1403.81,1330.8H1447.79M1425.8,1321.98V1339.62M1358.4,1330.8H1398.6M1378.5,1321.98V1339.62M1373.97,1330.8H1416.23M1395.1,1321.98V1339.62M1317.92,1330.8H1347.48M1332.7,1321.98V1339.62M1252.11,1284.2H1276.69M1264.4,1272.71V1295.69M1389.18,1284.2H1425.42M1407.3,1272.71V1295.69M1413.45,1284.2H1461.75M1437.6,1272.71V1295.69M1317.92,1284.2H1347.48M1332.7,1272.71V1295.69M1252.11,1299H1276.69M1264.4,1287.76V1310.24M1389.18,1299H1425.42M1407.3,1287.76V1310.24M1413.45,1299H1461.75M1437.6,1287.76V1310.24M1317.92,1299H1347.48M1332.7,1287.76V1310.24M1252.11,1273.8H1276.69M1264.4,1262.79V1284.81M1389.18,1273.8H1425.42M1407.3,1262.79V1284.81M1413.45,1273.8H1461.75M1437.6,1262.79V1284.81M1317.92,1273.8H1347.48M1332.7,1262.79V1284.81M1327.91,1373H1362.69M1345.3,1367.15V1378.85M1389.18,1373H1425.42M1407.3,1367.15V1378.85M1403.58,1373H1445.82M1424.7,1367.15V1378.85M1250.81,1373H1274.99M1262.9,1367.15V1378.85M1327.91,1268.3H1362.69M1345.3,1255.13V1281.47M1389.18,1268.3H1425.42M1407.3,1255.13V1281.47M1403.58,1268.3H1445.82M1424.7,1255.13V1281.47M1250.81,1268.3H1274.99M1262.9,1255.13V1281.47M1327.91,1350.8H1362.69M1345.3,1343V1358.6M1389.18,1350.8H1425.42M1407.3,1343V1358.6M1403.58,1350.8H1445.82M1424.7,1343V1358.6M1250.81,1350.8H1274.99M1262.9,1343V1358.6M1328.09,1269.8H1363.11M1345.6,1257.74V1281.86M1216.39,1269.8H1733.41M1474.9,1257.74V1281.86M1406.5,1269.8H1447.3M1426.9,1257.74V1281.86M1250.81,1269.8H1274.99M1262.9,1257.74V1281.86M1328.09,1265.3H1363.11M1345.6,1254.12V1276.48M1216.39,1265.3H1733.41M1474.9,1254.12V1276.48M1406.5,1265.3H1447.3M1426.9,1254.12V1276.48M1250.81,1265.3H1274.99M1262.9,1254.12V1276.48M1328.09,1162.1H1363.11M1345.6,1143.67V1180.53M1216.39,1162.1H1733.41M1474.9,1143.67V1180.53M1406.5,1162.1H1447.3M1426.9,1143.67V1180.53M1250.81,1162.1H1274.99M1262.9,1143.67V1180.53M1328.09,1243.9H1363.11M1345.6,1230.24V1257.56M1388.88,1243.9H1427.92M1408.4,1230.24V1257.56M1309.31,1243.9H1338.49M1323.9,1230.24V1257.56M1261.19,1243.9H1288.21M1274.7,1230.24V1257.56M1328.09,1195.8H1363.11M1345.6,1180.64V1210.96M1388.88,1195.8H1427.92M1408.4,1180.64V1210.96M1309.31,1195.8H1338.49M1323.9,1180.64V1210.96M1261.19,1195.8H1288.21M1274.7,1180.64V1210.96M1328.09,1277.9H1363.11M1345.6,1266.7V1289.1M1388.88,1277.9H1427.92M1408.4,1266.7V1289.1M1309.31,1277.9H1338.49M1323.9,1266.7V1289.1M1261.19,1277.9H1288.21M1274.7,1266.7V1289.1M1328.09,1219.8H1363.11M1345.6,1205.25V1234.35M1339.04,1219.8H1376.56M1357.8,1205.25V1234.35M1324.09,1219.8H1358.31M1341.2,1205.25V1234.35M1310.99,1219.8H1339.01M1325,1205.25V1234.35M1328.09,1316H1363.11M1345.6,1307.34V1324.66M1339.04,1316H1376.56M1357.8,1307.34V1324.66M1324.09,1316H1358.31M1341.2,1307.34V1324.66M1310.99,1316H1339.01M1325,1307.34V1324.66M1328.09,1320.8H1363.11M1345.6,1311.39V1330.21M1339.04,1320.8H1376.56M1357.8,1311.39V1330.21M1324.09,1320.8H1358.31M1341.2,1311.39V1330.21M1310.99,1320.8H1339.01M1325,1311.39V1330.21M1275.79,1370.4H1305.41M1290.6,1363.44V1377.36M1339.04,1370.4H1376.56M1357.8,1363.44V1377.36M1421.92,1370.4H1473.88M1447.9,1363.44V1377.36M1255.23,1370.4H1278.77M1267,1363.44V1377.36M1275.79,1315.3H1305.41M1290.6,1305.23V1325.37M1339.04,1315.3H1376.56M1357.8,1305.23V1325.37M1421.92,1315.3H1473.88M1447.9,1305.23V1325.37M1255.23,1315.3H1278.77M1267,1305.23V1325.37M1275.79,1348.4H1305.41M1290.6,1341.54V1355.26M1339.04,1348.4H1376.56M1357.8,1341.54V1355.26M1421.92,1348.4H1473.88M1447.9,1341.54V1355.26M1255.23,1348.4H1278.77M1267,1341.54V1355.26M1273.92,1310.5H1304.28M1289.1,1301.78V1319.22M1292.95,1310.5H1320.05M1306.5,1301.78V1319.22M1232.81,1310.5H1256.79M1244.8,1301.78V1319.22M1255.23,1310.5H1278.77M1267,1301.78V1319.22M1273.92,1272.7H1304.28M1289.1,1261.84V1283.56M1292.95,1272.7H1320.05M1306.5,1261.84V1283.56M1232.81,1272.7H1256.79M1244.8,1261.84V1283.56M1255.23,1272.7H1278.77M1267,1261.84V1283.56M1273.92,1284.9H1304.28M1289.1,1275.02V1294.78M1292.95,1284.9H1320.05M1306.5,1275.02V1294.78M1232.81,1284.9H1256.79M1244.8,1275.02V1294.78M1255.23,1284.9H1278.77M1267,1275.02V1294.78M1136.66,1382.3H1148.34M1142.5,1376.75V1387.85M1454.59,1382.3H1495.21M1474.9,1376.75V1387.85M1179.28,1382.3H1194.32M1186.8,1376.75V1387.85M1255.23,1382.3H1278.77M1267,1376.75V1387.85M1136.66,1287.9H1148.34M1142.5,1276.19V1299.61M1454.59,1287.9H1495.21M1474.9,1276.19V1299.61M1179.28,1287.9H1194.32M1186.8,1276.19V1299.61M1255.23,1287.9H1278.77M1267,1276.19V1299.61M1136.66,1361.9H1148.34M1142.5,1355.43V1368.37M1454.59,1361.9H1495.21M1474.9,1355.43V1368.37M1179.28,1361.9H1194.32M1186.8,1355.43V1368.37M1255.23,1361.9H1278.77M1267,1355.43V1368.37M1306.82,1418.1H1335.78M1321.3,1414.58V1421.62M1454.59,1418.1H1495.21M1474.9,1414.58V1421.62M1179.28,1418.1H1194.32M1186.8,1414.58V1421.62M1244.15,1418.1H1269.05M1256.6,1414.58V1421.62M1306.82,1203.2H1335.78M1321.3,1189.13V1217.27M1454.59,1203.2H1495.21M1474.9,1189.13V1217.27M1179.28,1203.2H1194.32M1186.8,1189.13V1217.27M1244.15,1203.2H1269.05M1256.6,1189.13V1217.27M1306.82,1325.6H1335.78M1321.3,1316.33V1334.87M1454.59,1325.6H1495.21M1474.9,1316.33V1334.87M1179.28,1325.6H1194.32M1186.8,1316.33V1334.87M1244.15,1325.6H1269.05M1256.6,1316.33V1334.87M1411.9,1328.6H1455.1M1433.5,1319.11V1338.09M1454.59,1328.6H1495.21M1474.9,1319.11V1338.09M1179.28,1328.6H1194.32M1186.8,1319.11V1338.09M1382.52,1328.6H1426.88M1404.7,1319.11V1338.09M1411.9,1221.7H1455.1M1433.5,1206.45V1236.95M1454.59,1221.7H1495.21M1474.9,1206.45V1236.95M1179.28,1221.7H1194.32M1186.8,1206.45V1236.95M1382.52,1221.7H1426.88M1404.7,1206.45V1236.95M1411.9,1348.2H1455.1M1433.5,1339.52V1356.88M1454.59,1348.2H1495.21M1474.9,1339.52V1356.88M1179.28,1348.2H1194.32M1186.8,1339.52V1356.88M1382.52,1348.2H1426.88M1404.7,1339.52V1356.88M1391.47,1243.9H1429.13M1410.3,1229.74V1258.06M1454.59,1243.9H1495.21M1474.9,1229.74V1258.06M1179.28,1243.9H1194.32M1186.8,1229.74V1258.06M1362.19,1243.9H1404.41M1383.3,1229.74V1258.06M1391.47,1202.5H1429.13M1410.3,1187.13V1217.87M1454.59,1202.5H1495.21M1474.9,1187.13V1217.87M1179.28,1202.5H1194.32M1186.8,1187.13V1217.87M1362.19,1202.5H1404.41M1383.3,1187.13V1217.87M1391.47,1339.7H1429.13M1410.3,1330.72V1348.68M1454.59,1339.7H1495.21M1474.9,1330.72V1348.68M1179.28,1339.7H1194.32M1186.8,1330.72V1348.68M1362.19,1339.7H1404.41M1383.3,1330.72V1348.68M1422.19,1256.8H1494.41M1458.3,1245.67V1267.93M1396.93,1256.8H1490.87M1443.9,1245.67V1267.93M1179.28,1256.8H1194.32M1186.8,1245.67V1267.93M1111.04,1256.8H1119.36M1115.2,1245.67V1267.93M1422.19,1287.9H1494.41M1458.3,1277.73V1298.07M1396.93,1287.9H1490.87M1443.9,1277.73V1298.07M1111.04,1287.9H1119.36M1115.2,1277.73V1298.07M1422.19,1445.2H1494.41M1458.3,1442.74V1447.66M1396.93,1445.2H1490.87M1443.9,1442.74V1447.66M1179.28,1445.2H1194.32M1186.8,1442.74V1447.66M1111.04,1445.2H1119.36M1115.2,1442.74V1447.66M1108.12,1275.7H1116.28M1112.2,1262.48V1288.92M1450.53,1275.7H1499.27M1474.9,1262.48V1288.92M1104.76,1275.7H1112.44M1108.6,1262.48V1288.92M1111.04,1275.7H1119.36M1115.2,1262.48V1288.92M1108.12,1250.2H1116.28M1112.2,1237.93V1262.47M1450.53,1250.2H1499.27M1474.9,1237.93V1262.47M1104.76,1250.2H1112.44M1108.6,1237.93V1262.47M1111.04,1250.2H1119.36M1115.2,1237.93V1262.47M1108.12,1460.3H1116.28M1112.2,1458.76V1461.84M1450.53,1460.3H1499.27M1474.9,1458.76V1461.84M1104.76,1460.3H1112.44M1108.6,1458.76V1461.84M1111.04,1460.3H1119.36M1115.2,1458.76V1461.84M1252.43,1392.6H1275.57M1264,1386.76V1398.44M1376.94,1392.6H1416.26M1396.6,1386.76V1398.44M1104.76,1392.6H1112.44M1108.6,1386.76V1398.44M1252.43,1262.4H1275.57M1264,1248.38V1276.42M1376.94,1262.4H1416.26M1396.6,1248.38V1276.42M1104.76,1262.4H1112.44M1108.6,1248.38V1276.42M1252.43,1384.3H1275.57M1264,1378.26V1390.34M1376.94,1384.3H1416.26M1396.6,1378.26V1390.34M1104.76,1384.3H1112.44M1108.6,1378.26V1390.34M1197.93,1286.8H1751.88M1474.9,1275.26V1298.34M1428.8,1286.8H1478.2M1453.5,1275.26V1298.34M1104.76,1286.8H1112.44M1108.6,1275.26V1298.34M1218.28,1286.8H1240.32M1229.3,1275.26V1298.34M1197.93,1305.3H1751.88M1474.9,1294.42V1316.18M1428.8,1305.3H1478.2M1453.5,1294.42V1316.18M1104.76,1305.3H1112.44M1108.6,1294.42V1316.18M1218.28,1305.3H1240.32M1229.3,1294.42V1316.18M1197.93,1399.3H1751.88M1474.9,1394.31V1404.29M1428.8,1399.3H1478.2M1453.5,1394.31V1404.29M1104.76,1399.3H1112.44M1108.6,1394.31V1404.29M1218.28,1399.3H1240.32M1229.3,1394.31V1404.29M1310.22,1219.1H1343.38M1326.8,1203.82V1234.38M1428.8,1219.1H1478.2M1453.5,1203.82V1234.38M1441.66,1219.1H1508.14M1474.9,1203.82V1234.38M1251.97,1219.1H1276.83M1264.4,1203.82V1234.38M1310.22,1464.4H1343.38M1326.8,1463.06V1465.74M1428.8,1464.4H1478.2M1453.5,1463.06V1465.74M1441.66,1464.4H1508.14M1474.9,1463.06V1465.74M1251.97,1464.4H1276.83M1264.4,1463.06V1465.74M1310.22,1398.5H1343.38M1326.8,1393.63V1403.37M1428.8,1398.5H1478.2M1453.5,1393.63V1403.37M1441.66,1398.5H1508.14M1474.9,1393.63V1403.37M1251.97,1398.5H1276.83M1264.4,1393.63V1403.37M1277.43,1313.4H1305.37M1291.4,1304.66V1322.14M1361.81,1313.4H1396.79M1379.3,1304.66V1322.14M1441.66,1313.4H1508.14M1474.9,1304.66V1322.14M1251.97,1313.4H1276.83M1264.4,1304.66V1322.14M1277.43,1310.5H1305.37M1291.4,1301.23V1319.77M1361.81,1310.5H1396.79M1379.3,1301.23V1319.77M1441.66,1310.5H1508.14M1474.9,1301.23V1319.77M1251.97,1310.5H1276.83M1264.4,1301.23V1319.77M1277.43,1223.9H1305.37M1291.4,1208.9V1238.9M1361.81,1223.9H1396.79M1379.3,1208.9V1238.9M1441.66,1223.9H1508.14M1474.9,1208.9V1238.9M1251.97,1223.9H1276.83M1264.4,1208.9V1238.9M1315.05,1302H1348.15M1331.6,1293.08V1310.92M1353.45,1302H1390.35M1371.9,1293.08V1310.92M1369.04,1302H1405.76M1387.4,1293.08V1310.92M1251.97,1302H1276.83M1264.4,1293.08V1310.92M1315.05,1307.5H1348.15M1331.6,1296.54V1318.46M1353.45,1307.5H1390.35M1371.9,1296.54V1318.46M1369.04,1307.5H1405.76M1387.4,1296.54V1318.46M1251.97,1307.5H1276.83M1264.4,1296.54V1318.46M1315.05,1194.3H1348.15M1331.6,1179.12V1209.48M1353.45,1194.3H1390.35M1371.9,1179.12V1209.48M1369.04,1194.3H1405.76M1387.4,1179.12V1209.48M1251.97,1194.3H1276.83M1264.4,1179.12V1209.48M1185.64,1348.6H1203.56M1194.6,1340.86V1356.34M1417.91,1348.6H1505.29M1461.6,1340.86V1356.34M1261.07,1348.6H1286.13M1273.6,1340.86V1356.34M1251.97,1348.6H1276.83M1264.4,1340.86V1356.34M1185.64,1259.4H1203.56M1194.6,1247.81V1270.99M1417.91,1259.4H1505.29M1461.6,1247.81V1270.99M1261.07,1259.4H1286.13M1273.6,1247.81V1270.99M1251.97,1259.4H1276.83M1264.4,1247.81V1270.99M1185.64,1292.7H1203.56M1194.6,1280.74V1304.66M1417.91,1292.7H1505.29M1461.6,1280.74V1304.66M1261.07,1292.7H1286.13M1273.6,1280.74V1304.66M1251.97,1292.7H1276.83M1264.4,1280.74V1304.66M1410.85,1362.3H1501.95M1456.4,1356.14V1368.46M1299.97,1362.3H1331.43M1315.7,1356.14V1368.46M1261.07,1362.3H1286.13M1273.6,1356.14V1368.46M1262.6,1362.3H1289.8M1276.2,1356.14V1368.46M1410.85,1415.6H1501.95M1456.4,1411.69V1419.51M1299.97,1415.6H1331.43M1315.7,1411.69V1419.51M1261.07,1415.6H1286.13M1273.6,1411.69V1419.51M1262.6,1415.6H1289.8M1276.2,1411.69V1419.51M1410.85,1430H1501.95M1456.4,1426.58V1433.42M1299.97,1430H1331.43M1315.7,1426.58V1433.42M1261.07,1430H1286.13M1273.6,1426.58V1433.42M1262.6,1430H1289.8M1276.2,1426.58V1433.42M1275.87,1210.6H1306.13M1291,1196.64V1224.56M1328.33,1210.6H1362.27M1345.3,1196.64V1224.56M1361.71,1210.6H1400.49M1381.1,1196.64V1224.56M1262.6,1210.6H1289.8M1276.2,1196.64V1224.56M1275.87,1340.8H1306.13M1291,1331.95V1349.65M1328.33,1340.8H1362.27M1345.3,1331.95V1349.65M1361.71,1340.8H1400.49M1381.1,1331.95V1349.65M1262.6,1340.8H1289.8M1276.2,1331.95V1349.65M1275.87,1445.2H1306.13M1291,1442.94V1447.46M1328.33,1445.2H1362.27M1345.3,1442.94V1447.46M1361.71,1445.2H1400.49M1381.1,1442.94V1447.46M1262.6,1445.2H1289.8M1276.2,1442.94V1447.46M1291.7,1398.2H1318.3M1305,1393.54V1402.86M1328.33,1398.2H1362.27M1345.3,1393.54V1402.86M1401.95,1398.2H1489.45M1445.7,1393.54V1402.86M1155.59,1398.2H1168.61M1162.1,1393.54V1402.86M1291.7,1327.9H1318.3M1305,1320.2V1335.6M1328.33,1327.9H1362.27M1345.3,1320.2V1335.6M1401.95,1327.9H1489.45M1445.7,1320.2V1335.6M1155.59,1327.9H1168.61M1162.1,1320.2V1335.6M1291.7,1407H1318.3M1305,1402.95V1411.05M1328.33,1407H1362.27M1345.3,1402.95V1411.05M1401.95,1407H1489.45M1445.7,1402.95V1411.05M1155.59,1407H1168.61M1162.1,1402.95V1411.05M1205.17,1255.4H1226.23M1215.7,1242.72V1268.08M1197.62,1255.4H1217.38M1207.5,1242.72V1268.08M1240.31,1255.4H1261.89M1251.1,1242.72V1268.08M1155.59,1255.4H1168.61M1162.1,1242.72V1268.08M1205.17,1351.9H1226.23M1215.7,1344.13V1359.67M1197.62,1351.9H1217.38M1207.5,1344.13V1359.67M1240.31,1351.9H1261.89M1251.1,1344.13V1359.67M1155.59,1351.9H1168.61M1162.1,1344.13V1359.67M1205.17,1218.3H1226.23M1215.7,1204.4V1232.2M1197.62,1218.3H1217.38M1207.5,1204.4V1232.2M1240.31,1218.3H1261.89M1251.1,1204.4V1232.2M1155.59,1218.3H1168.61M1162.1,1204.4V1232.2M1191.9,1323.1H1210.5M1201.2,1314.16V1332.04M1269.28,1323.1H1296.52M1282.9,1314.16V1332.04M1240.31,1323.1H1261.89M1251.1,1314.16V1332.04M1155.59,1323.1H1168.61M1162.1,1314.16V1332.04M1191.9,1349.3H1210.5M1201.2,1342.44V1356.16M1269.28,1349.3H1296.52M1282.9,1342.44V1356.16M1240.31,1349.3H1261.89M1251.1,1342.44V1356.16M1155.59,1349.3H1168.61M1162.1,1342.44V1356.16M1191.9,1254.1H1210.5M1201.2,1242.77V1265.43M1269.28,1254.1H1296.52M1282.9,1242.77V1265.43M1240.31,1254.1H1261.89M1251.1,1242.77V1265.43M1155.59,1254.1H1168.61M1162.1,1242.77V1265.43M1303.54,1454H1331.66M1317.6,1452.04V1455.96M1269.28,1454H1296.52M1282.9,1452.04V1455.96M1402.36,1454H1444.84M1423.6,1452.04V1455.96M1157.41,1454H1170.39M1163.9,1452.04V1455.96M1303.54,1439.6H1331.66M1317.6,1437.08V1442.12M1269.28,1439.6H1296.52M1282.9,1437.08V1442.12M1402.36,1439.6H1444.84M1423.6,1437.08V1442.12M1157.41,1439.6H1170.39M1163.9,1437.08V1442.12M1303.54,1444H1331.66M1317.6,1441.47V1446.53M1269.28,1444H1296.52M1282.9,1441.47V1446.53M1402.36,1444H1444.84M1423.6,1441.47V1446.53M1157.41,1444H1170.39M1163.9,1441.47V1446.53M1206.04,1268.1H1225.36M1215.7,1255.53V1280.67M1198.52,1268.1H1216.48M1207.5,1255.53V1280.67M1301.31,1268.1H1330.09M1315.7,1255.53V1280.67M1157.41,1268.1H1170.39M1163.9,1255.53V1280.67M1206.04,1354.9H1225.36M1215.7,1346.65V1363.15M1198.52,1354.9H1216.48M1207.5,1346.65V1363.15M1301.31,1354.9H1330.09M1315.7,1346.65V1363.15M1157.41,1354.9H1170.39M1163.9,1346.65V1363.15M1206.04,1184.7H1225.36M1215.7,1168.62V1200.78M1198.52,1184.7H1216.48M1207.5,1168.62V1200.78M1301.31,1184.7H1330.09M1315.7,1168.62V1200.78M1157.41,1184.7H1170.39M1163.9,1168.62V1200.78M1271.79,1364.5H1678.02M1474.9,1357.69V1371.31M1296.04,1364.5H1325.16M1310.6,1357.69V1371.31M1277.65,1364.5H1303.55M1290.6,1357.69V1371.31M1157.41,1364.5H1170.39M1163.9,1357.69V1371.31M1271.79,1331.2H1678.02M1474.9,1323.21V1339.19M1296.04,1331.2H1325.16M1310.6,1323.21V1339.19M1277.65,1331.2H1303.55M1290.6,1323.21V1339.19M1157.41,1331.2H1170.39M1163.9,1323.21V1339.19M1271.79,1245.2H1678.02M1474.9,1233.19V1257.21M1296.04,1245.2H1325.16M1310.6,1233.19V1257.21M1277.65,1245.2H1303.55M1290.6,1233.19V1257.21M1157.41,1245.2H1170.39M1163.9,1233.19V1257.21M1376.07,1377.8H1414.13M1395.1,1371.48V1384.12M1296.04,1377.8H1325.16M1310.6,1371.48V1384.12M1327.18,1377.8H1622.62M1474.9,1371.48V1384.12M1259,1377.8H1282.4M1270.7,1371.48V1384.12M1376.07,1338.6H1414.13M1395.1,1330.66V1346.54M1296.04,1338.6H1325.16M1310.6,1330.66V1346.54M1327.18,1338.6H1622.62M1474.9,1330.66V1346.54M1259,1338.6H1282.4M1270.7,1330.66V1346.54M1376.07,1393H1414.13M1395.1,1388.34V1397.66M1296.04,1393H1325.16M1310.6,1388.34V1397.66M1327.18,1393H1622.62M1474.9,1388.34V1397.66M1259,1393H1282.4M1270.7,1388.34V1397.66M1317.3,1257.7H1350.3M1333.8,1245.79V1269.61M1264.97,1257.7H1293.43M1279.2,1245.79V1269.61M1332.04,1257.7H1365.16M1348.6,1245.79V1269.61M1259,1257.7H1282.4M1270.7,1245.79V1269.61M1317.3,1328.6H1350.3M1333.8,1320.37V1336.83M1264.97,1328.6H1293.43M1279.2,1320.37V1336.83M1332.04,1328.6H1365.16M1348.6,1320.37V1336.83M1259,1328.6H1282.4M1270.7,1320.37V1336.83M1317.3,1204.3H1350.3M1333.8,1186.98V1221.62M1264.97,1204.3H1293.43M1279.2,1186.98V1221.62M1332.04,1204.3H1365.16M1348.6,1186.98V1221.62M1259,1204.3H1282.4M1270.7,1186.98V1221.62M1351.9,1299.4H1391.9M1371.9,1287.63V1311.17M1373.29,1299.4H1416.31M1394.8,1287.63V1311.17M1338.51,1299.4H1372.69M1355.6,1287.63V1311.17M1259,1299.4H1282.4M1270.7,1287.63V1311.17M1351.9,1302.1H1391.9M1371.9,1292.33V1311.87M1373.29,1302.1H1416.31M1394.8,1292.33V1311.87M1338.51,1302.1H1372.69M1355.6,1292.33V1311.87M1259,1302.1H1282.4M1270.7,1292.33V1311.87M1351.9,1262.6H1391.9M1371.9,1249.66V1275.54M1373.29,1262.6H1416.31M1394.8,1249.66V1275.54M1338.51,1262.6H1372.69M1355.6,1249.66V1275.54M1259,1262.6H1282.4M1270.7,1249.66V1275.54M1261.63,1301.3H1289.37M1275.5,1290.44V1312.16M1368.52,1301.3H1404.08M1386.3,1290.44V1312.16M1349.56,1301.3H1386.04M1367.8,1290.44V1312.16M1259,1301.3H1282.4M1270.7,1290.44V1312.16M1261.63,1267H1289.37M1275.5,1256.25V1277.75M1368.52,1267H1404.08M1386.3,1256.25V1277.75M1349.56,1267H1386.04M1367.8,1256.25V1277.75M1259,1267H1282.4M1270.7,1256.25V1277.75M1261.63,1244.6H1289.37M1275.5,1230.49V1258.71M1368.52,1244.6H1404.08M1386.3,1230.49V1258.71M1349.56,1244.6H1386.04M1367.8,1230.49V1258.71M1259,1244.6H1282.4M1270.7,1230.49V1258.71M1109.88,1421.1H1118.32M1114.1,1417.55V1424.65M1392.03,1421.1H1493.57M1442.8,1417.55V1424.65M1368.75,1421.1H1403.85M1386.3,1417.55V1424.65M1259,1421.1H1282.4M1270.7,1417.55V1424.65M1109.88,1262.1H1118.32M1114.1,1249.38V1274.82M1392.03,1262.1H1493.57M1442.8,1249.38V1274.82M1368.75,1262.1H1403.85M1386.3,1249.38V1274.82M1259,1262.1H1282.4M1270.7,1249.38V1274.82M1109.88,1252.5H1118.32M1114.1,1240.81V1264.19M1392.03,1252.5H1493.57M1442.8,1240.81V1264.19M1368.75,1252.5H1403.85M1386.3,1240.81V1264.19M1259,1252.5H1282.4M1270.7,1240.81V1264.19M1363.46,1378.9H1400.94M1382.2,1373.28V1384.52M1251.53,1378.9H1276.47M1264,1373.28V1384.52M1368.75,1378.9H1403.85M1386.3,1373.28V1384.52M1244.42,1378.9H1265.98M1255.2,1373.28V1384.52M1363.46,1418.1H1400.94M1382.2,1414.45V1421.75M1251.53,1418.1H1276.47M1264,1414.45V1421.75M1368.75,1418.1H1403.85M1386.3,1414.45V1421.75M1244.42,1418.1H1265.98M1255.2,1414.45V1421.75M1363.46,1433.3H1400.94M1382.2,1430.22V1436.38M1251.53,1433.3H1276.47M1264,1430.22V1436.38M1368.75,1433.3H1403.85M1386.3,1430.22V1436.38M1244.42,1433.3H1265.98M1255.2,1430.22V1436.38M1239.42,1390H1263.58M1251.5,1384.87V1395.13M1251.53,1390H1276.47M1264,1384.87V1395.13M1317.62,1390H1347.78M1332.7,1384.87V1395.13M1197.83,1390H1216.57M1207.2,1384.87V1395.13M1239.42,1344.5H1263.58M1251.5,1337.54V1351.46M1251.53,1344.5H1276.47M1264,1337.54V1351.46M1317.62,1344.5H1347.78M1332.7,1337.54V1351.46M1197.83,1344.5H1216.57M1207.2,1337.54V1351.46M1239.42,1396.3H1263.58M1251.5,1391.26V1401.34M1251.53,1396.3H1276.47M1264,1391.26V1401.34M1317.62,1396.3H1347.78M1332.7,1391.26V1401.34M1197.83,1396.3H1216.57M1207.2,1391.26V1401.34M1290.65,1362.6H1317.95M1304.3,1356.44V1368.76M1251.53,1362.6H1276.47M1264,1356.44V1368.76M1364.11,1362.6H1585.69M1474.9,1356.44V1368.76M1197.83,1362.6H1216.57M1207.2,1356.44V1368.76M1290.65,1246.8H1317.95M1304.3,1235.28V1258.32M1251.53,1246.8H1276.47M1264,1235.28V1258.32M1364.11,1246.8H1585.69M1474.9,1235.28V1258.32M1197.83,1246.8H1216.57M1207.2,1235.28V1258.32M1290.65,1407.8H1317.95M1304.3,1403.64V1411.96M1251.53,1407.8H1276.47M1264,1403.64V1411.96M1364.11,1407.8H1585.69M1474.9,1403.64V1411.96M1197.83,1407.8H1216.57M1207.2,1403.64V1411.96M1290.65,1353.8H1317.95M1304.3,1346.21V1361.39M1258.01,1353.8H1283.99M1271,1346.21V1361.39M1347.1,1353.8H1383.3M1365.2,1346.21V1361.39M1260.62,1353.8H1286.58M1273.6,1346.21V1361.39M1258.01,1246.8H1283.99M1271,1232.02V1261.58M1347.1,1246.8H1383.3M1365.2,1232.02V1261.58M1260.62,1246.8H1286.58M1273.6,1232.02V1261.58M1258.01,1362.6H1283.99M1271,1355.35V1369.85M1347.1,1362.6H1383.3M1365.2,1355.35V1369.85M1260.62,1362.6H1286.58M1273.6,1355.35V1369.85M1290.65,1444H1317.95M1304.3,1441.62V1446.38M1362.19,1444H1397.01M1379.6,1441.62V1446.38M1381.51,1444H1425.09M1403.3,1441.62V1446.38M1242.07,1444H1266.13M1254.1,1441.62V1446.38M1290.65,1228.3H1317.95M1304.3,1213.21V1243.39M1362.19,1228.3H1397.01M1379.6,1213.21V1243.39M1381.51,1228.3H1425.09M1403.3,1213.21V1243.39M1242.07,1228.3H1266.13M1254.1,1213.21V1243.39M1290.65,1364.5H1317.95M1304.3,1357.7V1371.3M1362.19,1364.5H1397.01M1379.6,1357.7V1371.3M1381.51,1364.5H1425.09M1403.3,1357.7V1371.3M1242.07,1364.5H1266.13M1254.1,1357.7V1371.3M1299.68,1306.8H1331.72M1315.7,1296.11V1317.49M1375.03,1306.8H1414.57M1394.8,1296.11V1317.49M1283.75,1306.8H1313.05M1298.4,1296.11V1317.49M1242.07,1306.8H1266.13M1254.1,1296.11V1317.49M1299.68,1326H1331.72M1315.7,1317.19V1334.81M1375.03,1326H1414.57M1394.8,1317.19V1334.81M1283.75,1326H1313.05M1298.4,1317.19V1334.81M1242.07,1326H1266.13M1254.1,1317.19V1334.81M1299.68,1226.9H1331.72M1315.7,1210.68V1243.12M1375.03,1226.9H1414.57M1394.8,1210.68V1243.12M1283.75,1226.9H1313.05M1298.4,1210.68V1243.12M1242.07,1226.9H1266.13M1254.1,1210.68V1243.12M1248.69,1328.6H1274.91M1261.8,1320.05V1337.15M1187.43,1328.6H1204.77M1196.1,1320.05V1337.15M1236.48,1328.6H1261.32M1248.9,1320.05V1337.15M1242.07,1328.6H1266.13M1254.1,1320.05V1337.15M1248.69,1400.4H1274.91M1261.8,1395.05V1405.75M1187.43,1400.4H1204.77M1196.1,1395.05V1405.75M1236.48,1400.4H1261.32M1248.9,1395.05V1405.75M1242.07,1400.4H1266.13M1254.1,1395.05V1405.75M1248.69,1397.4H1274.91M1261.8,1392.96V1401.84M1187.43,1397.4H1204.77M1196.1,1392.96V1401.84M1236.48,1397.4H1261.32M1248.9,1392.96V1401.84M1242.07,1397.4H1266.13M1254.1,1392.96V1401.84M1199,1431.1H1218.2M1208.6,1427.74V1434.46M1187.43,1431.1H1204.77M1196.1,1427.74V1434.46M1267.39,1431.1H1292.41M1279.9,1427.74V1434.46M1151.06,1431.1H1163.54M1157.3,1427.74V1434.46M1199,1395.2H1218.2M1208.6,1389.92V1400.48M1187.43,1395.2H1204.77M1196.1,1389.92V1400.48M1267.39,1395.2H1292.41M1279.9,1389.92V1400.48M1151.06,1395.2H1163.54M1157.3,1389.92V1400.48M1199,1409.6H1218.2M1208.6,1405.16V1414.04M1187.43,1409.6H1204.77M1196.1,1405.16V1414.04M1267.39,1409.6H1292.41M1279.9,1405.16V1414.04M1151.06,1409.6H1163.54M1157.3,1405.16V1414.04M1330.67,1292.7H1366.53M1348.6,1282.27V1303.13M1187.43,1292.7H1204.77M1196.1,1282.27V1303.13M1343.47,1292.7H1381.13M1362.3,1282.27V1303.13M1241.21,1292.7H1263.19M1252.2,1282.27V1303.13M1330.67,1225H1366.53M1348.6,1210.59V1239.41M1187.43,1225H1204.77M1196.1,1210.59V1239.41M1343.47,1225H1381.13M1362.3,1210.59V1239.41M1241.21,1225H1263.19M1252.2,1210.59V1239.41M1330.67,1296.8H1366.53M1348.6,1285.08V1308.52M1187.43,1296.8H1204.77M1196.1,1285.08V1308.52M1343.47,1296.8H1381.13M1362.3,1285.08V1308.52M1241.21,1296.8H1263.19M1252.2,1285.08V1308.52M1330.67,1451.8H1366.53M1348.6,1449.8V1453.8M1318.57,1451.8H1352.03M1335.3,1449.8V1453.8M1384.81,1451.8H1428.39M1406.6,1449.8V1453.8M1330.67,1323.8H1366.53M1348.6,1314.2V1333.4M1318.57,1323.8H1352.03M1335.3,1314.2V1333.4M1384.81,1323.8H1428.39M1406.6,1314.2V1333.4M1330.67,1349H1366.53M1348.6,1341.82V1356.18M1318.57,1349H1352.03M1335.3,1341.82V1356.18M1384.81,1349H1428.39M1406.6,1341.82V1356.18M1369.16,1413H1404.84M1387,1408.44V1417.56M1318.57,1413H1352.03M1335.3,1408.44V1417.56M1395.42,1413H1441.38M1418.4,1408.44V1417.56M1253.15,1413H1280.05M1266.6,1408.44V1417.56M1369.16,1279.4H1404.84M1387,1268.48V1290.32M1318.57,1279.4H1352.03M1335.3,1268.48V1290.32M1395.42,1279.4H1441.38M1418.4,1268.48V1290.32M1253.15,1279.4H1280.05M1266.6,1268.48V1290.32M1369.16,1382.6H1404.84M1387,1377.48V1387.72M1318.57,1382.6H1352.03M1335.3,1377.48V1387.72M1395.42,1382.6H1441.38M1418.4,1377.48V1387.72M1253.15,1382.6H1280.05M1266.6,1377.48V1387.72M1276.26,1260.9H1306.54M1291.4,1247.21V1274.59M1324.29,1260.9H1353.71M1339,1247.21V1274.59M1376.36,1260.9H1413.84M1395.1,1247.21V1274.59M1253.15,1260.9H1280.05M1266.6,1247.21V1274.59M1276.26,1271.3H1306.54M1291.4,1259.12V1283.48M1324.29,1271.3H1353.71M1339,1259.12V1283.48M1376.36,1271.3H1413.84M1395.1,1259.12V1283.48M1253.15,1271.3H1280.05M1266.6,1259.12V1283.48M1276.26,1144.3H1306.54M1291.4,1122.72V1165.88M1324.29,1144.3H1353.71M1339,1122.72V1165.88M1376.36,1144.3H1413.84M1395.1,1122.72V1165.88M1253.15,1144.3H1280.05M1266.6,1122.72V1165.88M1276.26,1277.5H1306.54M1291.4,1264.76V1290.24M1394.43,1277.5H1440.97M1417.7,1264.76V1290.24M1298.63,1277.5H1327.57M1313.1,1264.76V1290.24M1288.73,1277.5H1321.27M1305,1264.76V1290.24M1276.26,1216.9H1306.54M1291.4,1203.73V1230.07M1394.43,1216.9H1440.97M1417.7,1203.73V1230.07M1298.63,1216.9H1327.57M1313.1,1203.73V1230.07M1288.73,1216.9H1321.27M1305,1203.73V1230.07M1276.26,1326.2H1306.54M1291.4,1316.87V1335.53M1394.43,1326.2H1440.97M1417.7,1316.87V1335.53M1298.63,1326.2H1327.57M1313.1,1316.87V1335.53M1288.73,1326.2H1321.27M1305,1316.87V1335.53M1276.26,1228.3H1306.54M1291.4,1215.26V1241.34M1259.58,1228.3H1285.42M1272.5,1215.26V1241.34M1297.68,1228.3H1330.92M1314.3,1215.26V1241.34M1263.33,1228.3H1292.07M1277.7,1215.26V1241.34M1276.26,1302H1306.54M1291.4,1291.63V1312.37M1259.58,1302H1285.42M1272.5,1291.63V1312.37M1297.68,1302H1330.92M1314.3,1291.63V1312.37M1263.33,1302H1292.07M1277.7,1291.63V1312.37M1276.26,1243.9H1306.54M1291.4,1231.56V1256.24M1259.58,1243.9H1285.42M1272.5,1231.56V1256.24M1297.68,1243.9H1330.92M1314.3,1231.56V1256.24M1263.33,1243.9H1292.07M1277.7,1231.56V1256.24M1281.55,1260.5H1313.05M1297.3,1249.68V1271.32M1272.49,1260.5H1299.11M1285.8,1249.68V1271.32M1277.21,1260.5H1303.19M1290.2,1249.68V1271.32M1263.33,1260.5H1292.07M1277.7,1249.68V1271.32M1281.55,1283.1H1313.05M1297.3,1272.87V1293.33M1272.49,1283.1H1299.11M1285.8,1272.87V1293.33M1277.21,1283.1H1303.19M1290.2,1272.87V1293.33M1263.33,1283.1H1292.07M1277.7,1272.87V1293.33M1281.55,1242H1313.05M1297.3,1227.57V1256.43M1272.49,1242H1299.11M1285.8,1227.57V1256.43M1277.21,1242H1303.19M1290.2,1227.57V1256.43M1263.33,1242H1292.07M1277.7,1227.57V1256.43M1180.44,1348.2H1198.36M1189.4,1341.07V1355.33M1297.34,1348.2H1329.66M1313.5,1341.07V1355.33M1252.73,1348.2H1280.47M1266.6,1341.07V1355.33M1263.33,1348.2H1292.07M1277.7,1341.07V1355.33M1180.44,1265.3H1198.36M1189.4,1251.67V1278.93M1297.34,1265.3H1329.66M1313.5,1251.67V1278.93M1252.73,1265.3H1280.47M1266.6,1251.67V1278.93M1263.33,1265.3H1292.07M1277.7,1251.67V1278.93M1180.44,1269H1198.36M1189.4,1255.63V1282.37M1297.34,1269H1329.66M1313.5,1255.63V1282.37M1252.73,1269H1280.47M1266.6,1255.63V1282.37M1263.33,1269H1292.07M1277.7,1255.63V1282.37M1313.92,1285.6H1346.28M1330.1,1274.55V1296.65M1246.62,1285.6H1271.18M1258.9,1274.55V1296.65M1252.73,1285.6H1280.47M1266.6,1274.55V1296.65M1251.32,1285.6H1273.88M1262.6,1274.55V1296.65M1313.92,1343H1346.28M1330.1,1334.36V1351.64M1246.62,1343H1271.18M1258.9,1334.36V1351.64M1252.73,1343H1280.47M1266.6,1334.36V1351.64M1251.32,1343H1273.88M1262.6,1334.36V1351.64M1313.92,1326.4H1346.28M1330.1,1318.27V1334.53M1246.62,1326.4H1271.18M1258.9,1318.27V1334.53M1252.73,1326.4H1280.47M1266.6,1318.27V1334.53M1251.32,1326.4H1273.88M1262.6,1318.27V1334.53M1252.9,1276.4H1279.5M1266.2,1263.23V1289.57M1232.05,1276.4H1254.55M1243.3,1263.23V1289.57M1251.32,1276.4H1273.88M1262.6,1263.23V1289.57M1252.9,1315.7H1279.5M1266.2,1306.99V1324.41M1232.05,1315.7H1254.55M1243.3,1306.99V1324.41M1251.32,1315.7H1273.88M1262.6,1306.99V1324.41M1252.9,1306.2H1279.5M1266.2,1295.64V1316.76M1232.05,1306.2H1254.55M1243.3,1295.64V1316.76M1251.32,1306.2H1273.88M1262.6,1295.64V1316.76M1236.99,1295.4H1259.21M1248.1,1286.01V1304.79M1250.82,1295.4H1276.58M1263.7,1286.01V1304.79M1228.68,1295.4H1249.12M1238.9,1286.01V1304.79M1251.32,1295.4H1273.88M1262.6,1286.01V1304.79M1236.99,1259.8H1259.21M1248.1,1246.41V1273.19M1250.82,1259.8H1276.58M1263.7,1246.41V1273.19M1228.68,1259.8H1249.12M1238.9,1246.41V1273.19M1251.32,1259.8H1273.88M1262.6,1246.41V1273.19M1236.99,1294.4H1259.21M1248.1,1282.55V1306.25M1250.82,1294.4H1276.58M1263.7,1282.55V1306.25M1228.68,1294.4H1249.12M1238.9,1282.55V1306.25M1251.32,1294.4H1273.88M1262.6,1282.55V1306.25M1142.82,1409.3H1155.58M1149.2,1404.83V1413.77M1250.82,1409.3H1276.58M1263.7,1404.83V1413.77M1168.17,1409.3H1182.63M1175.4,1404.83V1413.77M1251.32,1409.3H1273.88M1262.6,1404.83V1413.77M1142.82,1321.9H1155.58M1149.2,1311.69V1332.11M1250.82,1321.9H1276.58M1263.7,1311.69V1332.11M1168.17,1321.9H1182.63M1175.4,1311.69V1332.11M1251.32,1321.9H1273.88M1262.6,1311.69V1332.11M1142.82,1371.9H1155.58M1149.2,1365.73V1378.07M1250.82,1371.9H1276.58M1263.7,1365.73V1378.07M1168.17,1371.9H1182.63M1175.4,1365.73V1378.07M1251.32,1371.9H1273.88M1262.6,1365.73V1378.07M1258.65,1386H1286.35M1272.5,1379.99V1392.01M1301.29,1386H1328.71M1315,1379.99V1392.01M1168.17,1386H1182.63M1175.4,1379.99V1392.01M1208.46,1386H1226.54M1217.5,1379.99V1392.01M1258.65,1267.2H1286.35M1272.5,1256.05V1278.35M1301.29,1267.2H1328.71M1315,1256.05V1278.35M1168.17,1267.2H1182.63M1175.4,1256.05V1278.35M1208.46,1267.2H1226.54M1217.5,1256.05V1278.35M1258.65,1356.7H1286.35M1272.5,1348.72V1364.68M1301.29,1356.7H1328.71M1315,1348.72V1364.68M1168.17,1356.7H1182.63M1175.4,1348.72V1364.68M1208.46,1356.7H1226.54M1217.5,1348.72V1364.68M1439.2,1210.9H1488.4M1463.8,1196.62V1225.18M1246.96,1210.9H1271.44M1259.2,1196.62V1225.18M1168.17,1210.9H1182.63M1175.4,1196.62V1225.18M1155.91,1210.9H1170.49M1163.2,1196.62V1225.18M1439.2,1289.8H1488.4M1463.8,1277.56V1302.04M1246.96,1289.8H1271.44M1259.2,1277.56V1302.04M1168.17,1289.8H1182.63M1175.4,1277.56V1302.04M1155.91,1289.8H1170.49M1163.2,1277.56V1302.04M1439.2,1384.1H1488.4M1463.8,1378.15V1390.05M1246.96,1384.1H1271.44M1259.2,1378.15V1390.05M1168.17,1384.1H1182.63M1175.4,1378.15V1390.05M1155.91,1384.1H1170.49M1163.2,1378.15V1390.05" fill="none" stroke="#4a4a4a" stroke-width="1.4" stroke-opacity="0.88"/>
<path d="M1366.9,1438.1a3.5,3.5 0 1,0 7,0a3.5,3.5 0 1,0 -7,0M1341.4,1438.1a3.5,3.5 0 1,0 7,0a3.5,3.5 0 1,0 -7,0M1260.9,1438.1a3.5,3.5 0 1,0 7,0a3.5,3.5 0 1,0 -7,0M1420.8,1438.1a3.5,3.5 0 1,0 7,0a3.5,3.5 0 1,0 -7,0M1366.9,1456.6a3.5,3.5 0 1,0 7,0a3.5,3.5 0 1,0 -7,0M1341.4,1456.6a3.5,3.5 0 1,0 7,0a3.5,3.5 0 1,0 -7,0M1260.9,1456.6a3.5,3.5 0 1,0 7,0a3.5,3.5 0 1,0 -7,0M1420.8,1456.6a3.5,3.5 0 1,0 7,0a3.5,3.5 0 1,0 -7,0M1366.9,1464a3.5,3.5 0 1,0 7,0a3.5,3.5 0 1,0 -7,0M1341.4,1464a3.5,3.5 0 1,0 7,0a3.5,3.5 0 1,0 -7,0M1260.9,1464a3.5,3.5 0 1,0 7,0a3.5,3.5 0 1,0 -7,0M1420.8,1464a3.5,3.5 0 1,0 7,0a3.5,3.5 0 1,0 -7,0M1366.9,1285.3a3.5,3.5 0 1,0 7,0a3.5,3.5 0 1,0 -7,0M1335.5,1285.3a3.5,3.5 0 1,0 7,0a3.5,3.5 0 1,0 -7,0M1327.4,1285.3a3.5,3.5 0 1,0 7,0a3.5,3.5 0 1,0 -7,0M1380.9,1285.3a3.5,3.5 0 1,0 7,0a3.5,3.5 0 1,0 -7,0M1366.9,1296.8a3.5,3.5 0 1,0 7,0a3.5,3.5 0 1,0 -7,0M1335.5,1296.8a3.5,3.5 0 1,0 7,0a3.5,3.5 0 1,0 -7,0M1327.4,1296.8a3.5,3.5 0 1,0 7,0a3.5,3.5 0 1,0 -7,0M1380.9,1296.8a3.5,3.5 0 1,0 7,0a3.5,3.5 0 1,0 -7,0M1366.9,1195a3.5,3.5 0 1,0 7,0a3.5,3.5 0 1,0 -7,0M1335.5,1195a3.5,3.5 0 1,0 7,0a3.5,3.5 0 1,0 -7,0M1327.4,1195a3.5,3.5 0 1,0 7,0a3.5,3.5 0 1,0 -7,0M1380.9,1195a3.5,3.5 0 1,0 7,0a3.5,3.5 0 1,0 -7,0M1272.7,1364.9a3.5,3.5 0 1,0 7,0a3.5,3.5 0 1,0 -7,0M1260.5,1364.9a3.5,3.5 0 1,0 7,0a3.5,3.5 0 1,0 -7,0M1305.2,1364.9a3.5,3.5 0 1,0 7,0a3.5,3.5 0 1,0 -7,0M1380.9,1364.9a3.5,3.5 0 1,0 7,0a3.5,3.5 0 1,0 -7,0M1272.7,1342.3a3.5,3.5 0 1,0 7,0a3.5,3.5 0 1,0 -7,0M1260.5,1342.3a3.5,3.5 0 1,0 7,0a3.5,3.5 0 1,0 -7,0M1305.2,1342.3a3.5,3.5 0 1,0 7,0a3.5,3.5 0 1,0 -7,0M1380.9,1342.3a3.5,3.5 0 1,0 7,0a3.5,3.5 0 1,0 -7,0M1272.7,1340.1a3.5,3.5 0 1,0 7,0a3.5,3.5 0 1,0 -7,0M1260.5,1340.1a3.5,3.5 0 1,0 7,0a3.5,3.5 0 1,0 -7,0M1305.2,1340.1a3.5,3.5 0 1,0 7,0a3.5,3.5 0 1,0 -7,0M1380.9,1340.1a3.5,3.5 0 1,0 7,0a3.5,3.5 0 1,0 -7,0M1229.1,1440.7a3.5,3.5 0 1,0 7,0a3.5,3.5 0 1,0 -7,0M1260.5,1440.7a3.5,3.5 0 1,0 7,0a3.5,3.5 0 1,0 -7,0M1339.6,1440.7a3.5,3.5 0 1,0 7,0a3.5,3.5 0 1,0 -7,0M1154.2,1440.7a3.5,3.5 0 1,0 7,0a3.5,3.5 0 1,0 -7,0M1229.1,1381.1a3.5,3.5 0 1,0 7,0a3.5,3.5 0 1,0 -7,0M1260.5,1381.1a3.5,3.5 0 1,0 7,0a3.5,3.5 0 1,0 -7,0M1339.6,1381.1a3.5,3.5 0 1,0 7,0a3.5,3.5 0 1,0 -7,0M1154.2,1381.1a3.5,3.5 0 1,0 7,0a3.5,3.5 0 1,0 -7,0M1229.1,1424.4a3.5,3.5 0 1,0 7,0a3.5,3.5 0 1,0 -7,0M1260.5,1424.4a3.5,3.5 0 1,0 7,0a3.5,3.5 0 1,0 -7,0M1339.6,1424.4a3.5,3.5 0 1,0 7,0a3.5,3.5 0 1,0 -7,0M1154.2,1424.4a3.5,3.5 0 1,0 7,0a3.5,3.5 0 1,0 -7,0M1368.4,1313.4a3.5,3.5 0 1,0 7,0a3.5,3.5 0 1,0 -7,0M1260.5,1313.4a3.5,3.5 0 1,0 7,0a3.5,3.5 0 1,0 -7,0M1380.9,1313.4a3.5,3.5 0 1,0 7,0a3.5,3.5 0 1,0 -7,0M1124.3,1313.4a3.5,3.5 0 1,0 7,0a3.5,3.5 0 1,0 -7,0M1368.4,1304.2a3.5,3.5 0 1,0 7,0a3.5,3.5 0 1,0 -7,0M1260.5,1304.2a3.5,3.5 0 1,0 7,0a3.5,3.5 0 1,0 -7,0M1380.9,1304.2a3.5,3.5 0 1,0 7,0a3.5,3.5 0 1,0 -7,0M1124.3,1304.2a3.5,3.5 0 1,0 7,0a3.5,3.5 0 1,0 -7,0M1368.4,1436.3a3.5,3.5 0 1,0 7,0a3.5,3.5 0 1,0 -7,0M1260.5,1436.3a3.5,3.5 0 1,0 7,0a3.5,3.5 0 1,0 -7,0M1380.9,1436.3a3.5,3.5 0 1,0 7,0a3.5,3.5 0 1,0 -7,0M1124.3,1436.3a3.5,3.5 0 1,0 7,0a3.5,3.5 0 1,0 -7,0M1368.4,1308.6a3.5,3.5 0 1,0 7,0a3.5,3.5 0 1,0 -7,0M1408.2,1308.6a3.5,3.5 0 1,0 7,0a3.5,3.5 0 1,0 -7,0M1448.5,1308.6a3.5,3.5 0 1,0 7,0a3.5,3.5 0 1,0 -7,0M1208.5,1308.6a3.5,3.5 0 1,0 7,0a3.5,3.5 0 1,0 -7,0M1368.4,1260.5a3.5,3.5 0 1,0 7,0a3.5,3.5 0 1,0 -7,0M1408.2,1260.5a3.5,3.5 0 1,0 7,0a3.5,3.5 0 1,0 -7,0M1448.5,1260.5a3.5,3.5 0 1,0 7,0a3.5,3.5 0 1,0 -7,0M1208.5,1260.5a3.5,3.5 0 1,0 7,0a3.5,3.5 0 1,0 -7,0M1368.4,1307.9a3.5,3.5 0 1,0 7,0a3.5,3.5 0 1,0 -7,0M1408.2,1307.9a3.5,3.5 0 1,0 7,0a3.5,3.5 0 1,0 -7,0M1448.5,1307.9a3.5,3.5 0 1,0 7,0a3.5,3.5 0 1,0 -7,0M1208.5,1307.9a3.5,3.5 0 1,0 7,0a3.5,3.5 0 1,0 -7,0M1422.3,1403.3a3.5,3.5 0 1,0 7,0a3.5,3.5 0 1,0 -7,0M1357.3,1403.3a3.5,3.5 0 1,0 7,0a3.5,3.5 0 1,0 -7,0M1448.5,1403.3a3.5,3.5 0 1,0 7,0a3.5,3.5 0 1,0 -7,0M1241.7,1403.3a3.5,3.5 0 1,0 7,0a3.5,3.5 0 1,0 -7,0M1422.3,1364.9a3.5,3.5 0 1,0 7,0a3.5,3.5 0 1,0 -7,0M1357.3,1364.9a3.5,3.5 0 1,0 7,0a3.5,3.5 0 1,0 -7,0M1448.5,1364.9a3.5,3.5 0 1,0 7,0a3.5,3.5 0 1,0 -7,0M1241.7,1364.9a3.5,3.5 0 1,0 7,0a3.5,3.5 0 1,0 -7,0M1422.3,1436.3a3.5,3.5 0 1,0 7,0a3.5,3.5 0 1,0 -7,0M1357.3,1436.3a3.5,3.5 0 1,0 7,0a3.5,3.5 0 1,0 -7,0M1448.5,1436.3a3.5,3.5 0 1,0 7,0a3.5,3.5 0 1,0 -7,0M1241.7,1436.3a3.5,3.5 0 1,0 7,0a3.5,3.5 0 1,0 -7,0M1422.3,1295.3a3.5,3.5 0 1,0 7,0a3.5,3.5 0 1,0 -7,0M1375,1295.3a3.5,3.5 0 1,0 7,0a3.5,3.5 0 1,0 -7,0M1391.6,1295.3a3.5,3.5 0 1,0 7,0a3.5,3.5 0 1,0 -7,0M1329.2,1295.3a3.5,3.5 0 1,0 7,0a3.5,3.5 0 1,0 -7,0M1422.3,1266.8a3.5,3.5 0 1,0 7,0a3.5,3.5 0 1,0 -7,0M1375,1266.8a3.5,3.5 0 1,0 7,0a3.5,3.5 0 1,0 -7,0M1391.6,1266.8a3.5,3.5 0 1,0 7,0a3.5,3.5 0 1,0 -7,0M1329.2,1266.8a3.5,3.5 0 1,0 7,0a3.5,3.5 0 1,0 -7,0M1422.3,1330.8a3.5,3.5 0 1,0 7,0a3.5,3.5 0 1,0 -7,0M1375,1330.8a3.5,3.5 0 1,0 7,0a3.5,3.5 0 1,0 -7,0M1391.6,1330.8a3.5,3.5 0 1,0 7,0a3.5,3.5 0 1,0 -7,0M1329.2,1330.8a3.5,3.5 0 1,0 7,0a3.5,3.5 0 1,0 -7,0M1260.9,1284.2a3.5,3.5 0 1,0 7,0a3.5,3.5 0 1,0 -7,0M1403.8,1284.2a3.5,3.5 0 1,0 7,0a3.5,3.5 0 1,0 -7,0M1434.1,1284.2a3.5,3.5 0 1,0 7,0a3.5,3.5 0 1,0 -7,0M1329.2,1284.2a3.5,3.5 0 1,0 7,0a3.5,3.5 0 1,0 -7,0M1260.9,1299a3.5,3.5 0 1,0 7,0a3.5,3.5 0 1,0 -7,0M1403.8,1299a3.5,3.5 0 1,0 7,0a3.5,3.5 0 1,0 -7,0M1434.1,1299a3.5,3.5 0 1,0 7,0a3.5,3.5 0 1,0 -7,0M1329.2,1299a3.5,3.5 0 1,0 7,0a3.5,3.5 0 1,0 -7,0M1260.9,1273.8a3.5,3.5 0 1,0 7,0a3.5,3.5 0 1,0 -7,0M1403.8,1273.8a3.5,3.5 0 1,0 7,0a3.5,3.5 0 1,0 -7,0M1434.1,1273.8a3.5,3.5 0 1,0 7,0a3.5,3.5 0 1,0 -7,0M1329.2,1273.8a3.5,3.5 0 1,0 7,0a3.5,3.5 0 1,0 -7,0M1341.8,1373a3.5,3.5 0 1,0 7,0a3.5,3.5 0 1,0 -7,0M1403.8,1373a3.5,3.5 0 1,0 7,0a3.5,3.5 0 1,0 -7,0M1421.2,1373a3.5,3.5 0 1,0 7,0a3.5,3.5 0 1,0 -7,0M1259.4,1373a3.5,3.5 0 1,0 7,0a3.5,3.5 0 1,0 -7,0M1341.8,1268.3a3.5,3.5 0 1,0 7,0a3.5,3.5 0 1,0 -7,0M1403.8,1268.3a3.5,3.5 0 1,0 7,0a3.5,3.5 0 1,0 -7,0M1421.2,1268.3a3.5,3.5 0 1,0 7,0a3.5,3.5 0 1,0 -7,0M1259.4,1268.3a3.5,3.5 0 1,0 7,0a3.5,3.5 0 1,0 -7,0M1341.8,1350.8a3.5,3.5 0 1,0 7,0a3.5,3.5 0 1,0 -7,0M1403.8,1350.8a3.5,3.5 0 1,0 7,0a3.5,3.5 0 1,0 -7,0M1421.2,1350.8a3.5,3.5 0 1,0 7,0a3.5,3.5 0 1,0 -7,0M1259.4,1350.8a3.5,3.5 0 1,0 7,0a3.5,3.5 0 1,0 -7,0M1342.1,1269.8a3.5,3.5 0 1,0 7,0a3.5,3.5 0 1,0 -7,0M1471.4,1269.8a3.5,3.5 0 1,0 7,0a3.5,3.5 0 1,0 -7,0M1423.4,1269.8a3.5,3.5 0 1,0 7,0a3.5,3.5 0 1,0 -7,0M1259.4,1269.8a3.5,3.5 0 1,0 7,0a3.5,3.5 0 1,0 -7,0M1342.1,1265.3a3.5,3.5 0 1,0 7,0a3.5,3.5 0 1,0 -7,0M1471.4,1265.3a3.5,3.5 0 1,0 7,0a3.5,3.5 0 1,0 -7,0M1423.4,1265.3a3.5,3.5 0 1,0 7,0a3.5,3.5 0 1,0 -7,0M1259.4,1265.3a3.5,3.5 0 1,0 7,0a3.5,3.5 0 1,0 -7,0M1342.1,1162.1a3.5,3.5 0 1,0 7,0a3.5,3.5 0 1,0 -7,0M1471.4,1162.1a3.5,3.5 0 1,0 7,0a3.5,3.5 0 1,0 -7,0M1423.4,1162.1a3.5,3.5 0 1,0 7,0a3.5,3.5 0 1,0 -7,0M1259.4,1162.1a3.5,3.5 0 1,0 7,0a3.5,3.5 0 1,0 -7,0M1342.1,1243.9a3.5,3.5 0 1,0 7,0a3.5,3.5 0 1,0 -7,0M1404.9,1243.9a3.5,3.5 0 1,0 7,0a3.5,3.5 0 1,0 -7,0M1320.4,1243.9a3.5,3.5 0 1,0 7,0a3.5,3.5 0 1,0 -7,0M1271.2,1243.9a3.5,3.5 0 1,0 7,0a3.5,3.5 0 1,0 -7,0M1342.1,1195.8a3.5,3.5 0 1,0 7,0a3.5,3.5 0 1,0 -7,0M1404.9,1195.8a3.5,3.5 0 1,0 7,0a3.5,3.5 0 1,0 -7,0M1320.4,1195.8a3.5,3.5 0 1,0 7,0a3.5,3.5 0 1,0 -7,0M1271.2,1195.8a3.5,3.5 0 1,0 7,0a3.5,3.5 0 1,0 -7,0M1342.1,1277.9a3.5,3.5 0 1,0 7,0a3.5,3.5 0 1,0 -7,0M1404.9,1277.9a3.5,3.5 0 1,0 7,0a3.5,3.5 0 1,0 -7,0M1320.4,1277.9a3.5,3.5 0 1,0 7,0a3.5,3.5 0 1,0 -7,0M1271.2,1277.9a3.5,3.5 0 1,0 7,0a3.5,3.5 0 1,0 -7,0M1342.1,1219.8a3.5,3.5 0 1,0 7,0a3.5,3.5 0 1,0 -7,0M1354.3,1219.8a3.5,3.5 0 1,0 7,0a3.5,3.5 0 1,0 -7,0M1337.7,1219.8a3.5,3.5 0 1,0 7,0a3.5,3.5 0 1,0 -7,0M1321.5,1219.8a3.5,3.5 0 1,0 7,0a3.5,3.5 0 1,0 -7,0M1342.1,1316a3.5,3.5 0 1,0 7,0a3.5,3.5 0 1,0 -7,0M1354.3,1316a3.5,3.5 0 1,0 7,0a3.5,3.5 0 1,0 -7,0M1337.7,1316a3.5,3.5 0 1,0 7,0a3.5,3.5 0 1,0 -7,0M1321.5,1316a3.5,3.5 0 1,0 7,0a3.5,3.5 0 1,0 -7,0M1342.1,1320.8a3.5,3.5 0 1,0 7,0a3.5,3.5 0 1,0 -7,0M1354.3,1320.8a3.5,3.5 0 1,0 7,0a3.5,3.5 0 1,0 -7,0M1337.7,1320.8a3.5,3.5 0 1,0 7,0a3.5,3.5 0 1,0 -7,0M1321.5,1320.8a3.5,3.5 0 1,0 7,0a3.5,3.5 0 1,0 -7,0M1287.1,1370.4a3.5,3.5 0 1,0 7,0a3.5,3.5 0 1,0 -7,0M1354.3,1370.4a3.5,3.5 0 1,0 7,0a3.5,3.5 0 1,0 -7,0M1444.4,1370.4a3.5,3.5 0 1,0 7,0a3.5,3.5 0 1,0 -7,0M1263.5,1370.4a3.5,3.5 0 1,0 7,0a3.5,3.5 0 1,0 -7,0M1287.1,1315.3a3.5,3.5 0 1,0 7,0a3.5,3.5 0 1,0 -7,0M1354.3,1315.3a3.5,3.5 0 1,0 7,0a3.5,3.5 0 1,0 -7,0M1444.4,1315.3a3.5,3.5 0 1,0 7,0a3.5,3.5 0 1,0 -7,0M1263.5,1315.3a3.5,3.5 0 1,0 7,0a3.5,3.5 0 1,0 -7,0M1287.1,1348.4a3.5,3.5 0 1,0 7,0a3.5,3.5 0 1,0 -7,0M1354.3,1348.4a3.5,3.5 0 1,0 7,0a3.5,3.5 0 1,0 -7,0M1444.4,1348.4a3.5,3.5 0 1,0 7,0a3.5,3.5 0 1,0 -7,0M1263.5,1348.4a3.5,3.5 0 1,0 7,0a3.5,3.5 0 1,0 -7,0M1285.6,1310.5a3.5,3.5 0 1,0 7,0a3.5,3.5 0 1,0 -7,0M1303,1310.5a3.5,3.5 0 1,0 7,0a3.5,3.5 0 1,0 -7,0M1241.3,1310.5a3.5,3.5 0 1,0 7,0a3.5,3.5 0 1,0 -7,0M1263.5,1310.5a3.5,3.5 0 1,0 7,0a3.5,3.5 0 1,0 -7,0M1285.6,1272.7a3.5,3.5 0 1,0 7,0a3.5,3.5 0 1,0 -7,0M1303,1272.7a3.5,3.5 0 1,0 7,0a3.5,3.5 0 1,0 -7,0M1241.3,1272.7a3.5,3.5 0 1,0 7,0a3.5,3.5 0 1,0 -7,0M1263.5,1272.7a3.5,3.5 0 1,0 7,0a3.5,3.5 0 1,0 -7,0M1285.6,1284.9a3.5,3.5 0 1,0 7,0a3.5,3.5 0 1,0 -7,0M1303,1284.9a3.5,3.5 0 1,0 7,0a3.5,3.5 0 1,0 -7,0M1241.3,1284.9a3.5,3.5 0 1,0 7,0a3.5,3.5 0 1,0 -7,0M1263.5,1284.9a3.5,3.5 0 1,0 7,0a3.5,3.5 0 1,0 -7,0M1139,1382.3a3.5,3.5 0 1,0 7,0a3.5,3.5 0 1,0 -7,0M1471.4,1382.3a3.5,3.5 0 1,0 7,0a3.5,3.5 0 1,0 -7,0M1183.3,1382.3a3.5,3.5 0 1,0 7,0a3.5,3.5 0 1,0 -7,0M1263.5,1382.3a3.5,3.5 0 1,0 7,0a3.5,3.5 0 1,0 -7,0M1139,1287.9a3.5,3.5 0 1,0 7,0a3.5,3.5 0 1,0 -7,0M1471.4,1287.9a3.5,3.5 0 1,0 7,0a3.5,3.5 0 1,0 -7,0M1183.3,1287.9a3.5,3.5 0 1,0 7,0a3.5,3.5 0 1,0 -7,0M1263.5,1287.9a3.5,3.5 0 1,0 7,0a3.5,3.5 0 1,0 -7,0M1139,1361.9a3.5,3.5 0 1,0 7,0a3.5,3.5 0 1,0 -7,0M1471.4,1361.9a3.5,3.5 0 1,0 7,0a3.5,3.5 0 1,0 -7,0M1183.3,1361.9a3.5,3.5 0 1,0 7,0a3.5,3.5 0 1,0 -7,0M1263.5,1361.9a3.5,3.5 0 1,0 7,0a3.5,3.5 0 1,0 -7,0M1317.8,1418.1a3.5,3.5 0 1,0 7,0a3.5,3.5 0 1,0 -7,0M1471.4,1418.1a3.5,3.5 0 1,0 7,0a3.5,3.5 0 1,0 -7,0M1183.3,1418.1a3.5,3.5 0 1,0 7,0a3.5,3.5 0 1,0 -7,0M1253.1,1418.1a3.5,3.5 0 1,0 7,0a3.5,3.5 0 1,0 -7,0M1317.8,1203.2a3.5,3.5 0 1,0 7,0a3.5,3.5 0 1,0 -7,0M1471.4,1203.2a3.5,3.5 0 1,0 7,0a3.5,3.5 0 1,0 -7,0M1183.3,1203.2a3.5,3.5 0 1,0 7,0a3.5,3.5 0 1,0 -7,0M1253.1,1203.2a3.5,3.5 0 1,0 7,0a3.5,3.5 0 1,0 -7,0M1317.8,1325.6a3.5,3.5 0 1,0 7,0a3.5,3.5 0 1,0 -7,0M1471.4,1325.6a3.5,3.5 0 1,0 7,0a3.5,3.5 0 1,0 -7,0M1183.3,1325.6a3.5,3.5 0 1,0 7,0a3.5,3.5 0 1,0 -7,0M1253.1,1325.6a3.5,3.5 0 1,0 7,0a3.5,3.5 0 1,0 -7,0M1430,1328.6a3.5,3.5 0 1,0 7,0a3.5,3.5 0 1,0 -7,0M1471.4,1328.6a3.5,3.5 0 1,0 7,0a3.5,3.5 0 1,0 -7,0M1183.3,1328.6a3.5,3.5 0 1,0 7,0a3.5,3.5 0 1,0 -7,0M1401.2,1328.6a3.5,3.5 0 1,0 7,0a3.5,3.5 0 1,0 -7,0M1430,1221.7a3.5,3.5 0 1,0 7,0a3.5,3.5 0 1,0 -7,0M1471.4,1221.7a3.5,3.5 0 1,0 7,0a3.5,3.5 0 1,0 -7,0M1183.3,1221.7a3.5,3.5 0 1,0 7,0a3.5,3.5 0 1,0 -7,0M1401.2,1221.7a3.5,3.5 0 1,0 7,0a3.5,3.5 0 1,0 -7,0M1430,1348.2a3.5,3.5 0 1,0 7,0a3.5,3.5 0 1,0 -7,0M1471.4,1348.2a3.5,3.5 0 1,0 7,0a3.5,3.5 0 1,0 -7,0M1183.3,1348.2a3.5,3.5 0 1,0 7,0a3.5,3.5 0 1,0 -7,0M1401.2,1348.2a3.5,3.5 0 1,0 7,0a3.5,3.5 0 1,0 -7,0M1406.8,1243.9a3.5,3.5 0 1,0 7,0a3.5,3.5 0 1,0 -7,0M1471.4,1243.9a3.5,3.5 0 1,0 7,0a3.5,3.5 0 1,0 -7,0M1183.3,1243.9a3.5,3.5 0 1,0 7,0a3.5,3.5 0 1,0 -7,0M1379.8,1243.9a3.5,3.5 0 1,0 7,0a3.5,3.5 0 1,0 -7,0M1406.8,1202.5a3.5,3.5 0 1,0 7,0a3.5,3.5 0 1,0 -7,0M1471.4,1202.5a3.5,3.5 0 1,0 7,0a3.5,3.5 0 1,0 -7,0M1183.3,1202.5a3.5,3.5 0 1,0 7,0a3.5,3.5 0 1,0 -7,0M1379.8,1202.5a3.5,3.5 0 1,0 7,0a3.5,3.5 0 1,0 -7,0M1406.8,1339.7a3.5,3.5 0 1,0 7,0a3.5,3.5 0 1,0 -7,0M1471.4,1339.7a3.5,3.5 0 1,0 7,0a3.5,3.5 0 1,0 -7,0M1183.3,1339.7a3.5,3.5 0 1,0 7,0a3.5,3.5 0 1,0 -7,0M1379.8,1339.7a3.5,3.5 0 1,0 7,0a3.5,3.5 0 1,0 -7,0M1454.8,1256.8a3.5,3.5 0 1,0 7,0a3.5,3.5 0 1,0 -7,0M1440.4,1256.8a3.5,3.5 0 1,0 7,0a3.5,3.5 0 1,0 -7,0M1183.3,1256.8a3.5,3.5 0 1,0 7,0a3.5,3.5 0 1,0 -7,0M1111.7,1256.8a3.5,3.5 0 1,0 7,0a3.5,3.5 0 1,0 -7,0M1454.8,1287.9a3.5,3.5 0 1,0 7,0a3.5,3.5 0 1,0 -7,0M1440.4,1287.9a3.5,3.5 0 1,0 7,0a3.5,3.5 0 1,0 -7,0M1111.7,1287.9a3.5,3.5 0 1,0 7,0a3.5,3.5 0 1,0 -7,0M1454.8,1445.2a3.5,3.5 0 1,0 7,0a3.5,3.5 0 1,0 -7,0M1440.4,1445.2a3.5,3.5 0 1,0 7,0a3.5,3.5 0 1,0 -7,0M1183.3,1445.2a3.5,3.5 0 1,0 7,0a3.5,3.5 0 1,0 -7,0M1111.7,1445.2a3.5,3.5 0 1,0 7,0a3.5,3.5 0 1,0 -7,0M1108.7,1275.7a3.5,3.5 0 1,0 7,0a3.5,3.5 0 1,0 -7,0M1471.4,1275.7a3.5,3.5 0 1,0 7,0a3.5,3.5 0 1,0 -7,0M1105.1,1275.7a3.5,3.5 0 1,0 7,0a3.5,3.5 0 1,0 -7,0M1111.7,1275.7a3.5,3.5 0 1,0 7,0a3.5,3.5 0 1,0 -7,0M1108.7,1250.2a3.5,3.5 0 1,0 7,0a3.5,3.5 0 1,0 -7,0M1471.4,1250.2a3.5,3.5 0 1,0 7,0a3.5,3.5 0 1,0 -7,0M1105.1,1250.2a3.5,3.5 0 1,0 7,0a3.5,3.5 0 1,0 -7,0M1111.7,1250.2a3.5,3.5 0 1,0 7,0a3.5,3.5 0 1,0 -7,0M1108.7,1460.3a3.5,3.5 0 1,0 7,0a3.5,3.5 0 1,0 -7,0M1471.4,1460.3a3.5,3.5 0 1,0 7,0a3.5,3.5 0 1,0 -7,0M1105.1,1460.3a3.5,3.5 0 1,0 7,0a3.5,3.5 0 1,0 -7,0M1111.7,1460.3a3.5,3.5 0 1,0 7,0a3.5,3.5 0 1,0 -7,0M1260.5,1392.6a3.5,3.5 0 1,0 7,0a3.5,3.5 0 1,0 -7,0M1393.1,1392.6a3.5,3.5 0 1,0 7,0a3.5,3.5 0 1,0 -7,0M1105.1,1392.6a3.5,3.5 0 1,0 7,0a3.5,3.5 0 1,0 -7,0M1260.5,1262.4a3.5,3.5 0 1,0 7,0a3.5,3.5 0 1,0 -7,0M1393.1,1262.4a3.5,3.5 0 1,0 7,0a3.5,3.5 0 1,0 -7,0M1105.1,1262.4a3.5,3.5 0 1,0 7,0a3.5,3.5 0 1,0 -7,0M1260.5,1384.3a3.5,3.5 0 1,0 7,0a3.5,3.5 0 1,0 -7,0M1393.1,1384.3a3.5,3.5 0 1,0 7,0a3.5,3.5 0 1,0 -7,0M1105.1,1384.3a3.5,3.5 0 1,0 7,0a3.5,3.5 0 1,0 -7,0M1471.4,1286.8a3.5,3.5 0 1,0 7,0a3.5,3.5 0 1,0 -7,0M1450,1286.8a3.5,3.5 0 1,0 7,0a3.5,3.5 0 1,0 -7,0M1105.1,1286.8a3.5,3.5 0 1,0 7,0a3.5,3.5 0 1,0 -7,0M1225.8,1286.8a3.5,3.5 0 1,0 7,0a3.5,3.5 0 1,0 -7,0M1471.4,1305.3a3.5,3.5 0 1,0 7,0a3.5,3.5 0 1,0 -7,0M1450,1305.3a3.5,3.5 0 1,0 7,0a3.5,3.5 0 1,0 -7,0M1105.1,1305.3a3.5,3.5 0 1,0 7,0a3.5,3.5 0 1,0 -7,0M1225.8,1305.3a3.5,3.5 0 1,0 7,0a3.5,3.5 0 1,0 -7,0M1471.4,1399.3a3.5,3.5 0 1,0 7,0a3.5,3.5 0 1,0 -7,0M1450,1399.3a3.5,3.5 0 1,0 7,0a3.5,3.5 0 1,0 -7,0M1105.1,1399.3a3.5,3.5 0 1,0 7,0a3.5,3.5 0 1,0 -7,0M1225.8,1399.3a3.5,3.5 0 1,0 7,0a3.5,3.5 0 1,0 -7,0M1323.3,1219.1a3.5,3.5 0 1,0 7,0a3.5,3.5 0 1,0 -7,0M1450,1219.1a3.5,3.5 0 1,0 7,0a3.5,3.5 0 1,0 -7,0M1471.4,1219.1a3.5,3.5 0 1,0 7,0a3.5,3.5 0 1,0 -7,0M1260.9,1219.1a3.5,3.5 0 1,0 7,0a3.5,3.5 0 1,0 -7,0M1323.3,1464.4a3.5,3.5 0 1,0 7,0a3.5,3.5 0 1,0 -7,0M1450,1464.4a3.5,3.5 0 1,0 7,0a3.5,3.5 0 1,0 -7,0M1471.4,1464.4a3.5,3.5 0 1,0 7,0a3.5,3.5 0 1,0 -7,0M1260.9,1464.4a3.5,3.5 0 1,0 7,0a3.5,3.5 0 1,0 -7,0M1323.3,1398.5a3.5,3.5 0 1,0 7,0a3.5,3.5 0 1,0 -7,0M1450,1398.5a3.5,3.5 0 1,0 7,0a3.5,3.5 0 1,0 -7,0M1471.4,1398.5a3.5,3.5 0 1,0 7,0a3.5,3.5 0 1,0 -7,0M1260.9,1398.5a3.5,3.5 0 1,0 7,0a3.5,3.5 0 1,0 -7,0M1287.9,1313.4a3.5,3.5 0 1,0 7,0a3.5,3.5 0 1,0 -7,0M1375.8,1313.4a3.5,3.5 0 1,0 7,0a3.5,3.5 0 1,0 -7,0M1471.4,1313.4a3.5,3.5 0 1,0 7,0a3.5,3.5 0 1,0 -7,0M1260.9,1313.4a3.5,3.5 0 1,0 7,0a3.5,3.5 0 1,0 -7,0M1287.9,1310.5a3.5,3.5 0 1,0 7,0a3.5,3.5 0 1,0 -7,0M1375.8,1310.5a3.5,3.5 0 1,0 7,0a3.5,3.5 0 1,0 -7,0M1471.4,1310.5a3.5,3.5 0 1,0 7,0a3.5,3.5 0 1,0 -7,0M1260.9,1310.5a3.5,3.5 0 1,0 7,0a3.5,3.5 0 1,0 -7,0M1287.9,1223.9a3.5,3.5 0 1,0 7,0a3.5,3.5 0 1,0 -7,0M1375.8,1223.9a3.5,3.5 0 1,0 7,0a3.5,3.5 0 1,0 -7,0M1471.4,1223.9a3.5,3.5 0 1,0 7,0a3.5,3.5 0 1,0 -7,0M1260.9,1223.9a3.5,3.5 0 1,0 7,0a3.5,3.5 0 1,0 -7,0M1328.1,1302a3.5,3.5 0 1,0 7,0a3.5,3.5 0 1,0 -7,0M1368.4,1302a3.5,3.5 0 1,0 7,0a3.5,3.5 0 1,0 -7,0M1383.9,1302a3.5,3.5 0 1,0 7,0a3.5,3.5 0 1,0 -7,0M1260.9,1302a3.5,3.5 0 1,0 7,0a3.5,3.5 0 1,0 -7,0M1328.1,1307.5a3.5,3.5 0 1,0 7,0a3.5,3.5 0 1,0 -7,0M1368.4,1307.5a3.5,3.5 0 1,0 7,0a3.5,3.5 0 1,0 -7,0M1383.9,1307.5a3.5,3.5 0 1,0 7,0a3.5,3.5 0 1,0 -7,0M1260.9,1307.5a3.5,3.5 0 1,0 7,0a3.5,3.5 0 1,0 -7,0M1328.1,1194.3a3.5,3.5 0 1,0 7,0a3.5,3.5 0 1,0 -7,0M1368.4,1194.3a3.5,3.5 0 1,0 7,0a3.5,3.5 0 1,0 -7,0M1383.9,1194.3a3.5,3.5 0 1,0 7,0a3.5,3.5 0 1,0 -7,0M1260.9,1194.3a3.5,3.5 0 1,0 7,0a3.5,3.5 0 1,0 -7,0M1191.1,1348.6a3.5,3.5 0 1,0 7,0a3.5,3.5 0 1,0 -7,0M1458.1,1348.6a3.5,3.5 0 1,0 7,0a3.5,3.5 0 1,0 -7,0M1270.1,1348.6a3.5,3.5 0 1,0 7,0a3.5,3.5 0 1,0 -7,0M1260.9,1348.6a3.5,3.5 0 1,0 7,0a3.5,3.5 0 1,0 -7,0M1191.1,1259.4a3.5,3.5 0 1,0 7,0a3.5,3.5 0 1,0 -7,0M1458.1,1259.4a3.5,3.5 0 1,0 7,0a3.5,3.5 0 1,0 -7,0M1270.1,1259.4a3.5,3.5 0 1,0 7,0a3.5,3.5 0 1,0 -7,0M1260.9,1259.4a3.5,3.5 0 1,0 7,0a3.5,3.5 0 1,0 -7,0M1191.1,1292.7a3.5,3.5 0 1,0 7,0a3.5,3.5 0 1,0 -7,0M1458.1,1292.7a3.5,3.5 0 1,0 7,0a3.5,3.5 0 1,0 -7,0M1270.1,1292.7a3.5,3.5 0 1,0 7,0a3.5,3.5 0 1,0 -7,0M1260.9,1292.7a3.5,3.5 0 1,0 7,0a3.5,3.5 0 1,0 -7,0M1452.9,1362.3a3.5,3.5 0 1,0 7,0a3.5,3.5 0 1,0 -7,0M1312.2,1362.3a3.5,3.5 0 1,0 7,0a3.5,3.5 0 1,0 -7,0M1270.1,1362.3a3.5,3.5 0 1,0 7,0a3.5,3.5 0 1,0 -7,0M1272.7,1362.3a3.5,3.5 0 1,0 7,0a3.5,3.5 0 1,0 -7,0M1452.9,1415.6a3.5,3.5 0 1,0 7,0a3.5,3.5 0 1,0 -7,0M1312.2,1415.6a3.5,3.5 0 1,0 7,0a3.5,3.5 0 1,0 -7,0M1270.1,1415.6a3.5,3.5 0 1,0 7,0a3.5,3.5 0 1,0 -7,0M1272.7,1415.6a3.5,3.5 0 1,0 7,0a3.5,3.5 0 1,0 -7,0M1452.9,1430a3.5,3.5 0 1,0 7,0a3.5,3.5 0 1,0 -7,0M1312.2,1430a3.5,3.5 0 1,0 7,0a3.5,3.5 0 1,0 -7,0M1270.1,1430a3.5,3.5 0 1,0 7,0a3.5,3.5 0 1,0 -7,0M1272.7,1430a3.5,3.5 0 1,0 7,0a3.5,3.5 0 1,0 -7,0M1287.5,1210.6a3.5,3.5 0 1,0 7,0a3.5,3.5 0 1,0 -7,0M1341.8,1210.6a3.5,3.5 0 1,0 7,0a3.5,3.5 0 1,0 -7,0M1377.6,1210.6a3.5,3.5 0 1,0 7,0a3.5,3.5 0 1,0 -7,0M1272.7,1210.6a3.5,3.5 0 1,0 7,0a3.5,3.5 0 1,0 -7,0M1287.5,1340.8a3.5,3.5 0 1,0 7,0a3.5,3.5 0 1,0 -7,0M1341.8,1340.8a3.5,3.5 0 1,0 7,0a3.5,3.5 0 1,0 -7,0M1377.6,1340.8a3.5,3.5 0 1,0 7,0a3.5,3.5 0 1,0 -7,0M1272.7,1340.8a3.5,3.5 0 1,0 7,0a3.5,3.5 0 1,0 -7,0M1287.5,1445.2a3.5,3.5 0 1,0 7,0a3.5,3.5 0 1,0 -7,0M1341.8,1445.2a3.5,3.5 0 1,0 7,0a3.5,3.5 0 1,0 -7,0M1377.6,1445.2a3.5,3.5 0 1,0 7,0a3.5,3.5 0 1,0 -7,0M1272.7,1445.2a3.5,3.5 0 1,0 7,0a3.5,3.5 0 1,0 -7,0M1301.5,1398.2a3.5,3.5 0 1,0 7,0a3.5,3.5 0 1,0 -7,0M1341.8,1398.2a3.5,3.5 0 1,0 7,0a3.5,3.5 0 1,0 -7,0M1442.2,1398.2a3.5,3.5 0 1,0 7,0a3.5,3.5 0 1,0 -7,0M1158.6,1398.2a3.5,3.5 0 1,0 7,0a3.5,3.5 0 1,0 -7,0M1301.5,1327.9a3.5,3.5 0 1,0 7,0a3.5,3.5 0 1,0 -7,0M1341.8,1327.9a3.5,3.5 0 1,0 7,0a3.5,3.5 0 1,0 -7,0M1442.2,1327.9a3.5,3.5 0 1,0 7,0a3.5,3.5 0 1,0 -7,0M1158.6,1327.9a3.5,3.5 0 1,0 7,0a3.5,3.5 0 1,0 -7,0M1301.5,1407a3.5,3.5 0 1,0 7,0a3.5,3.5 0 1,0 -7,0M1341.8,1407a3.5,3.5 0 1,0 7,0a3.5,3.5 0 1,0 -7,0M1442.2,1407a3.5,3.5 0 1,0 7,0a3.5,3.5 0 1,0 -7,0M1158.6,1407a3.5,3.5 0 1,0 7,0a3.5,3.5 0 1,0 -7,0M1212.2,1255.4a3.5,3.5 0 1,0 7,0a3.5,3.5 0 1,0 -7,0M1204,1255.4a3.5,3.5 0 1,0 7,0a3.5,3.5 0 1,0 -7,0M1247.6,1255.4a3.5,3.5 0 1,0 7,0a3.5,3.5 0 1,0 -7,0M1158.6,1255.4a3.5,3.5 0 1,0 7,0a3.5,3.5 0 1,0 -7,0M1212.2,1351.9a3.5,3.5 0 1,0 7,0a3.5,3.5 0 1,0 -7,0M1204,1351.9a3.5,3.5 0 1,0 7,0a3.5,3.5 0 1,0 -7,0M1247.6,1351.9a3.5,3.5 0 1,0 7,0a3.5,3.5 0 1,0 -7,0M1158.6,1351.9a3.5,3.5 0 1,0 7,0a3.5,3.5 0 1,0 -7,0M1212.2,1218.3a3.5,3.5 0 1,0 7,0a3.5,3.5 0 1,0 -7,0M1204,1218.3a3.5,3.5 0 1,0 7,0a3.5,3.5 0 1,0 -7,0M1247.6,1218.3a3.5,3.5 0 1,0 7,0a3.5,3.5 0 1,0 -7,0M1158.6,1218.3a3.5,3.5 0 1,0 7,0a3.5,3.5 0 1,0 -7,0M1197.7,1323.1a3.5,3.5 0 1,0 7,0a3.5,3.5 0 1,0 -7,0M1279.4,1323.1a3.5,3.5 0 1,0 7,0a3.5,3.5 0 1,0 -7,0M1247.6,1323.1a3.5,3.5 0 1,0 7,0a3.5,3.5 0 1,0 -7,0M1158.6,1323.1a3.5,3.5 0 1,0 7,0a3.5,3.5 0 1,0 -7,0M1197.7,1349.3a3.5,3.5 0 1,0 7,0a3.5,3.5 0 1,0 -7,0M1279.4,1349.3a3.5,3.5 0 1,0 7,0a3.5,3.5 0 1,0 -7,0M1247.6,1349.3a3.5,3.5 0 1,0 7,0a3.5,3.5 0 1,0 -7,0M1158.6,1349.3a3.5,3.5 0 1,0 7,0a3.5,3.5 0 1,0 -7,0M1197.7,1254.1a3.5,3.5 0 1,0 7,0a3.5,3.5 0 1,0 -7,0M1279.4,1254.1a3.5,3.5 0 1,0 7,0a3.5,3.5 0 1,0 -7,0M1247.6,1254.1a3.5,3.5 0 1,0 7,0a3.5,3.5 0 1,0 -7,0M1158.6,1254.1a3.5,3.5 0 1,0 7,0a3.5,3.5 0 1,0 -7,0M1314.1,1454a3.5,3.5 0 1,0 7,0a3.5,3.5 0 1,0 -7,0M1279.4,1454a3.5,3.5 0 1,0 7,0a3.5,3.5 0 1,0 -7,0M1420.1,1454a3.5,3.5 0 1,0 7,0a3.5,3.5 0 1,0 -7,0M1160.4,1454a3.5,3.5 0 1,0 7,0a3.5,3.5 0 1,0 -7,0M1314.1,1439.6a3.5,3.5 0 1,0 7,0a3.5,3.5 0 1,0 -7,0M1279.4,1439.6a3.5,3.5 0 1,0 7,0a3.5,3.5 0 1,0 -7,0M1420.1,1439.6a3.5,3.5 0 1,0 7,0a3.5,3.5 0 1,0 -7,0M1160.4,1439.6a3.5,3.5 0 1,0 7,0a3.5,3.5 0 1,0 -7,0M1314.1,1444a3.5,3.5 0 1,0 7,0a3.5,3.5 0 1,0 -7,0M1279.4,1444a3.5,3.5 0 1,0 7,0a3.5,3.5 0 1,0 -7,0M1420.1,1444a3.5,3.5 0 1,0 7,0a3.5,3.5 0 1,0 -7,0M1160.4,1444a3.5,3.5 0 1,0 7,0a3.5,3.5 0 1,0 -7,0M1212.2,1268.1a3.5,3.5 0 1,0 7,0a3.5,3.5 0 1,0 -7,0M1204,1268.1a3.5,3.5 0 1,0 7,0a3.5,3.5 0 1,0 -7,0M1312.2,1268.1a3.5,3.5 0 1,0 7,0a3.5,3.5 0 1,0 -7,0M1160.4,1268.1a3.5,3.5 0 1,0 7,0a3.5,3.5 0 1,0 -7,0M1212.2,1354.9a3.5,3.5 0 1,0 7,0a3.5,3.5 0 1,0 -7,0M1204,1354.9a3.5,3.5 0 1,0 7,0a3.5,3.5 0 1,0 -7,0M1312.2,1354.9a3.5,3.5 0 1,0 7,0a3.5,3.5 0 1,0 -7,0M1160.4,1354.9a3.5,3.5 0 1,0 7,0a3.5,3.5 0 1,0 -7,0M1212.2,1184.7a3.5,3.5 0 1,0 7,0a3.5,3.5 0 1,0 -7,0M1204,1184.7a3.5,3.5 0 1,0 7,0a3.5,3.5 0 1,0 -7,0M1312.2,1184.7a3.5,3.5 0 1,0 7,0a3.5,3.5 0 1,0 -7,0M1160.4,1184.7a3.5,3.5 0 1,0 7,0a3.5,3.5 0 1,0 -7,0M1471.4,1364.5a3.5,3.5 0 1,0 7,0a3.5,3.5 0 1,0 -7,0M1307.1,1364.5a3.5,3.5 0 1,0 7,0a3.5,3.5 0 1,0 -7,0M1287.1,1364.5a3.5,3.5 0 1,0 7,0a3.5,3.5 0 1,0 -7,0M1160.4,1364.5a3.5,3.5 0 1,0 7,0a3.5,3.5 0 1,0 -7,0M1471.4,1331.2a3.5,3.5 0 1,0 7,0a3.5,3.5 0 1,0 -7,0M1307.1,1331.2a3.5,3.5 0 1,0 7,0a3.5,3.5 0 1,0 -7,0M1287.1,1331.2a3.5,3.5 0 1,0 7,0a3.5,3.5 0 1,0 -7,0M1160.4,1331.2a3.5,3.5 0 1,0 7,0a3.5,3.5 0 1,0 -7,0M1471.4,1245.2a3.5,3.5 0 1,0 7,0a3.5,3.5 0 1,0 -7,0M1307.1,1245.2a3.5,3.5 0 1,0 7,0a3.5,3.5 0 1,0 -7,0M1287.1,1245.2a3.5,3.5 0 1,0 7,0a3.5,3.5 0 1,0 -7,0M1160.4,1245.2a3.5,3.5 0 1,0 7,0a3.5,3.5 0 1,0 -7,0M1391.6,1377.8a3.5,3.5 0 1,0 7,0a3.5,3.5 0 1,0 -7,0M1307.1,1377.8a3.5,3.5 0 1,0 7,0a3.5,3.5 0 1,0 -7,0M1471.4,1377.8a3.5,3.5 0 1,0 7,0a3.5,3.5 0 1,0 -7,0M1267.2,1377.8a3.5,3.5 0 1,0 7,0a3.5,3.5 0 1,0 -7,0M1391.6,1338.6a3.5,3.5 0 1,0 7,0a3.5,3.5 0 1,0 -7,0M1307.1,1338.6a3.5,3.5 0 1,0 7,0a3.5,3.5 0 1,0 -7,0M1471.4,1338.6a3.5,3.5 0 1,0 7,0a3.5,3.5 0 1,0 -7,0M1267.2,1338.6a3.5,3.5 0 1,0 7,0a3.5,3.5 0 1,0 -7,0M1391.6,1393a3.5,3.5 0 1,0 7,0a3.5,3.5 0 1,0 -7,0M1307.1,1393a3.5,3.5 0 1,0 7,0a3.5,3.5 0 1,0 -7,0M1471.4,1393a3.5,3.5 0 1,0 7,0a3.5,3.5 0 1,0 -7,0M1267.2,1393a3.5,3.5 0 1,0 7,0a3.5,3.5 0 1,0 -7,0M1330.3,1257.7a3.5,3.5 0 1,0 7,0a3.5,3.5 0 1,0 -7,0M1275.7,1257.7a3.5,3.5 0 1,0 7,0a3.5,3.5 0 1,0 -7,0M1345.1,1257.7a3.5,3.5 0 1,0 7,0a3.5,3.5 0 1,0 -7,0M1267.2,1257.7a3.5,3.5 0 1,0 7,0a3.5,3.5 0 1,0 -7,0M1330.3,1328.6a3.5,3.5 0 1,0 7,0a3.5,3.5 0 1,0 -7,0M1275.7,1328.6a3.5,3.5 0 1,0 7,0a3.5,3.5 0 1,0 -7,0M1345.1,1328.6a3.5,3.5 0 1,0 7,0a3.5,3.5 0 1,0 -7,0M1267.2,1328.6a3.5,3.5 0 1,0 7,0a3.5,3.5 0 1,0 -7,0M1330.3,1204.3a3.5,3.5 0 1,0 7,0a3.5,3.5 0 1,0 -7,0M1275.7,1204.3a3.5,3.5 0 1,0 7,0a3.5,3.5 0 1,0 -7,0M1345.1,1204.3a3.5,3.5 0 1,0 7,0a3.5,3.5 0 1,0 -7,0M1267.2,1204.3a3.5,3.5 0 1,0 7,0a3.5,3.5 0 1,0 -7,0M1368.4,1299.4a3.5,3.5 0 1,0 7,0a3.5,3.5 0 1,0 -7,0M1391.3,1299.4a3.5,3.5 0 1,0 7,0a3.5,3.5 0 1,0 -7,0M1352.1,1299.4a3.5,3.5 0 1,0 7,0a3.5,3.5 0 1,0 -7,0M1267.2,1299.4a3.5,3.5 0 1,0 7,0a3.5,3.5 0 1,0 -7,0M1368.4,1302.1a3.5,3.5 0 1,0 7,0a3.5,3.5 0 1,0 -7,0M1391.3,1302.1a3.5,3.5 0 1,0 7,0a3.5,3.5 0 1,0 -7,0M1352.1,1302.1a3.5,3.5 0 1,0 7,0a3.5,3.5 0 1,0 -7,0M1267.2,1302.1a3.5,3.5 0 1,0 7,0a3.5,3.5 0 1,0 -7,0M1368.4,1262.6a3.5,3.5 0 1,0 7,0a3.5,3.5 0 1,0 -7,0M1391.3,1262.6a3.5,3.5 0 1,0 7,0a3.5,3.5 0 1,0 -7,0M1352.1,1262.6a3.5,3.5 0 1,0 7,0a3.5,3.5 0 1,0 -7,0M1267.2,1262.6a3.5,3.5 0 1,0 7,0a3.5,3.5 0 1,0 -7,0M1272,1301.3a3.5,3.5 0 1,0 7,0a3.5,3.5 0 1,0 -7,0M1382.8,1301.3a3.5,3.5 0 1,0 7,0a3.5,3.5 0 1,0 -7,0M1364.3,1301.3a3.5,3.5 0 1,0 7,0a3.5,3.5 0 1,0 -7,0M1267.2,1301.3a3.5,3.5 0 1,0 7,0a3.5,3.5 0 1,0 -7,0M1272,1267a3.5,3.5 0 1,0 7,0a3.5,3.5 0 1,0 -7,0M1382.8,1267a3.5,3.5 0 1,0 7,0a3.5,3.5 0 1,0 -7,0M1364.3,1267a3.5,3.5 0 1,0 7,0a3.5,3.5 0 1,0 -7,0M1267.2,1267a3.5,3.5 0 1,0 7,0a3.5,3.5 0 1,0 -7,0M1272,1244.6a3.5,3.5 0 1,0 7,0a3.5,3.5 0 1,0 -7,0M1382.8,1244.6a3.5,3.5 0 1,0 7,0a3.5,3.5 0 1,0 -7,0M1364.3,1244.6a3.5,3.5 0 1,0 7,0a3.5,3.5 0 1,0 -7,0M1267.2,1244.6a3.5,3.5 0 1,0 7,0a3.5,3.5 0 1,0 -7,0M1110.6,1421.1a3.5,3.5 0 1,0 7,0a3.5,3.5 0 1,0 -7,0M1439.3,1421.1a3.5,3.5 0 1,0 7,0a3.5,3.5 0 1,0 -7,0M1382.8,1421.1a3.5,3.5 0 1,0 7,0a3.5,3.5 0 1,0 -7,0M1267.2,1421.1a3.5,3.5 0 1,0 7,0a3.5,3.5 0 1,0 -7,0M1110.6,1262.1a3.5,3.5 0 1,0 7,0a3.5,3.5 0 1,0 -7,0M1439.3,1262.1a3.5,3.5 0 1,0 7,0a3.5,3.5 0 1,0 -7,0M1382.8,1262.1a3.5,3.5 0 1,0 7,0a3.5,3.5 0 1,0 -7,0M1267.2,1262.1a3.5,3.5 0 1,0 7,0a3.5,3.5 0 1,0 -7,0M1110.6,1252.5a3.5,3.5 0 1,0 7,0a3.5,3.5 0 1,0 -7,0M1439.3,1252.5a3.5,3.5 0 1,0 7,0a3.5,3.5 0 1,0 -7,0M1382.8,1252.5a3.5,3.5 0 1,0 7,0a3.5,3.5 0 1,0 -7,0M1267.2,1252.5a3.5,3.5 0 1,0 7,0a3.5,3.5 0 1,0 -7,0M1378.7,1378.9a3.5,3.5 0 1,0 7,0a3.5,3.5 0 1,0 -7,0M1260.5,1378.9a3.5,3.5 0 1,0 7,0a3.5,3.5 0 1,0 -7,0M1382.8,1378.9a3.5,3.5 0 1,0 7,0a3.5,3.5 0 1,0 -7,0M1251.7,1378.9a3.5,3.5 0 1,0 7,0a3.5,3.5 0 1,0 -7,0M1378.7,1418.1a3.5,3.5 0 1,0 7,0a3.5,3.5 0 1,0 -7,0M1260.5,1418.1a3.5,3.5 0 1,0 7,0a3.5,3.5 0 1,0 -7,0M1382.8,1418.1a3.5,3.5 0 1,0 7,0a3.5,3.5 0 1,0 -7,0M1251.7,1418.1a3.5,3.5 0 1,0 7,0a3.5,3.5 0 1,0 -7,0M1378.7,1433.3a3.5,3.5 0 1,0 7,0a3.5,3.5 0 1,0 -7,0M1260.5,1433.3a3.5,3.5 0 1,0 7,0a3.5,3.5 0 1,0 -7,0M1382.8,1433.3a3.5,3.5 0 1,0 7,0a3.5,3.5 0 1,0 -7,0M1251.7,1433.3a3.5,3.5 0 1,0 7,0a3.5,3.5 0 1,0 -7,0M1248,1390a3.5,3.5 0 1,0 7,0a3.5,3.5 0 1,0 -7,0M1260.5,1390a3.5,3.5 0 1,0 7,0a3.5,3.5 0 1,0 -7,0M1329.2,1390a3.5,3.5 0 1,0 7,0a3.5,3.5 0 1,0 -7,0M1203.7,1390a3.5,3.5 0 1,0 7,0a3.5,3.5 0 1,0 -7,0M1248,1344.5a3.5,3.5 0 1,0 7,0a3.5,3.5 0 1,0 -7,0M1260.5,1344.5a3.5,3.5 0 1,0 7,0a3.5,3.5 0 1,0 -7,0M1329.2,1344.5a3.5,3.5 0 1,0 7,0a3.5,3.5 0 1,0 -7,0M1203.7,1344.5a3.5,3.5 0 1,0 7,0a3.5,3.5 0 1,0 -7,0M1248,1396.3a3.5,3.5 0 1,0 7,0a3.5,3.5 0 1,0 -7,0M1260.5,1396.3a3.5,3.5 0 1,0 7,0a3.5,3.5 0 1,0 -7,0M1329.2,1396.3a3.5,3.5 0 1,0 7,0a3.5,3.5 0 1,0 -7,0M1203.7,1396.3a3.5,3.5 0 1,0 7,0a3.5,3.5 0 1,0 -7,0M1300.8,1362.6a3.5,3.5 0 1,0 7,0a3.5,3.5 0 1,0 -7,0M1260.5,1362.6a3.5,3.5 0 1,0 7,0a3.5,3.5 0 1,0 -7,0M1471.4,1362.6a3.5,3.5 0 1,0 7,0a3.5,3.5 0 1,0 -7,0M1203.7,1362.6a3.5,3.5 0 1,0 7,0a3.5,3.5 0 1,0 -7,0M1300.8,1246.8a3.5,3.5 0 1,0 7,0a3.5,3.5 0 1,0 -7,0M1260.5,1246.8a3.5,3.5 0 1,0 7,0a3.5,3.5 0 1,0 -7,0M1471.4,1246.8a3.5,3.5 0 1,0 7,0a3.5,3.5 0 1,0 -7,0M1203.7,1246.8a3.5,3.5 0 1,0 7,0a3.5,3.5 0 1,0 -7,0M1300.8,1407.8a3.5,3.5 0 1,0 7,0a3.5,3.5 0 1,0 -7,0M1260.5,1407.8a3.5,3.5 0 1,0 7,0a3.5,3.5 0 1,0 -7,0M1471.4,1407.8a3.5,3.5 0 1,0 7,0a3.5,3.5 0 1,0 -7,0M1203.7,1407.8a3.5,3.5 0 1,0 7,0a3.5,3.5 0 1,0 -7,0M1300.8,1353.8a3.5,3.5 0 1,0 7,0a3.5,3.5 0 1,0 -7,0M1267.5,1353.8a3.5,3.5 0 1,0 7,0a3.5,3.5 0 1,0 -7,0M1361.7,1353.8a3.5,3.5 0 1,0 7,0a3.5,3.5 0 1,0 -7,0M1270.1,1353.8a3.5,3.5 0 1,0 7,0a3.5,3.5 0 1,0 -7,0M1267.5,1246.8a3.5,3.5 0 1,0 7,0a3.5,3.5 0 1,0 -7,0M1361.7,1246.8a3.5,3.5 0 1,0 7,0a3.5,3.5 0 1,0 -7,0M1270.1,1246.8a3.5,3.5 0 1,0 7,0a3.5,3.5 0 1,0 -7,0M1267.5,1362.6a3.5,3.5 0 1,0 7,0a3.5,3.5 0 1,0 -7,0M1361.7,1362.6a3.5,3.5 0 1,0 7,0a3.5,3.5 0 1,0 -7,0M1270.1,1362.6a3.5,3.5 0 1,0 7,0a3.5,3.5 0 1,0 -7,0M1300.8,1444a3.5,3.5 0 1,0 7,0a3.5,3.5 0 1,0 -7,0M1376.1,1444a3.5,3.5 0 1,0 7,0a3.5,3.5 0 1,0 -7,0M1399.8,1444a3.5,3.5 0 1,0 7,0a3.5,3.5 0 1,0 -7,0M1250.6,1444a3.5,3.5 0 1,0 7,0a3.5,3.5 0 1,0 -7,0M1300.8,1228.3a3.5,3.5 0 1,0 7,0a3.5,3.5 0 1,0 -7,0M1376.1,1228.3a3.5,3.5 0 1,0 7,0a3.5,3.5 0 1,0 -7,0M1399.8,1228.3a3.5,3.5 0 1,0 7,0a3.5,3.5 0 1,0 -7,0M1250.6,1228.3a3.5,3.5 0 1,0 7,0a3.5,3.5 0 1,0 -7,0M1300.8,1364.5a3.5,3.5 0 1,0 7,0a3.5,3.5 0 1,0 -7,0M1376.1,1364.5a3.5,3.5 0 1,0 7,0a3.5,3.5 0 1,0 -7,0M1399.8,1364.5a3.5,3.5 0 1,0 7,0a3.5,3.5 0 1,0 -7,0M1250.6,1364.5a3.5,3.5 0 1,0 7,0a3.5,3.5 0 1,0 -7,0M1312.2,1306.8a3.5,3.5 0 1,0 7,0a3.5,3.5 0 1,0 -7,0M1391.3,1306.8a3.5,3.5 0 1,0 7,0a3.5,3.5 0 1,0 -7,0M1294.9,1306.8a3.5,3.5 0 1,0 7,0a3.5,3.5 0 1,0 -7,0M1250.6,1306.8a3.5,3.5 0 1,0 7,0a3.5,3.5 0 1,0 -7,0M1312.2,1326a3.5,3.5 0 1,0 7,0a3.5,3.5 0 1,0 -7,0M1391.3,1326a3.5,3.5 0 1,0 7,0a3.5,3.5 0 1,0 -7,0M1294.9,1326a3.5,3.5 0 1,0 7,0a3.5,3.5 0 1,0 -7,0M1250.6,1326a3.5,3.5 0 1,0 7,0a3.5,3.5 0 1,0 -7,0M1312.2,1226.9a3.5,3.5 0 1,0 7,0a3.5,3.5 0 1,0 -7,0M1391.3,1226.9a3.5,3.5 0 1,0 7,0a3.5,3.5 0 1,0 -7,0M1294.9,1226.9a3.5,3.5 0 1,0 7,0a3.5,3.5 0 1,0 -7,0M1250.6,1226.9a3.5,3.5 0 1,0 7,0a3.5,3.5 0 1,0 -7,0M1258.3,1328.6a3.5,3.5 0 1,0 7,0a3.5,3.5 0 1,0 -7,0M1192.6,1328.6a3.5,3.5 0 1,0 7,0a3.5,3.5 0 1,0 -7,0M1245.4,1328.6a3.5,3.5 0 1,0 7,0a3.5,3.5 0 1,0 -7,0M1250.6,1328.6a3.5,3.5 0 1,0 7,0a3.5,3.5 0 1,0 -7,0M1258.3,1400.4a3.5,3.5 0 1,0 7,0a3.5,3.5 0 1,0 -7,0M1192.6,1400.4a3.5,3.5 0 1,0 7,0a3.5,3.5 0 1,0 -7,0M1245.4,1400.4a3.5,3.5 0 1,0 7,0a3.5,3.5 0 1,0 -7,0M1250.6,1400.4a3.5,3.5 0 1,0 7,0a3.5,3.5 0 1,0 -7,0M1258.3,1397.4a3.5,3.5 0 1,0 7,0a3.5,3.5 0 1,0 -7,0M1192.6,1397.4a3.5,3.5 0 1,0 7,0a3.5,3.5 0 1,0 -7,0M1245.4,1397.4a3.5,3.5 0 1,0 7,0a3.5,3.5 0 1,0 -7,0M1250.6,1397.4a3.5,3.5 0 1,0 7,0a3.5,3.5 0 1,0 -7,0M1205.1,1431.1a3.5,3.5 0 1,0 7,0a3.5,3.5 0 1,0 -7,0M1192.6,1431.1a3.5,3.5 0 1,0 7,0a3.5,3.5 0 1,0 -7,0M1276.4,1431.1a3.5,3.5 0 1,0 7,0a3.5,3.5 0 1,0 -7,0M1153.8,1431.1a3.5,3.5 0 1,0 7,0a3.5,3.5 0 1,0 -7,0M1205.1,1395.2a3.5,3.5 0 1,0 7,0a3.5,3.5 0 1,0 -7,0M1192.6,1395.2a3.5,3.5 0 1,0 7,0a3.5,3.5 0 1,0 -7,0M1276.4,1395.2a3.5,3.5 0 1,0 7,0a3.5,3.5 0 1,0 -7,0M1153.8,1395.2a3.5,3.5 0 1,0 7,0a3.5,3.5 0 1,0 -7,0M1205.1,1409.6a3.5,3.5 0 1,0 7,0a3.5,3.5 0 1,0 -7,0M1192.6,1409.6a3.5,3.5 0 1,0 7,0a3.5,3.5 0 1,0 -7,0M1276.4,1409.6a3.5,3.5 0 1,0 7,0a3.5,3.5 0 1,0 -7,0M1153.8,1409.6a3.5,3.5 0 1,0 7,0a3.5,3.5 0 1,0 -7,0M1345.1,1292.7a3.5,3.5 0 1,0 7,0a3.5,3.5 0 1,0 -7,0M1192.6,1292.7a3.5,3.5 0 1,0 7,0a3.5,3.5 0 1,0 -7,0M1358.8,1292.7a3.5,3.5 0 1,0 7,0a3.5,3.5 0 1,0 -7,0M1248.7,1292.7a3.5,3.5 0 1,0 7,0a3.5,3.5 0 1,0 -7,0M1345.1,1225a3.5,3.5 0 1,0 7,0a3.5,3.5 0 1,0 -7,0M1192.6,1225a3.5,3.5 0 1,0 7,0a3.5,3.5 0 1,0 -7,0M1358.8,1225a3.5,3.5 0 1,0 7,0a3.5,3.5 0 1,0 -7,0M1248.7,1225a3.5,3.5 0 1,0 7,0a3.5,3.5 0 1,0 -7,0M1345.1,1296.8a3.5,3.5 0 1,0 7,0a3.5,3.5 0 1,0 -7,0M1192.6,1296.8a3.5,3.5 0 1,0 7,0a3.5,3.5 0 1,0 -7,0M1358.8,1296.8a3.5,3.5 0 1,0 7,0a3.5,3.5 0 1,0 -7,0M1248.7,1296.8a3.5,3.5 0 1,0 7,0a3.5,3.5 0 1,0 -7,0M1345.1,1451.8a3.5,3.5 0 1,0 7,0a3.5,3.5 0 1,0 -7,0M1331.8,1451.8a3.5,3.5 0 1,0 7,0a3.5,3.5 0 1,0 -7,0M1403.1,1451.8a3.5,3.5 0 1,0 7,0a3.5,3.5 0 1,0 -7,0M1345.1,1323.8a3.5,3.5 0 1,0 7,0a3.5,3.5 0 1,0 -7,0M1331.8,1323.8a3.5,3.5 0 1,0 7,0a3.5,3.5 0 1,0 -7,0M1403.1,1323.8a3.5,3.5 0 1,0 7,0a3.5,3.5 0 1,0 -7,0M1345.1,1349a3.5,3.5 0 1,0 7,0a3.5,3.5 0 1,0 -7,0M1331.8,1349a3.5,3.5 0 1,0 7,0a3.5,3.5 0 1,0 -7,0M1403.1,1349a3.5,3.5 0 1,0 7,0a3.5,3.5 0 1,0 -7,0M1383.5,1413a3.5,3.5 0 1,0 7,0a3.5,3.5 0 1,0 -7,0M1331.8,1413a3.5,3.5 0 1,0 7,0a3.5,3.5 0 1,0 -7,0M1414.9,1413a3.5,3.5 0 1,0 7,0a3.5,3.5 0 1,0 -7,0M1263.1,1413a3.5,3.5 0 1,0 7,0a3.5,3.5 0 1,0 -7,0M1383.5,1279.4a3.5,3.5 0 1,0 7,0a3.5,3.5 0 1,0 -7,0M1331.8,1279.4a3.5,3.5 0 1,0 7,0a3.5,3.5 0 1,0 -7,0M1414.9,1279.4a3.5,3.5 0 1,0 7,0a3.5,3.5 0 1,0 -7,0M1263.1,1279.4a3.5,3.5 0 1,0 7,0a3.5,3.5 0 1,0 -7,0M1383.5,1382.6a3.5,3.5 0 1,0 7,0a3.5,3.5 0 1,0 -7,0M1331.8,1382.6a3.5,3.5 0 1,0 7,0a3.5,3.5 0 1,0 -7,0M1414.9,1382.6a3.5,3.5 0 1,0 7,0a3.5,3.5 0 1,0 -7,0M1263.1,1382.6a3.5,3.5 0 1,0 7,0a3.5,3.5 0 1,0 -7,0M1287.9,1260.9a3.5,3.5 0 1,0 7,0a3.5,3.5 0 1,0 -7,0M1335.5,1260.9a3.5,3.5 0 1,0 7,0a3.5,3.5 0 1,0 -7,0M1391.6,1260.9a3.5,3.5 0 1,0 7,0a3.5,3.5 0 1,0 -7,0M1263.1,1260.9a3.5,3.5 0 1,0 7,0a3.5,3.5 0 1,0 -7,0M1287.9,1271.3a3.5,3.5 0 1,0 7,0a3.5,3.5 0 1,0 -7,0M1335.5,1271.3a3.5,3.5 0 1,0 7,0a3.5,3.5 0 1,0 -7,0M1391.6,1271.3a3.5,3.5 0 1,0 7,0a3.5,3.5 0 1,0 -7,0M1263.1,1271.3a3.5,3.5 0 1,0 7,0a3.5,3.5 0 1,0 -7,0M1287.9,1144.3a3.5,3.5 0 1,0 7,0a3.5,3.5 0 1,0 -7,0M1335.5,1144.3a3.5,3.5 0 1,0 7,0a3.5,3.5 0 1,0 -7,0M1391.6,1144.3a3.5,3.5 0 1,0 7,0a3.5,3.5 0 1,0 -7,0M1263.1,1144.3a3.5,3.5 0 1,0 7,0a3.5,3.5 0 1,0 -7,0M1287.9,1277.5a3.5,3.5 0 1,0 7,0a3.5,3.5 0 1,0 -7,0M1414.2,1277.5a3.5,3.5 0 1,0 7,0a3.5,3.5 0 1,0 -7,0M1309.6,1277.5a3.5,3.5 0 1,0 7,0a3.5,3.5 0 1,0 -7,0M1301.5,1277.5a3.5,3.5 0 1,0 7,0a3.5,3.5 0 1,0 -7,0M1287.9,1216.9a3.5,3.5 0 1,0 7,0a3.5,3.5 0 1,0 -7,0M1414.2,1216.9a3.5,3.5 0 1,0 7,0a3.5,3.5 0 1,0 -7,0M1309.6,1216.9a3.5,3.5 0 1,0 7,0a3.5,3.5 0 1,0 -7,0M1301.5,1216.9a3.5,3.5 0 1,0 7,0a3.5,3.5 0 1,0 -7,0M1287.9,1326.2a3.5,3.5 0 1,0 7,0a3.5,3.5 0 1,0 -7,0M1414.2,1326.2a3.5,3.5 0 1,0 7,0a3.5,3.5 0 1,0 -7,0M1309.6,1326.2a3.5,3.5 0 1,0 7,0a3.5,3.5 0 1,0 -7,0M1301.5,1326.2a3.5,3.5 0 1,0 7,0a3.5,3.5 0 1,0 -7,0M1287.9,1228.3a3.5,3.5 0 1,0 7,0a3.5,3.5 0 1,0 -7,0M1269,1228.3a3.5,3.5 0 1,0 7,0a3.5,3.5 0 1,0 -7,0M1310.8,1228.3a3.5,3.5 0 1,0 7,0a3.5,3.5 0 1,0 -7,0M1274.2,1228.3a3.5,3.5 0 1,0 7,0a3.5,3.5 0 1,0 -7,0M1287.9,1302a3.5,3.5 0 1,0 7,0a3.5,3.5 0 1,0 -7,0M1269,1302a3.5,3.5 0 1,0 7,0a3.5,3.5 0 1,0 -7,0M1310.8,1302a3.5,3.5 0 1,0 7,0a3.5,3.5 0 1,0 -7,0M1274.2,1302a3.5,3.5 0 1,0 7,0a3.5,3.5 0 1,0 -7,0M1287.9,1243.9a3.5,3.5 0 1,0 7,0a3.5,3.5 0 1,0 -7,0M1269,1243.9a3.5,3.5 0 1,0 7,0a3.5,3.5 0 1,0 -7,0M1310.8,1243.9a3.5,3.5 0 1,0 7,0a3.5,3.5 0 1,0 -7,0M1274.2,1243.9a3.5,3.5 0 1,0 7,0a3.5,3.5 0 1,0 -7,0M1293.8,1260.5a3.5,3.5 0 1,0 7,0a3.5,3.5 0 1,0 -7,0M1282.3,1260.5a3.5,3.5 0 1,0 7,0a3.5,3.5 0 1,0 -7,0M1286.7,1260.5a3.5,3.5 0 1,0 7,0a3.5,3.5 0 1,0 -7,0M1274.2,1260.5a3.5,3.5 0 1,0 7,0a3.5,3.5 0 1,0 -7,0M1293.8,1283.1a3.5,3.5 0 1,0 7,0a3.5,3.5 0 1,0 -7,0M1282.3,1283.1a3.5,3.5 0 1,0 7,0a3.5,3.5 0 1,0 -7,0M1286.7,1283.1a3.5,3.5 0 1,0 7,0a3.5,3.5 0 1,0 -7,0M1274.2,1283.1a3.5,3.5 0 1,0 7,0a3.5,3.5 0 1,0 -7,0M1293.8,1242a3.5,3.5 0 1,0 7,0a3.5,3.5 0 1,0 -7,0M1282.3,1242a3.5,3.5 0 1,0 7,0a3.5,3.5 0 1,0 -7,0M1286.7,1242a3.5,3.5 0 1,0 7,0a3.5,3.5 0 1,0 -7,0M1274.2,1242a3.5,3.5 0 1,0 7,0a3.5,3.5 0 1,0 -7,0M1185.9,1348.2a3.5,3.5 0 1,0 7,0a3.5,3.5 0 1,0 -7,0M1310,1348.2a3.5,3.5 0 1,0 7,0a3.5,3.5 0 1,0 -7,0M1263.1,1348.2a3.5,3.5 0 1,0 7,0a3.5,3.5 0 1,0 -7,0M1274.2,1348.2a3.5,3.5 0 1,0 7,0a3.5,3.5 0 1,0 -7,0M1185.9,1265.3a3.5,3.5 0 1,0 7,0a3.5,3.5 0 1,0 -7,0M1310,1265.3a3.5,3.5 0 1,0 7,0a3.5,3.5 0 1,0 -7,0M1263.1,1265.3a3.5,3.5 0 1,0 7,0a3.5,3.5 0 1,0 -7,0M1274.2,1265.3a3.5,3.5 0 1,0 7,0a3.5,3.5 0 1,0 -7,0M1185.9,1269a3.5,3.5 0 1,0 7,0a3.5,3.5 0 1,0 -7,0M1310,1269a3.5,3.5 0 1,0 7,0a3.5,3.5 0 1,0 -7,0M1263.1,1269a3.5,3.5 0 1,0 7,0a3.5,3.5 0 1,0 -7,0M1274.2,1269a3.5,3.5 0 1,0 7,0a3.5,3.5 0 1,0 -7,0M1326.6,1285.6a3.5,3.5 0 1,0 7,0a3.5,3.5 0 1,0 -7,0M1255.4,1285.6a3.5,3.5 0 1,0 7,0a3.5,3.5 0 1,0 -7,0M1263.1,1285.6a3.5,3.5 0 1,0 7,0a3.5,3.5 0 1,0 -7,0M1259.1,1285.6a3.5,3.5 0 1,0 7,0a3.5,3.5 0 1,0 -7,0M1326.6,1343a3.5,3.5 0 1,0 7,0a3.5,3.5 0 1,0 -7,0M1255.4,1343a3.5,3.5 0 1,0 7,0a3.5,3.5 0 1,0 -7,0M1263.1,1343a3.5,3.5 0 1,0 7,0a3.5,3.5 0 1,0 -7,0M1259.1,1343a3.5,3.5 0 1,0 7,0a3.5,3.5 0 1,0 -7,0M1326.6,1326.4a3.5,3.5 0 1,0 7,0a3.5,3.5 0 1,0 -7,0M1255.4,1326.4a3.5,3.5 0 1,0 7,0a3.5,3.5 0 1,0 -7,0M1263.1,1326.4a3.5,3.5 0 1,0 7,0a3.5,3.5 0 1,0 -7,0M1259.1,1326.4a3.5,3.5 0 1,0 7,0a3.5,3.5 0 1,0 -7,0M1262.7,1276.4a3.5,3.5 0 1,0 7,0a3.5,3.5 0 1,0 -7,0M1239.8,1276.4a3.5,3.5 0 1,0 7,0a3.5,3.5 0 1,0 -7,0M1259.1,1276.4a3.5,3.5 0 1,0 7,0a3.5,3.5 0 1,0 -7,0M1262.7,1315.7a3.5,3.5 0 1,0 7,0a3.5,3.5 0 1,0 -7,0M1239.8,1315.7a3.5,3.5 0 1,0 7,0a3.5,3.5 0 1,0 -7,0M1259.1,1315.7a3.5,3.5 0 1,0 7,0a3.5,3.5 0 1,0 -7,0M1262.7,1306.2a3.5,3.5 0 1,0 7,0a3.5,3.5 0 1,0 -7,0M1239.8,1306.2a3.5,3.5 0 1,0 7,0a3.5,3.5 0 1,0 -7,0M1259.1,1306.2a3.5,3.5 0 1,0 7,0a3.5,3.5 0 1,0 -7,0M1244.6,1295.4a3.5,3.5 0 1,0 7,0a3.5,3.5 0 1,0 -7,0M1260.2,1295.4a3.5,3.5 0 1,0 7,0a3.5,3.5 0 1,0 -7,0M1235.4,1295.4a3.5,3.5 0 1,0 7,0a3.5,3.5 0 1,0 -7,0M1259.1,1295.4a3.5,3.5 0 1,0 7,0a3.5,3.5 0 1,0 -7,0M1244.6,1259.8a3.5,3.5 0 1,0 7,0a3.5,3.5 0 1,0 -7,0M1260.2,1259.8a3.5,3.5 0 1,0 7,0a3.5,3.5 0 1,0 -7,0M1235.4,1259.8a3.5,3.5 0 1,0 7,0a3.5,3.5 0 1,0 -7,0M1259.1,1259.8a3.5,3.5 0 1,0 7,0a3.5,3.5 0 1,0 -7,0M1244.6,1294.4a3.5,3.5 0 1,0 7,0a3.5,3.5 0 1,0 -7,0M1260.2,1294.4a3.5,3.5 0 1,0 7,0a3.5,3.5 0 1,0 -7,0M1235.4,1294.4a3.5,3.5 0 1,0 7,0a3.5,3.5 0 1,0 -7,0M1259.1,1294.4a3.5,3.5 0 1,0 7,0a3.5,3.5 0 1,0 -7,0M1145.7,1409.3a3.5,3.5 0 1,0 7,0a3.5,3.5 0 1,0 -7,0M1260.2,1409.3a3.5,3.5 0 1,0 7,0a3.5,3.5 0 1,0 -7,0M1171.9,1409.3a3.5,3.5 0 1,0 7,0a3.5,3.5 0 1,0 -7,0M1259.1,1409.3a3.5,3.5 0 1,0 7,0a3.5,3.5 0 1,0 -7,0M1145.7,1321.9a3.5,3.5 0 1,0 7,0a3.5,3.5 0 1,0 -7,0M1260.2,1321.9a3.5,3.5 0 1,0 7,0a3.5,3.5 0 1,0 -7,0M1171.9,1321.9a3.5,3.5 0 1,0 7,0a3.5,3.5 0 1,0 -7,0M1259.1,1321.9a3.5,3.5 0 1,0 7,0a3.5,3.5 0 1,0 -7,0M1145.7,1371.9a3.5,3.5 0 1,0 7,0a3.5,3.5 0 1,0 -7,0M1260.2,1371.9a3.5,3.5 0 1,0 7,0a3.5,3.5 0 1,0 -7,0M1171.9,1371.9a3.5,3.5 0 1,0 7,0a3.5,3.5 0 1,0 -7,0M1259.1,1371.9a3.5,3.5 0 1,0 7,0a3.5,3.5 0 1,0 -7,0M1269,1386a3.5,3.5 0 1,0 7,0a3.5,3.5 0 1,0 -7,0M1311.5,1386a3.5,3.5 0 1,0 7,0a3.5,3.5 0 1,0 -7,0M1171.9,1386a3.5,3.5 0 1,0 7,0a3.5,3.5 0 1,0 -7,0M1214,1386a3.5,3.5 0 1,0 7,0a3.5,3.5 0 1,0 -7,0M1269,1267.2a3.5,3.5 0 1,0 7,0a3.5,3.5 0 1,0 -7,0M1311.5,1267.2a3.5,3.5 0 1,0 7,0a3.5,3.5 0 1,0 -7,0M1171.9,1267.2a3.5,3.5 0 1,0 7,0a3.5,3.5 0 1,0 -7,0M1214,1267.2a3.5,3.5 0 1,0 7,0a3.5,3.5 0 1,0 -7,0M1269,1356.7a3.5,3.5 0 1,0 7,0a3.5,3.5 0 1,0 -7,0M1311.5,1356.7a3.5,3.5 0 1,0 7,0a3.5,3.5 0 1,0 -7,0M1171.9,1356.7a3.5,3.5 0 1,0 7,0a3.5,3.5 0 1,0 -7,0M1214,1356.7a3.5,3.5 0 1,0 7,0a3.5,3.5 0 1,0 -7,0M1460.3,1210.9a3.5,3.5 0 1,0 7,0a3.5,3.5 0 1,0 -7,0M1255.7,1210.9a3.5,3.5 0 1,0 7,0a3.5,3.5 0 1,0 -7,0M1171.9,1210.9a3.5,3.5 0 1,0 7,0a3.5,3.5 0 1,0 -7,0M1159.7,1210.9a3.5,3.5 0 1,0 7,0a3.5,3.5 0 1,0 -7,0M1460.3,1289.8a3.5,3.5 0 1,0 7,0a3.5,3.5 0 1,0 -7,0M1255.7,1289.8a3.5,3.5 0 1,0 7,0a3.5,3.5 0 1,0 -7,0M1171.9,1289.8a3.5,3.5 0 1,0 7,0a3.5,3.5 0 1,0 -7,0M1159.7,1289.8a3.5,3.5 0 1,0 7,0a3.5,3.5 0 1,0 -7,0M1460.3,1384.1a3.5,3.5 0 1,0 7,0a3.5,3.5 0 1,0 -7,0M1255.7,1384.1a3.5,3.5 0 1,0 7,0a3.5,3.5 0 1,0 -7,0M1171.9,1384.1a3.5,3.5 0 1,0 7,0a3.5,3.5 0 1,0 -7,0M1159.7,1384.1a3.5,3.5 0 1,0 7,0a3.5,3.5 0 1,0 -7,0" fill="#4f4f4f"/>
</g>
<rect x="1086.8" y="1080.1" width="407.6" height="406.2" fill="none" stroke="#3c3c3c" stroke-width="1.6"/>
<line x1="1105.6" y1="1486.3" x2="1105.6" y2="1489.9" stroke="#3c3c3c" stroke-width="1.4"/>
<text x="1106.3" y="1514.1" font-size="23.5" text-anchor="middle" fill="#4d4d4d" stroke="#4d4d4d" stroke-width="0.3">0</text>
<line x1="1197.92" y1="1486.3" x2="1197.92" y2="1489.9" stroke="#3c3c3c" stroke-width="1.4"/>
<text x="1198.62" y="1514.1" font-size="23.5" text-anchor="middle" fill="#4d4d4d" stroke="#4d4d4d" stroke-width="0.3">25</text>
<line x1="1290.25" y1="1486.3" x2="1290.25" y2="1489.9" stroke="#3c3c3c" stroke-width="1.4"/>
<text x="1290.95" y="1514.1" font-size="23.5" text-anchor="middle" fill="#4d4d4d" stroke="#4d4d4d" stroke-width="0.3">50</text>
<line x1="1382.57" y1="1486.3" x2="1382.57" y2="1489.9" stroke="#3c3c3c" stroke-width="1.4"/>
<text x="1383.27" y="1514.1" font-size="23.5" text-anchor="middle" fill="#4d4d4d" stroke="#4d4d4d" stroke-width="0.3">75</text>
<line x1="1474.9" y1="1486.3" x2="1474.9" y2="1489.9" stroke="#3c3c3c" stroke-width="1.4"/>
<text x="1475.6" y="1514.1" font-size="23.5" text-anchor="middle" fill="#4d4d4d" stroke="#4d4d4d" stroke-width="0.3">100</text>
<line x1="1083.2" y1="1468.1" x2="1086.8" y2="1468.1" stroke="#3c3c3c" stroke-width="1.4"/>
<text x="1077.8" y="1475.4" font-size="23.5" text-anchor="end" fill="#4d4d4d" stroke="#4d4d4d" stroke-width="0.3">0</text>
<line x1="1083.2" y1="1375.6" x2="1086.8" y2="1375.6" stroke="#3c3c3c" stroke-width="1.4"/>
<text x="1077.8" y="1382.9" font-size="23.5" text-anchor="end" fill="#4d4d4d" stroke="#4d4d4d" stroke-width="0.3">25</text>
<line x1="1083.2" y1="1283.1" x2="1086.8" y2="1283.1" stroke="#3c3c3c" stroke-width="1.4"/>
<text x="1077.8" y="1290.4" font-size="23.5" text-anchor="end" fill="#4d4d4d" stroke="#4d4d4d" stroke-width="0.3">50</text>
<line x1="1083.2" y1="1190.6" x2="1086.8" y2="1190.6" stroke="#3c3c3c" stroke-width="1.4"/>
<text x="1077.8" y="1197.9" font-size="23.5" text-anchor="end" fill="#4d4d4d" stroke="#4d4d4d" stroke-width="0.3">75</text>
<line x1="1083.2" y1="1098.1" x2="1086.8" y2="1098.1" stroke="#3c3c3c" stroke-width="1.4"/>
<text x="1077.8" y="1105.4" font-size="23.5" text-anchor="end" fill="#4d4d4d" stroke="#4d4d4d" stroke-width="0.3">100</text>
<text x="1087" y="1065.7" font-size="28.4" stroke="#000" stroke-width="0.3">insertions vs substitutions</text>
<text x="1290.5" y="1542.5" font-size="27" text-anchor="middle" stroke="#000" stroke-width="0.3">PSI (substitution)</text>
<text x="1037.9" y="1283" font-size="27" text-anchor="middle" transform="rotate(-90 1037.9 1283)" stroke="#000" stroke-width="0.3">PSI (insertion after)</text>
<text x="1099" y="1107.5" font-size="22.3" stroke="#000" stroke-width="0.3">Spearman’s ρ = 0.045</text>
<text x="1099" y="1133.8" font-size="22.3" stroke="#000" stroke-width="0.3">n = 744</text>
</g>
<g id="panelH">
<text transform="translate(1513.6 1059.9) scale(0.94 1)" x="0" y="0" font-size="46.5" font-weight="bold" fill="#1a1a1a">H</text>
<path d="M1792.93,1080.8V1486.7M1592.8,1286.62H1999.6" fill="none" stroke="#d4d4d4" stroke-width="1.2" stroke-dasharray="4.6 3.8"/>
<clipPath id="clipH"><rect x="1592.8" y="1080.8" width="406.8" height="405.9"/></clipPath>
<g clip-path="url(#clipH)">
<path d="M1856.7,1401.9H1896.1M1876.4,1397.34V1406.46M1834.28,1401.9H1867.52M1850.9,1397.34V1406.46M1758.2,1401.9H1782.6M1770.4,1397.34V1406.46M1907.89,1401.9H1952.71M1930.3,1397.34V1406.46M1856.7,1226.5H1896.1M1876.4,1211.44V1241.56M1828.28,1226.5H1861.72M1845,1211.44V1241.56M1819.12,1226.5H1854.68M1836.9,1211.44V1241.56M1872.48,1226.5H1908.32M1890.4,1211.44V1241.56M1769.86,1373.4H1794.54M1782.2,1367.55V1379.25M1756.89,1373.4H1783.11M1770,1367.55V1379.25M1798.42,1373.4H1830.98M1814.7,1367.55V1379.25M1872.48,1373.4H1908.32M1890.4,1367.55V1379.25M1728.67,1448.5H1748.53M1738.6,1446.33V1450.67M1756.89,1448.5H1783.11M1770,1446.33V1450.67M1833.25,1448.5H1864.95M1849.1,1446.33V1450.67M1657.49,1448.5H1669.91M1663.7,1446.33V1450.67M1861.55,1448.5H1894.25M1877.9,1446.33V1450.67M1871.5,1448.5H1909.3M1890.4,1446.33V1450.67M1628.77,1448.5H1638.83M1633.8,1446.33V1450.67M1861.55,1348.2H1894.25M1877.9,1339.89V1356.51M1897.23,1348.2H1938.17M1917.7,1339.89V1356.51M1923.03,1348.2H1992.97M1958,1339.89V1356.51M1708.59,1348.2H1727.41M1718,1339.89V1356.51M1909.81,1421.5H1953.79M1931.8,1417.51V1425.49M1851.06,1421.5H1882.54M1866.8,1417.51V1425.49M1923.03,1421.5H1992.97M1958,1417.51V1425.49M1739.16,1421.5H1763.24M1751.2,1417.51V1425.49M1909.81,1334.9H1953.79M1931.8,1325.63V1344.17M1864.4,1334.9H1904.6M1884.5,1325.63V1344.17M1879.97,1334.9H1922.23M1901.1,1325.63V1344.17M1823.92,1334.9H1853.48M1838.7,1325.63V1344.17M1758.11,1331.2H1782.69M1770.4,1322.82V1339.58M1895.18,1331.2H1931.42M1913.3,1322.82V1339.58M1919.45,1331.2H1967.75M1943.6,1322.82V1339.58M1823.92,1331.2H1853.48M1838.7,1322.82V1339.58M1833.91,1363H1868.69M1851.3,1355.97V1370.03M1895.18,1363H1931.42M1913.3,1355.97V1370.03M1909.58,1363H1951.82M1930.7,1355.97V1370.03M1756.81,1363H1780.99M1768.9,1355.97V1370.03M1834.09,1176.9H1869.11M1851.6,1160.66V1193.14M1722.39,1176.9H2239.41M1980.9,1160.66V1193.14M1912.5,1176.9H1953.3M1932.9,1160.66V1193.14M1756.81,1176.9H1780.99M1768.9,1160.66V1193.14M1834.09,1179.9H1869.11M1851.6,1164.67V1195.13M1894.88,1179.9H1933.92M1914.4,1164.67V1195.13M1815.31,1179.9H1844.49M1829.9,1164.67V1195.13M1767.19,1179.9H1794.21M1780.7,1164.67V1195.13M1845.04,1179.9H1882.56M1863.8,1164.67V1195.13M1830.09,1179.9H1864.31M1847.2,1164.67V1195.13M1816.99,1179.9H1845.01M1831,1164.67V1195.13M1781.79,1313.4H1811.41M1796.6,1303.79V1323.01M1845.04,1313.4H1882.56M1863.8,1303.79V1323.01M1927.92,1313.4H1979.88M1953.9,1303.79V1323.01M1761.23,1313.4H1784.77M1773,1303.79V1323.01M1779.92,1247.9H1810.28M1795.1,1233.46V1262.34M1798.95,1247.9H1826.05M1812.5,1233.46V1262.34M1738.81,1247.9H1762.79M1750.8,1233.46V1262.34M1761.23,1247.9H1784.77M1773,1233.46V1262.34M1642.66,1247.9H1654.34M1648.5,1233.46V1262.34M1960.59,1247.9H2001.21M1980.9,1233.46V1262.34M1685.28,1247.9H1700.32M1692.8,1233.46V1262.34M1812.82,1300.5H1841.78M1827.3,1289.21V1311.79M1960.59,1300.5H2001.21M1980.9,1289.21V1311.79M1685.28,1300.5H1700.32M1692.8,1289.21V1311.79M1750.15,1300.5H1775.05M1762.6,1289.21V1311.79M1917.9,1300.5H1961.1M1939.5,1289.21V1311.79M1888.52,1300.5H1932.88M1910.7,1289.21V1311.79M1897.47,1300.5H1935.13M1916.3,1289.21V1311.79M1868.19,1300.5H1910.41M1889.3,1289.21V1311.79M1928.19,1300.5H2000.41M1964.3,1289.21V1311.79M1902.93,1300.5H1996.87M1949.9,1289.21V1311.79M1617.04,1300.5H1625.36M1621.2,1289.21V1311.79M1614.12,1452.9H1622.28M1618.2,1450.9V1454.9M1956.53,1452.9H2005.27M1980.9,1450.9V1454.9M1610.76,1452.9H1618.44M1614.6,1450.9V1454.9M1617.04,1452.9H1625.36M1621.2,1450.9V1454.9M1758.43,1272.4H1781.57M1770,1259.07V1285.73M1882.94,1272.4H1922.26M1902.6,1259.07V1285.73M1610.76,1272.4H1618.44M1614.6,1259.07V1285.73M1703.93,1272.4H2257.88M1980.9,1259.07V1285.73M1934.8,1272.4H1984.2M1959.5,1259.07V1285.73M1724.28,1272.4H1746.32M1735.3,1259.07V1285.73M1816.22,1351.9H1849.38M1832.8,1344.83V1358.97M1934.8,1351.9H1984.2M1959.5,1344.83V1358.97M1947.66,1351.9H2014.14M1980.9,1344.83V1358.97M1757.97,1351.9H1782.83M1770.4,1344.83V1358.97M1783.43,1236.1H1811.37M1797.4,1223.5V1248.7M1867.81,1236.1H1902.79M1885.3,1223.5V1248.7M1947.66,1236.1H2014.14M1980.9,1223.5V1248.7M1757.97,1236.1H1782.83M1770.4,1223.5V1248.7M1821.05,1236.1H1854.15M1837.6,1223.5V1248.7M1859.45,1236.1H1896.35M1877.9,1223.5V1248.7M1875.04,1236.1H1911.76M1893.4,1223.5V1248.7M1691.64,1236.1H1709.56M1700.6,1223.5V1248.7M1923.91,1236.1H2011.29M1967.6,1223.5V1248.7M1767.07,1236.1H1792.13M1779.6,1223.5V1248.7M1916.85,1351.9H2007.95M1962.4,1344.49V1359.31M1805.97,1351.9H1837.43M1821.7,1344.49V1359.31M1767.07,1351.9H1792.13M1779.6,1344.49V1359.31M1768.6,1351.9H1795.8M1782.2,1344.49V1359.31M1781.87,1304.2H1812.13M1797,1294.68V1313.72M1834.33,1304.2H1868.27M1851.3,1294.68V1313.72M1867.71,1304.2H1906.49M1887.1,1294.68V1313.72M1768.6,1304.2H1795.8M1782.2,1294.68V1313.72M1797.7,1359.3H1824.3M1811,1352.72V1365.88M1834.33,1359.3H1868.27M1851.3,1352.72V1365.88M1907.95,1359.3H1995.45M1951.7,1352.72V1365.88M1661.59,1359.3H1674.61M1668.1,1352.72V1365.88M1711.17,1313.4H1732.23M1721.7,1304V1322.8M1703.62,1313.4H1723.38M1713.5,1304V1322.8M1746.31,1313.4H1767.89M1757.1,1304V1322.8M1661.59,1313.4H1674.61M1668.1,1304V1322.8M1697.9,1313.4H1716.5M1707.2,1304V1322.8M1775.28,1313.4H1802.52M1788.9,1304V1322.8M1809.54,1459.2H1837.66M1823.6,1457.58V1460.82M1775.28,1459.2H1802.52M1788.9,1457.58V1460.82M1908.36,1459.2H1950.84M1929.6,1457.58V1460.82M1663.41,1459.2H1676.39M1669.9,1457.58V1460.82M1807.31,1313.4H1836.09M1821.7,1303.8V1323M1663.41,1313.4H1676.39M1669.9,1303.8V1323M1777.79,1313.4H2184.02M1980.9,1303.8V1323M1802.04,1313.4H1831.16M1816.6,1303.8V1323M1802.04,1334.9H1831.16M1816.6,1326.87V1342.93M1833.18,1334.9H2128.62M1980.9,1326.87V1342.93M1765,1334.9H1788.4M1776.7,1326.87V1342.93M1823.3,1277.9H1856.3M1839.8,1265.27V1290.53M1770.97,1277.9H1799.43M1785.2,1265.27V1290.53M1838.04,1277.9H1871.16M1854.6,1265.27V1290.53M1765,1277.9H1788.4M1776.7,1265.27V1290.53M1857.9,1277.9H1897.9M1877.9,1265.27V1290.53M1879.29,1277.9H1922.31M1900.8,1265.27V1290.53M1844.51,1277.9H1878.69M1861.6,1265.27V1290.53M1767.63,1277.9H1795.37M1781.5,1265.27V1290.53M1874.52,1277.9H1910.08M1892.3,1265.27V1290.53M1855.56,1277.9H1892.04M1873.8,1265.27V1290.53M1615.88,1277.9H1624.32M1620.1,1265.27V1290.53M1898.03,1277.9H1999.57M1948.8,1265.27V1290.53M1869.46,1401.9H1906.94M1888.2,1396.62V1407.18M1757.53,1401.9H1782.47M1770,1396.62V1407.18M1874.75,1401.9H1909.85M1892.3,1396.62V1407.18M1750.42,1401.9H1771.98M1761.2,1396.62V1407.18M1745.42,1346.6H1769.58M1757.5,1338.9V1354.3M1757.53,1346.6H1782.47M1770,1338.9V1354.3M1823.62,1346.6H1853.78M1838.7,1338.9V1354.3M1703.83,1346.6H1722.57M1713.2,1338.9V1354.3M1796.65,1346.6H1823.95M1810.3,1338.9V1354.3M1870.11,1346.6H2091.69M1980.9,1338.9V1354.3M1796.65,1440.3H1823.95M1810.3,1437.86V1442.74M1764.01,1440.3H1789.99M1777,1437.86V1442.74M1853.1,1440.3H1889.3M1871.2,1437.86V1442.74M1766.62,1440.3H1792.58M1779.6,1437.86V1442.74M1868.19,1440.3H1903.01M1885.6,1437.86V1442.74M1887.51,1440.3H1931.09M1909.3,1437.86V1442.74M1748.07,1440.3H1772.13M1760.1,1437.86V1442.74M1805.68,1260.9H1837.72M1821.7,1250V1271.8M1881.03,1260.9H1920.57M1900.8,1250V1271.8M1789.75,1260.9H1819.05M1804.4,1250V1271.8M1748.07,1260.9H1772.13M1760.1,1250V1271.8M1754.69,1260.9H1780.91M1767.8,1250V1271.8M1693.43,1260.9H1710.77M1702.1,1250V1271.8M1742.48,1260.9H1767.32M1754.9,1250V1271.8M1705,1381.5H1724.2M1714.6,1375.1V1387.9M1693.43,1381.5H1710.77M1702.1,1375.1V1387.9M1773.39,1381.5H1798.41M1785.9,1375.1V1387.9M1657.06,1381.5H1669.54M1663.3,1375.1V1387.9M1836.67,1381.5H1872.53M1854.6,1375.1V1387.9M1849.47,1381.5H1887.13M1868.3,1375.1V1387.9M1747.21,1381.5H1769.19M1758.2,1375.1V1387.9M1836.67,1429.6H1872.53M1854.6,1426.66V1432.54M1824.57,1429.6H1858.03M1841.3,1426.66V1432.54M1890.81,1429.6H1934.39M1912.6,1426.66V1432.54M1875.16,1361.4H1910.84M1893,1354.05V1368.75M1824.57,1361.4H1858.03M1841.3,1354.05V1368.75M1901.42,1361.4H1947.38M1924.4,1354.05V1368.75M1759.15,1361.4H1786.05M1772.6,1354.05V1368.75M1782.26,1226.5H1812.54M1797.4,1211.82V1241.18M1882.36,1226.5H1919.84M1901.1,1211.82V1241.18M1759.15,1226.5H1786.05M1772.6,1211.82V1241.18M1782.26,1291.6H1812.54M1797.4,1281.34V1301.86M1900.43,1291.6H1946.97M1923.7,1281.34V1301.86M1804.63,1291.6H1833.57M1819.1,1281.34V1301.86M1794.73,1291.6H1827.27M1811,1281.34V1301.86M1765.58,1291.6H1791.42M1778.5,1281.34V1301.86M1803.68,1291.6H1836.92M1820.3,1281.34V1301.86M1769.33,1291.6H1798.07M1783.7,1281.34V1301.86M1787.55,1264.2H1819.05M1803.3,1250.9V1277.5M1778.49,1264.2H1805.11M1791.8,1250.9V1277.5M1783.21,1264.2H1809.19M1796.2,1250.9V1277.5M1769.33,1264.2H1798.07M1783.7,1250.9V1277.5M1686.44,1264.2H1704.36M1695.4,1250.9V1277.5M1803.34,1264.2H1835.66M1819.5,1250.9V1277.5M1758.73,1264.2H1786.47M1772.6,1250.9V1277.5M1819.92,1287.2H1852.28M1836.1,1277.57V1296.83M1752.62,1287.2H1777.18M1764.9,1277.57V1296.83M1758.73,1287.2H1786.47M1772.6,1277.57V1296.83M1757.32,1287.2H1779.88M1768.6,1277.57V1296.83M1758.9,1287.2H1785.5M1772.2,1277.57V1296.83M1738.05,1287.2H1760.55M1749.3,1277.57V1296.83M1742.99,1287.2H1765.21M1754.1,1277.57V1296.83M1756.82,1287.2H1782.58M1769.7,1277.57V1296.83M1734.68,1287.2H1755.12M1744.9,1277.57V1296.83M1648.82,1287.2H1661.58M1655.2,1277.57V1296.83M1674.17,1287.2H1688.63M1681.4,1277.57V1296.83M1764.65,1327.7H1792.35M1778.5,1319.71V1335.69M1807.29,1327.7H1834.71M1821,1319.71V1335.69M1674.17,1327.7H1688.63M1681.4,1319.71V1335.69M1714.46,1327.7H1732.54M1723.5,1319.71V1335.69M1945.2,1327.7H1994.4M1969.8,1319.71V1335.69M1752.96,1327.7H1777.44M1765.2,1319.71V1335.69M1661.91,1327.7H1676.49M1669.2,1319.71V1335.69" fill="none" stroke="#4a4a4a" stroke-width="1.4" stroke-opacity="0.88"/>
<path d="M1872.9,1401.9a3.5,3.5 0 1,0 7,0a3.5,3.5 0 1,0 -7,0M1847.4,1401.9a3.5,3.5 0 1,0 7,0a3.5,3.5 0 1,0 -7,0M1766.9,1401.9a3.5,3.5 0 1,0 7,0a3.5,3.5 0 1,0 -7,0M1926.8,1401.9a3.5,3.5 0 1,0 7,0a3.5,3.5 0 1,0 -7,0M1872.9,1226.5a3.5,3.5 0 1,0 7,0a3.5,3.5 0 1,0 -7,0M1841.5,1226.5a3.5,3.5 0 1,0 7,0a3.5,3.5 0 1,0 -7,0M1833.4,1226.5a3.5,3.5 0 1,0 7,0a3.5,3.5 0 1,0 -7,0M1886.9,1226.5a3.5,3.5 0 1,0 7,0a3.5,3.5 0 1,0 -7,0M1778.7,1373.4a3.5,3.5 0 1,0 7,0a3.5,3.5 0 1,0 -7,0M1766.5,1373.4a3.5,3.5 0 1,0 7,0a3.5,3.5 0 1,0 -7,0M1811.2,1373.4a3.5,3.5 0 1,0 7,0a3.5,3.5 0 1,0 -7,0M1886.9,1373.4a3.5,3.5 0 1,0 7,0a3.5,3.5 0 1,0 -7,0M1735.1,1448.5a3.5,3.5 0 1,0 7,0a3.5,3.5 0 1,0 -7,0M1766.5,1448.5a3.5,3.5 0 1,0 7,0a3.5,3.5 0 1,0 -7,0M1845.6,1448.5a3.5,3.5 0 1,0 7,0a3.5,3.5 0 1,0 -7,0M1660.2,1448.5a3.5,3.5 0 1,0 7,0a3.5,3.5 0 1,0 -7,0M1874.4,1448.5a3.5,3.5 0 1,0 7,0a3.5,3.5 0 1,0 -7,0M1886.9,1448.5a3.5,3.5 0 1,0 7,0a3.5,3.5 0 1,0 -7,0M1630.3,1448.5a3.5,3.5 0 1,0 7,0a3.5,3.5 0 1,0 -7,0M1874.4,1348.2a3.5,3.5 0 1,0 7,0a3.5,3.5 0 1,0 -7,0M1914.2,1348.2a3.5,3.5 0 1,0 7,0a3.5,3.5 0 1,0 -7,0M1954.5,1348.2a3.5,3.5 0 1,0 7,0a3.5,3.5 0 1,0 -7,0M1714.5,1348.2a3.5,3.5 0 1,0 7,0a3.5,3.5 0 1,0 -7,0M1928.3,1421.5a3.5,3.5 0 1,0 7,0a3.5,3.5 0 1,0 -7,0M1863.3,1421.5a3.5,3.5 0 1,0 7,0a3.5,3.5 0 1,0 -7,0M1954.5,1421.5a3.5,3.5 0 1,0 7,0a3.5,3.5 0 1,0 -7,0M1747.7,1421.5a3.5,3.5 0 1,0 7,0a3.5,3.5 0 1,0 -7,0M1928.3,1334.9a3.5,3.5 0 1,0 7,0a3.5,3.5 0 1,0 -7,0M1881,1334.9a3.5,3.5 0 1,0 7,0a3.5,3.5 0 1,0 -7,0M1897.6,1334.9a3.5,3.5 0 1,0 7,0a3.5,3.5 0 1,0 -7,0M1835.2,1334.9a3.5,3.5 0 1,0 7,0a3.5,3.5 0 1,0 -7,0M1766.9,1331.2a3.5,3.5 0 1,0 7,0a3.5,3.5 0 1,0 -7,0M1909.8,1331.2a3.5,3.5 0 1,0 7,0a3.5,3.5 0 1,0 -7,0M1940.1,1331.2a3.5,3.5 0 1,0 7,0a3.5,3.5 0 1,0 -7,0M1835.2,1331.2a3.5,3.5 0 1,0 7,0a3.5,3.5 0 1,0 -7,0M1847.8,1363a3.5,3.5 0 1,0 7,0a3.5,3.5 0 1,0 -7,0M1909.8,1363a3.5,3.5 0 1,0 7,0a3.5,3.5 0 1,0 -7,0M1927.2,1363a3.5,3.5 0 1,0 7,0a3.5,3.5 0 1,0 -7,0M1765.4,1363a3.5,3.5 0 1,0 7,0a3.5,3.5 0 1,0 -7,0M1848.1,1176.9a3.5,3.5 0 1,0 7,0a3.5,3.5 0 1,0 -7,0M1977.4,1176.9a3.5,3.5 0 1,0 7,0a3.5,3.5 0 1,0 -7,0M1929.4,1176.9a3.5,3.5 0 1,0 7,0a3.5,3.5 0 1,0 -7,0M1765.4,1176.9a3.5,3.5 0 1,0 7,0a3.5,3.5 0 1,0 -7,0M1848.1,1179.9a3.5,3.5 0 1,0 7,0a3.5,3.5 0 1,0 -7,0M1910.9,1179.9a3.5,3.5 0 1,0 7,0a3.5,3.5 0 1,0 -7,0M1826.4,1179.9a3.5,3.5 0 1,0 7,0a3.5,3.5 0 1,0 -7,0M1777.2,1179.9a3.5,3.5 0 1,0 7,0a3.5,3.5 0 1,0 -7,0M1860.3,1179.9a3.5,3.5 0 1,0 7,0a3.5,3.5 0 1,0 -7,0M1843.7,1179.9a3.5,3.5 0 1,0 7,0a3.5,3.5 0 1,0 -7,0M1827.5,1179.9a3.5,3.5 0 1,0 7,0a3.5,3.5 0 1,0 -7,0M1793.1,1313.4a3.5,3.5 0 1,0 7,0a3.5,3.5 0 1,0 -7,0M1860.3,1313.4a3.5,3.5 0 1,0 7,0a3.5,3.5 0 1,0 -7,0M1950.4,1313.4a3.5,3.5 0 1,0 7,0a3.5,3.5 0 1,0 -7,0M1769.5,1313.4a3.5,3.5 0 1,0 7,0a3.5,3.5 0 1,0 -7,0M1791.6,1247.9a3.5,3.5 0 1,0 7,0a3.5,3.5 0 1,0 -7,0M1809,1247.9a3.5,3.5 0 1,0 7,0a3.5,3.5 0 1,0 -7,0M1747.3,1247.9a3.5,3.5 0 1,0 7,0a3.5,3.5 0 1,0 -7,0M1769.5,1247.9a3.5,3.5 0 1,0 7,0a3.5,3.5 0 1,0 -7,0M1645,1247.9a3.5,3.5 0 1,0 7,0a3.5,3.5 0 1,0 -7,0M1977.4,1247.9a3.5,3.5 0 1,0 7,0a3.5,3.5 0 1,0 -7,0M1689.3,1247.9a3.5,3.5 0 1,0 7,0a3.5,3.5 0 1,0 -7,0M1823.8,1300.5a3.5,3.5 0 1,0 7,0a3.5,3.5 0 1,0 -7,0M1977.4,1300.5a3.5,3.5 0 1,0 7,0a3.5,3.5 0 1,0 -7,0M1689.3,1300.5a3.5,3.5 0 1,0 7,0a3.5,3.5 0 1,0 -7,0M1759.1,1300.5a3.5,3.5 0 1,0 7,0a3.5,3.5 0 1,0 -7,0M1936,1300.5a3.5,3.5 0 1,0 7,0a3.5,3.5 0 1,0 -7,0M1907.2,1300.5a3.5,3.5 0 1,0 7,0a3.5,3.5 0 1,0 -7,0M1912.8,1300.5a3.5,3.5 0 1,0 7,0a3.5,3.5 0 1,0 -7,0M1885.8,1300.5a3.5,3.5 0 1,0 7,0a3.5,3.5 0 1,0 -7,0M1960.8,1300.5a3.5,3.5 0 1,0 7,0a3.5,3.5 0 1,0 -7,0M1946.4,1300.5a3.5,3.5 0 1,0 7,0a3.5,3.5 0 1,0 -7,0M1617.7,1300.5a3.5,3.5 0 1,0 7,0a3.5,3.5 0 1,0 -7,0M1614.7,1452.9a3.5,3.5 0 1,0 7,0a3.5,3.5 0 1,0 -7,0M1977.4,1452.9a3.5,3.5 0 1,0 7,0a3.5,3.5 0 1,0 -7,0M1611.1,1452.9a3.5,3.5 0 1,0 7,0a3.5,3.5 0 1,0 -7,0M1617.7,1452.9a3.5,3.5 0 1,0 7,0a3.5,3.5 0 1,0 -7,0M1766.5,1272.4a3.5,3.5 0 1,0 7,0a3.5,3.5 0 1,0 -7,0M1899.1,1272.4a3.5,3.5 0 1,0 7,0a3.5,3.5 0 1,0 -7,0M1611.1,1272.4a3.5,3.5 0 1,0 7,0a3.5,3.5 0 1,0 -7,0M1977.4,1272.4a3.5,3.5 0 1,0 7,0a3.5,3.5 0 1,0 -7,0M1956,1272.4a3.5,3.5 0 1,0 7,0a3.5,3.5 0 1,0 -7,0M1731.8,1272.4a3.5,3.5 0 1,0 7,0a3.5,3.5 0 1,0 -7,0M1829.3,1351.9a3.5,3.5 0 1,0 7,0a3.5,3.5 0 1,0 -7,0M1956,1351.9a3.5,3.5 0 1,0 7,0a3.5,3.5 0 1,0 -7,0M1977.4,1351.9a3.5,3.5 0 1,0 7,0a3.5,3.5 0 1,0 -7,0M1766.9,1351.9a3.5,3.5 0 1,0 7,0a3.5,3.5 0 1,0 -7,0M1793.9,1236.1a3.5,3.5 0 1,0 7,0a3.5,3.5 0 1,0 -7,0M1881.8,1236.1a3.5,3.5 0 1,0 7,0a3.5,3.5 0 1,0 -7,0M1977.4,1236.1a3.5,3.5 0 1,0 7,0a3.5,3.5 0 1,0 -7,0M1766.9,1236.1a3.5,3.5 0 1,0 7,0a3.5,3.5 0 1,0 -7,0M1834.1,1236.1a3.5,3.5 0 1,0 7,0a3.5,3.5 0 1,0 -7,0M1874.4,1236.1a3.5,3.5 0 1,0 7,0a3.5,3.5 0 1,0 -7,0M1889.9,1236.1a3.5,3.5 0 1,0 7,0a3.5,3.5 0 1,0 -7,0M1697.1,1236.1a3.5,3.5 0 1,0 7,0a3.5,3.5 0 1,0 -7,0M1964.1,1236.1a3.5,3.5 0 1,0 7,0a3.5,3.5 0 1,0 -7,0M1776.1,1236.1a3.5,3.5 0 1,0 7,0a3.5,3.5 0 1,0 -7,0M1958.9,1351.9a3.5,3.5 0 1,0 7,0a3.5,3.5 0 1,0 -7,0M1818.2,1351.9a3.5,3.5 0 1,0 7,0a3.5,3.5 0 1,0 -7,0M1776.1,1351.9a3.5,3.5 0 1,0 7,0a3.5,3.5 0 1,0 -7,0M1778.7,1351.9a3.5,3.5 0 1,0 7,0a3.5,3.5 0 1,0 -7,0M1793.5,1304.2a3.5,3.5 0 1,0 7,0a3.5,3.5 0 1,0 -7,0M1847.8,1304.2a3.5,3.5 0 1,0 7,0a3.5,3.5 0 1,0 -7,0M1883.6,1304.2a3.5,3.5 0 1,0 7,0a3.5,3.5 0 1,0 -7,0M1778.7,1304.2a3.5,3.5 0 1,0 7,0a3.5,3.5 0 1,0 -7,0M1807.5,1359.3a3.5,3.5 0 1,0 7,0a3.5,3.5 0 1,0 -7,0M1847.8,1359.3a3.5,3.5 0 1,0 7,0a3.5,3.5 0 1,0 -7,0M1948.2,1359.3a3.5,3.5 0 1,0 7,0a3.5,3.5 0 1,0 -7,0M1664.6,1359.3a3.5,3.5 0 1,0 7,0a3.5,3.5 0 1,0 -7,0M1718.2,1313.4a3.5,3.5 0 1,0 7,0a3.5,3.5 0 1,0 -7,0M1710,1313.4a3.5,3.5 0 1,0 7,0a3.5,3.5 0 1,0 -7,0M1753.6,1313.4a3.5,3.5 0 1,0 7,0a3.5,3.5 0 1,0 -7,0M1664.6,1313.4a3.5,3.5 0 1,0 7,0a3.5,3.5 0 1,0 -7,0M1703.7,1313.4a3.5,3.5 0 1,0 7,0a3.5,3.5 0 1,0 -7,0M1785.4,1313.4a3.5,3.5 0 1,0 7,0a3.5,3.5 0 1,0 -7,0M1820.1,1459.2a3.5,3.5 0 1,0 7,0a3.5,3.5 0 1,0 -7,0M1785.4,1459.2a3.5,3.5 0 1,0 7,0a3.5,3.5 0 1,0 -7,0M1926.1,1459.2a3.5,3.5 0 1,0 7,0a3.5,3.5 0 1,0 -7,0M1666.4,1459.2a3.5,3.5 0 1,0 7,0a3.5,3.5 0 1,0 -7,0M1818.2,1313.4a3.5,3.5 0 1,0 7,0a3.5,3.5 0 1,0 -7,0M1666.4,1313.4a3.5,3.5 0 1,0 7,0a3.5,3.5 0 1,0 -7,0M1977.4,1313.4a3.5,3.5 0 1,0 7,0a3.5,3.5 0 1,0 -7,0M1813.1,1313.4a3.5,3.5 0 1,0 7,0a3.5,3.5 0 1,0 -7,0M1813.1,1334.9a3.5,3.5 0 1,0 7,0a3.5,3.5 0 1,0 -7,0M1977.4,1334.9a3.5,3.5 0 1,0 7,0a3.5,3.5 0 1,0 -7,0M1773.2,1334.9a3.5,3.5 0 1,0 7,0a3.5,3.5 0 1,0 -7,0M1836.3,1277.9a3.5,3.5 0 1,0 7,0a3.5,3.5 0 1,0 -7,0M1781.7,1277.9a3.5,3.5 0 1,0 7,0a3.5,3.5 0 1,0 -7,0M1851.1,1277.9a3.5,3.5 0 1,0 7,0a3.5,3.5 0 1,0 -7,0M1773.2,1277.9a3.5,3.5 0 1,0 7,0a3.5,3.5 0 1,0 -7,0M1874.4,1277.9a3.5,3.5 0 1,0 7,0a3.5,3.5 0 1,0 -7,0M1897.3,1277.9a3.5,3.5 0 1,0 7,0a3.5,3.5 0 1,0 -7,0M1858.1,1277.9a3.5,3.5 0 1,0 7,0a3.5,3.5 0 1,0 -7,0M1778,1277.9a3.5,3.5 0 1,0 7,0a3.5,3.5 0 1,0 -7,0M1888.8,1277.9a3.5,3.5 0 1,0 7,0a3.5,3.5 0 1,0 -7,0M1870.3,1277.9a3.5,3.5 0 1,0 7,0a3.5,3.5 0 1,0 -7,0M1616.6,1277.9a3.5,3.5 0 1,0 7,0a3.5,3.5 0 1,0 -7,0M1945.3,1277.9a3.5,3.5 0 1,0 7,0a3.5,3.5 0 1,0 -7,0M1884.7,1401.9a3.5,3.5 0 1,0 7,0a3.5,3.5 0 1,0 -7,0M1766.5,1401.9a3.5,3.5 0 1,0 7,0a3.5,3.5 0 1,0 -7,0M1888.8,1401.9a3.5,3.5 0 1,0 7,0a3.5,3.5 0 1,0 -7,0M1757.7,1401.9a3.5,3.5 0 1,0 7,0a3.5,3.5 0 1,0 -7,0M1754,1346.6a3.5,3.5 0 1,0 7,0a3.5,3.5 0 1,0 -7,0M1766.5,1346.6a3.5,3.5 0 1,0 7,0a3.5,3.5 0 1,0 -7,0M1835.2,1346.6a3.5,3.5 0 1,0 7,0a3.5,3.5 0 1,0 -7,0M1709.7,1346.6a3.5,3.5 0 1,0 7,0a3.5,3.5 0 1,0 -7,0M1806.8,1346.6a3.5,3.5 0 1,0 7,0a3.5,3.5 0 1,0 -7,0M1977.4,1346.6a3.5,3.5 0 1,0 7,0a3.5,3.5 0 1,0 -7,0M1806.8,1440.3a3.5,3.5 0 1,0 7,0a3.5,3.5 0 1,0 -7,0M1773.5,1440.3a3.5,3.5 0 1,0 7,0a3.5,3.5 0 1,0 -7,0M1867.7,1440.3a3.5,3.5 0 1,0 7,0a3.5,3.5 0 1,0 -7,0M1776.1,1440.3a3.5,3.5 0 1,0 7,0a3.5,3.5 0 1,0 -7,0M1882.1,1440.3a3.5,3.5 0 1,0 7,0a3.5,3.5 0 1,0 -7,0M1905.8,1440.3a3.5,3.5 0 1,0 7,0a3.5,3.5 0 1,0 -7,0M1756.6,1440.3a3.5,3.5 0 1,0 7,0a3.5,3.5 0 1,0 -7,0M1818.2,1260.9a3.5,3.5 0 1,0 7,0a3.5,3.5 0 1,0 -7,0M1897.3,1260.9a3.5,3.5 0 1,0 7,0a3.5,3.5 0 1,0 -7,0M1800.9,1260.9a3.5,3.5 0 1,0 7,0a3.5,3.5 0 1,0 -7,0M1756.6,1260.9a3.5,3.5 0 1,0 7,0a3.5,3.5 0 1,0 -7,0M1764.3,1260.9a3.5,3.5 0 1,0 7,0a3.5,3.5 0 1,0 -7,0M1698.6,1260.9a3.5,3.5 0 1,0 7,0a3.5,3.5 0 1,0 -7,0M1751.4,1260.9a3.5,3.5 0 1,0 7,0a3.5,3.5 0 1,0 -7,0M1711.1,1381.5a3.5,3.5 0 1,0 7,0a3.5,3.5 0 1,0 -7,0M1698.6,1381.5a3.5,3.5 0 1,0 7,0a3.5,3.5 0 1,0 -7,0M1782.4,1381.5a3.5,3.5 0 1,0 7,0a3.5,3.5 0 1,0 -7,0M1659.8,1381.5a3.5,3.5 0 1,0 7,0a3.5,3.5 0 1,0 -7,0M1851.1,1381.5a3.5,3.5 0 1,0 7,0a3.5,3.5 0 1,0 -7,0M1864.8,1381.5a3.5,3.5 0 1,0 7,0a3.5,3.5 0 1,0 -7,0M1754.7,1381.5a3.5,3.5 0 1,0 7,0a3.5,3.5 0 1,0 -7,0M1851.1,1429.6a3.5,3.5 0 1,0 7,0a3.5,3.5 0 1,0 -7,0M1837.8,1429.6a3.5,3.5 0 1,0 7,0a3.5,3.5 0 1,0 -7,0M1909.1,1429.6a3.5,3.5 0 1,0 7,0a3.5,3.5 0 1,0 -7,0M1889.5,1361.4a3.5,3.5 0 1,0 7,0a3.5,3.5 0 1,0 -7,0M1837.8,1361.4a3.5,3.5 0 1,0 7,0a3.5,3.5 0 1,0 -7,0M1920.9,1361.4a3.5,3.5 0 1,0 7,0a3.5,3.5 0 1,0 -7,0M1769.1,1361.4a3.5,3.5 0 1,0 7,0a3.5,3.5 0 1,0 -7,0M1793.9,1226.5a3.5,3.5 0 1,0 7,0a3.5,3.5 0 1,0 -7,0M1897.6,1226.5a3.5,3.5 0 1,0 7,0a3.5,3.5 0 1,0 -7,0M1769.1,1226.5a3.5,3.5 0 1,0 7,0a3.5,3.5 0 1,0 -7,0M1793.9,1291.6a3.5,3.5 0 1,0 7,0a3.5,3.5 0 1,0 -7,0M1920.2,1291.6a3.5,3.5 0 1,0 7,0a3.5,3.5 0 1,0 -7,0M1815.6,1291.6a3.5,3.5 0 1,0 7,0a3.5,3.5 0 1,0 -7,0M1807.5,1291.6a3.5,3.5 0 1,0 7,0a3.5,3.5 0 1,0 -7,0M1775,1291.6a3.5,3.5 0 1,0 7,0a3.5,3.5 0 1,0 -7,0M1816.8,1291.6a3.5,3.5 0 1,0 7,0a3.5,3.5 0 1,0 -7,0M1780.2,1291.6a3.5,3.5 0 1,0 7,0a3.5,3.5 0 1,0 -7,0M1799.8,1264.2a3.5,3.5 0 1,0 7,0a3.5,3.5 0 1,0 -7,0M1788.3,1264.2a3.5,3.5 0 1,0 7,0a3.5,3.5 0 1,0 -7,0M1792.7,1264.2a3.5,3.5 0 1,0 7,0a3.5,3.5 0 1,0 -7,0M1780.2,1264.2a3.5,3.5 0 1,0 7,0a3.5,3.5 0 1,0 -7,0M1691.9,1264.2a3.5,3.5 0 1,0 7,0a3.5,3.5 0 1,0 -7,0M1816,1264.2a3.5,3.5 0 1,0 7,0a3.5,3.5 0 1,0 -7,0M1769.1,1264.2a3.5,3.5 0 1,0 7,0a3.5,3.5 0 1,0 -7,0M1832.6,1287.2a3.5,3.5 0 1,0 7,0a3.5,3.5 0 1,0 -7,0M1761.4,1287.2a3.5,3.5 0 1,0 7,0a3.5,3.5 0 1,0 -7,0M1769.1,1287.2a3.5,3.5 0 1,0 7,0a3.5,3.5 0 1,0 -7,0M1765.1,1287.2a3.5,3.5 0 1,0 7,0a3.5,3.5 0 1,0 -7,0M1768.7,1287.2a3.5,3.5 0 1,0 7,0a3.5,3.5 0 1,0 -7,0M1745.8,1287.2a3.5,3.5 0 1,0 7,0a3.5,3.5 0 1,0 -7,0M1750.6,1287.2a3.5,3.5 0 1,0 7,0a3.5,3.5 0 1,0 -7,0M1766.2,1287.2a3.5,3.5 0 1,0 7,0a3.5,3.5 0 1,0 -7,0M1741.4,1287.2a3.5,3.5 0 1,0 7,0a3.5,3.5 0 1,0 -7,0M1651.7,1287.2a3.5,3.5 0 1,0 7,0a3.5,3.5 0 1,0 -7,0M1677.9,1287.2a3.5,3.5 0 1,0 7,0a3.5,3.5 0 1,0 -7,0M1775,1327.7a3.5,3.5 0 1,0 7,0a3.5,3.5 0 1,0 -7,0M1817.5,1327.7a3.5,3.5 0 1,0 7,0a3.5,3.5 0 1,0 -7,0M1677.9,1327.7a3.5,3.5 0 1,0 7,0a3.5,3.5 0 1,0 -7,0M1720,1327.7a3.5,3.5 0 1,0 7,0a3.5,3.5 0 1,0 -7,0M1966.3,1327.7a3.5,3.5 0 1,0 7,0a3.5,3.5 0 1,0 -7,0M1761.7,1327.7a3.5,3.5 0 1,0 7,0a3.5,3.5 0 1,0 -7,0M1665.7,1327.7a3.5,3.5 0 1,0 7,0a3.5,3.5 0 1,0 -7,0" fill="#4f4f4f"/>
</g>
<rect x="1592.8" y="1080.8" width="406.8" height="405.9" fill="none" stroke="#3c3c3c" stroke-width="1.6"/>
<line x1="1611.6" y1="1486.7" x2="1611.6" y2="1490.3" stroke="#3c3c3c" stroke-width="1.4"/>
<text x="1612.3" y="1514.6" font-size="23.5" text-anchor="middle" fill="#4d4d4d" stroke="#4d4d4d" stroke-width="0.3">0</text>
<line x1="1703.92" y1="1486.7" x2="1703.92" y2="1490.3" stroke="#3c3c3c" stroke-width="1.4"/>
<text x="1704.62" y="1514.6" font-size="23.5" text-anchor="middle" fill="#4d4d4d" stroke="#4d4d4d" stroke-width="0.3">25</text>
<line x1="1796.25" y1="1486.7" x2="1796.25" y2="1490.3" stroke="#3c3c3c" stroke-width="1.4"/>
<text x="1796.95" y="1514.6" font-size="23.5" text-anchor="middle" fill="#4d4d4d" stroke="#4d4d4d" stroke-width="0.3">50</text>
<line x1="1888.57" y1="1486.7" x2="1888.57" y2="1490.3" stroke="#3c3c3c" stroke-width="1.4"/>
<text x="1889.27" y="1514.6" font-size="23.5" text-anchor="middle" fill="#4d4d4d" stroke="#4d4d4d" stroke-width="0.3">75</text>
<line x1="1980.9" y1="1486.7" x2="1980.9" y2="1490.3" stroke="#3c3c3c" stroke-width="1.4"/>
<text x="1981.6" y="1514.6" font-size="23.5" text-anchor="middle" fill="#4d4d4d" stroke="#4d4d4d" stroke-width="0.3">100</text>
<line x1="1589.2" y1="1468.1" x2="1592.8" y2="1468.1" stroke="#3c3c3c" stroke-width="1.4"/>
<text x="1583.8" y="1475.4" font-size="23.5" text-anchor="end" fill="#4d4d4d" stroke="#4d4d4d" stroke-width="0.3">0</text>
<line x1="1589.2" y1="1375.6" x2="1592.8" y2="1375.6" stroke="#3c3c3c" stroke-width="1.4"/>
<text x="1583.8" y="1382.9" font-size="23.5" text-anchor="end" fill="#4d4d4d" stroke="#4d4d4d" stroke-width="0.3">25</text>
<line x1="1589.2" y1="1283.1" x2="1592.8" y2="1283.1" stroke="#3c3c3c" stroke-width="1.4"/>
<text x="1583.8" y="1290.4" font-size="23.5" text-anchor="end" fill="#4d4d4d" stroke="#4d4d4d" stroke-width="0.3">50</text>
<line x1="1589.2" y1="1190.6" x2="1592.8" y2="1190.6" stroke="#3c3c3c" stroke-width="1.4"/>
<text x="1583.8" y="1197.9" font-size="23.5" text-anchor="end" fill="#4d4d4d" stroke="#4d4d4d" stroke-width="0.3">75</text>
<line x1="1589.2" y1="1098.1" x2="1592.8" y2="1098.1" stroke="#3c3c3c" stroke-width="1.4"/>
<text x="1583.8" y="1105.4" font-size="23.5" text-anchor="end" fill="#4d4d4d" stroke="#4d4d4d" stroke-width="0.3">100</text>
<text x="1592.5" y="1059.9" font-size="28.4" stroke="#000" stroke-width="0.3">insertions vs deletions</text>
<text x="1796" y="1542.5" font-size="27" text-anchor="middle" stroke="#000" stroke-width="0.3">PSI (deletion)</text>
<text x="1546" y="1283" font-size="27" text-anchor="middle" transform="rotate(-90 1546 1283)" stroke="#000" stroke-width="0.3">PSI (insertion after)</text>
<text x="1606" y="1107.5" font-size="22.3" stroke="#000" stroke-width="0.3">Spearman’s ρ = 0.026</text>
<text x="1606" y="1133.8" font-size="22.3" stroke="#000" stroke-width="0.3">n = 186</text>
</g>
</svg></body></html>
